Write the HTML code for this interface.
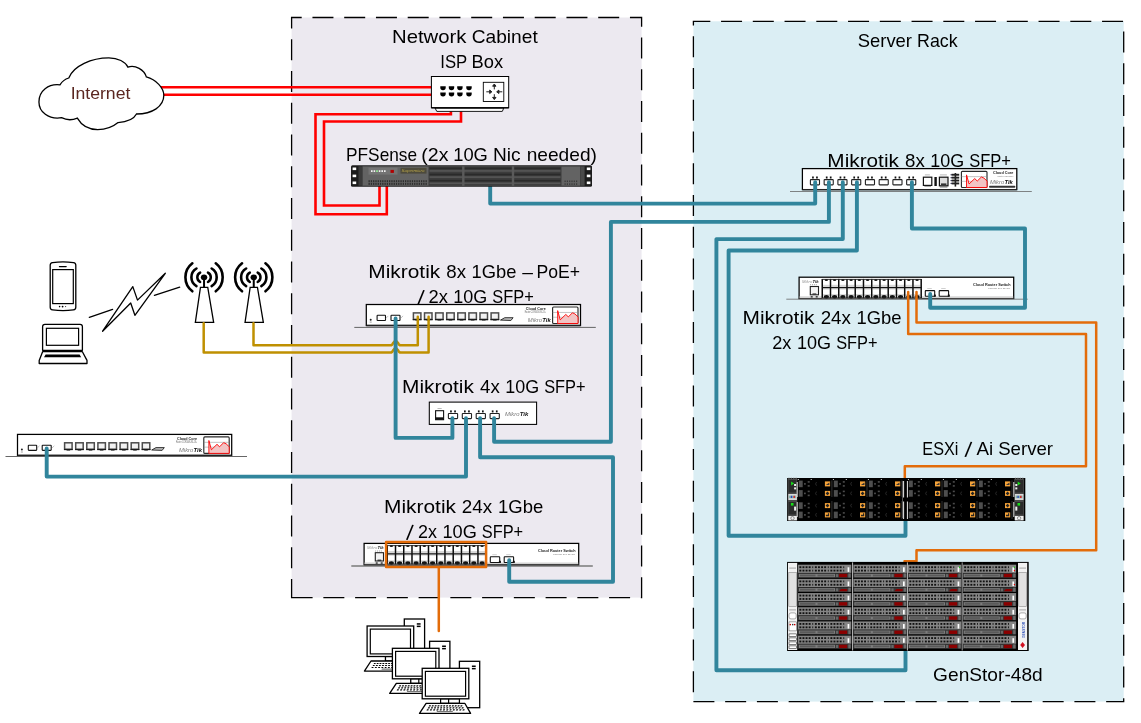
<!DOCTYPE html>
<html lang="en"><head><meta charset="utf-8"><title>Network diagram</title>
<style>html,body{margin:0;padding:0;background:#fff;}body{width:1141px;height:723px;overflow:hidden;}svg{display:block;will-change:transform;}</style>
</head><body>
<svg width="1141" height="723" viewBox="0 0 1141 723">
<rect x="0" y="0" width="1141" height="723" fill="#fff"/>
<rect x="291.6" y="17.5" width="350" height="580.1" fill="#ece9f0"/>
<path d="M291.6 597.6 H641.6 V17.5 H291.6 Z" fill="none" stroke="#000" stroke-width="1.3" stroke-dasharray="21 10.75"/>
<rect x="693.4" y="21.3" width="430.3" height="680.3" fill="#dbeef4"/>
<path d="M693.4 701.6 H1123.7 V21.3 H693.4 Z" fill="none" stroke="#000" stroke-width="1.3" stroke-dasharray="21 10.75"/>
<text font-family="'Liberation Sans', sans-serif" font-size="18.4" fill="#000"><tspan x="392.03" y="42.7" textLength="74.37" lengthAdjust="spacingAndGlyphs">Network</tspan> <tspan x="471.74" y="42.7" textLength="65.99" lengthAdjust="spacingAndGlyphs">Cabinet</tspan></text>
<text font-family="'Liberation Sans', sans-serif" font-size="18.4" fill="#000"><tspan x="440.27" y="67.7" textLength="26.69" lengthAdjust="spacingAndGlyphs">ISP</tspan> <tspan x="471.59" y="67.7" textLength="31.55" lengthAdjust="spacingAndGlyphs">Box</tspan></text>
<text font-family="'Liberation Sans', sans-serif" font-size="18.4" fill="#000"><tspan x="346.08" y="160.7" textLength="70.97" lengthAdjust="spacingAndGlyphs">PFSense</tspan> <tspan x="421.28" y="160.7" textLength="27.15" lengthAdjust="spacingAndGlyphs">(2x</tspan> <tspan x="453.23" y="160.7" textLength="34.65" lengthAdjust="spacingAndGlyphs">10G</tspan> <tspan x="492.92" y="160.7" textLength="27.59" lengthAdjust="spacingAndGlyphs">Nic</tspan> <tspan x="526.71" y="160.7" textLength="70.19" lengthAdjust="spacingAndGlyphs">needed)</tspan></text>
<text font-family="'Liberation Sans', sans-serif" font-size="18.4" fill="#000"><tspan x="857.77" y="47" textLength="54.21" lengthAdjust="spacingAndGlyphs">Server</tspan> <tspan x="917.03" y="47" textLength="40.58" lengthAdjust="spacingAndGlyphs">Rack</tspan></text>
<text font-family="'Liberation Sans', sans-serif" font-size="18.4" fill="#000"><tspan x="827.39" y="166.6" textLength="71.5" lengthAdjust="spacingAndGlyphs">Mikrotik</tspan> <tspan x="905.11" y="166.6" textLength="19.75" lengthAdjust="spacingAndGlyphs">8x</tspan> <tspan x="930.36" y="166.6" textLength="33.89" lengthAdjust="spacingAndGlyphs">10G</tspan> <tspan x="969.16" y="166.6" textLength="41.85" lengthAdjust="spacingAndGlyphs">SFP+</tspan></text>
<text font-family="'Liberation Sans', sans-serif" font-size="18.4" fill="#000"><tspan x="368.38" y="277.8" textLength="71.81" lengthAdjust="spacingAndGlyphs">Mikrotik</tspan> <tspan x="446.31" y="277.8" textLength="19.75" lengthAdjust="spacingAndGlyphs">8x</tspan> <tspan x="471.52" y="277.8" textLength="44.88" lengthAdjust="spacingAndGlyphs">1Gbe</tspan> <tspan x="522.3" y="277.8" textLength="10.72" lengthAdjust="spacingAndGlyphs">–</tspan> <tspan x="536.55" y="277.8" textLength="43.62" lengthAdjust="spacingAndGlyphs">PoE+</tspan></text>
<text font-family="'Liberation Sans', sans-serif" font-size="18.4" fill="#000"><tspan x="416.9" y="304.8" font-size="21.34" rotate="7">/</tspan> <tspan x="428.58" y="302.9" textLength="19.37" lengthAdjust="spacingAndGlyphs">2x</tspan> <tspan x="453.35" y="302.9" textLength="34" lengthAdjust="spacingAndGlyphs">10G</tspan> <tspan x="492.26" y="302.9" textLength="41.54" lengthAdjust="spacingAndGlyphs">SFP+</tspan></text>
<text font-family="'Liberation Sans', sans-serif" font-size="18.4" fill="#000"><tspan x="402.08" y="392.6" textLength="71.81" lengthAdjust="spacingAndGlyphs">Mikrotik</tspan> <tspan x="480.08" y="392.6" textLength="19.78" lengthAdjust="spacingAndGlyphs">4x</tspan> <tspan x="505.36" y="392.6" textLength="33.89" lengthAdjust="spacingAndGlyphs">10G</tspan> <tspan x="544.16" y="392.6" textLength="41.44" lengthAdjust="spacingAndGlyphs">SFP+</tspan></text>
<text font-family="'Liberation Sans', sans-serif" font-size="18.4" fill="#000"><tspan x="384.08" y="512.8" textLength="71.91" lengthAdjust="spacingAndGlyphs">Mikrotik</tspan> <tspan x="461.86" y="512.8" textLength="30.37" lengthAdjust="spacingAndGlyphs">24x</tspan> <tspan x="498.01" y="512.8" textLength="45.2" lengthAdjust="spacingAndGlyphs">1Gbe</tspan></text>
<text font-family="'Liberation Sans', sans-serif" font-size="18.4" fill="#000"><tspan x="406.1" y="539.6" font-size="21.34" rotate="7">/</tspan> <tspan x="418" y="537.7" textLength="18.94" lengthAdjust="spacingAndGlyphs">2x</tspan> <tspan x="442.44" y="537.7" textLength="34.33" lengthAdjust="spacingAndGlyphs">10G</tspan> <tspan x="481.76" y="537.7" textLength="41.44" lengthAdjust="spacingAndGlyphs">SFP+</tspan></text>
<text font-family="'Liberation Sans', sans-serif" font-size="18.4" fill="#000"><tspan x="742.58" y="323.6" textLength="71.91" lengthAdjust="spacingAndGlyphs">Mikrotik</tspan> <tspan x="820.66" y="323.6" textLength="30.27" lengthAdjust="spacingAndGlyphs">24x</tspan> <tspan x="856.42" y="323.6" textLength="45.09" lengthAdjust="spacingAndGlyphs">1Gbe</tspan></text>
<text font-family="'Liberation Sans', sans-serif" font-size="18.4" fill="#000"><tspan x="772.19" y="348.6" textLength="19.15" lengthAdjust="spacingAndGlyphs">2x</tspan> <tspan x="797.05" y="348.6" textLength="34.11" lengthAdjust="spacingAndGlyphs">10G</tspan> <tspan x="836.16" y="348.6" textLength="41.44" lengthAdjust="spacingAndGlyphs">SFP+</tspan></text>
<text font-family="'Liberation Sans', sans-serif" font-size="18.4" fill="#000"><tspan x="922.36" y="454.7" textLength="36.04" lengthAdjust="spacingAndGlyphs">ESXi</tspan> <tspan x="964.5" y="456.6" font-size="21.34" rotate="7">/</tspan> <tspan x="976.55" y="454.7" textLength="16.7" lengthAdjust="spacingAndGlyphs">Ai</tspan> <tspan x="998.16" y="454.7" textLength="54.93" lengthAdjust="spacingAndGlyphs">Server</tspan></text>
<text font-family="'Liberation Sans', sans-serif" font-size="18.4" fill="#000"><tspan x="933.14" y="680.8" textLength="109.57" lengthAdjust="spacingAndGlyphs">GenStor-48d</tspan></text>
<path d="M160 87.3 L431 87.3" fill="none" stroke="#ff0000" stroke-width="2.6" stroke-linecap="butt" stroke-linejoin="round" />
<path d="M160 94.8 L431 94.8" fill="none" stroke="#ff0000" stroke-width="2.6" stroke-linecap="butt" stroke-linejoin="round" />
<path d="M59.97 84.84 C61.55 82.21 64.84 79.18 68.78 78 C73.38 65.77 91.79 57.89 108.87 57.89 C118.08 57.89 125.31 61.83 127.94 67.09 C135.17 64.46 144.37 69.72 146.34 76.95 C156.2 79.58 163.82 88.12 163.82 95.35 C163.82 106.53 152.26 114.02 136.48 114.02 C133.85 119.02 126.62 122.04 118.08 122.56 C112.16 127.56 104.93 129.53 97.7 129.53 C88.5 129.53 81.27 124.93 77.32 118.1 C72.07 120.33 65.49 119.67 61.55 117.7 C48.4 119.67 38.94 111.79 38.94 101.93 C38.94 90.75 48.4 83.52 59.97 84.84 Z" fill="#fff" stroke="#000" stroke-width="1.3"/>
<text font-family="'Liberation Sans', sans-serif" font-size="15.8" fill="#5a2620"><tspan x="70.67" y="99" textLength="59.68" lengthAdjust="spacingAndGlyphs">Internet</tspan></text>
<path d="M450.9 111 L450.9 114.3 L315.5 114.3 L315.5 214.2 L386.8 214.2 L386.8 184" fill="none" stroke="#ff0000" stroke-width="2.6" stroke-linecap="butt" stroke-linejoin="miter" />
<path d="M461 111 L461 121.5 L324 121.5 L324 205.5 L379.5 205.5 L379.5 184" fill="none" stroke="#ff0000" stroke-width="2.6" stroke-linecap="butt" stroke-linejoin="miter" />
<path d="M435 108 L503.8 108 L502.3 111.4 L436.8 111.4 Z" fill="#fff" stroke="#000" stroke-width="0.9" stroke-linejoin="round"/>
<rect x="431.4" y="76.5" width="77.3" height="31.2" fill="#fff" stroke="#000" stroke-width="1" />
<line x1="431.4" y1="107.9" x2="508.7" y2="107.9" stroke="#000" stroke-width="1.3" />
<path d="M440.3 86.3 h5.4 v1.3 q0 2.6 -2.7 2.6 q-2.7 0 -2.7 -2.6 Z" fill="#000"/>
<path d="M440.3 92.5 h5.4 v1.3 q0 2.6 -2.7 2.6 q-2.7 0 -2.7 -2.6 Z" fill="#000"/>
<path d="M448.8 86.3 h5.4 v1.3 q0 2.6 -2.7 2.6 q-2.7 0 -2.7 -2.6 Z" fill="#000"/>
<path d="M448.8 92.5 h5.4 v1.3 q0 2.6 -2.7 2.6 q-2.7 0 -2.7 -2.6 Z" fill="#000"/>
<path d="M457.2 86.3 h5.4 v1.3 q0 2.6 -2.7 2.6 q-2.7 0 -2.7 -2.6 Z" fill="#000"/>
<path d="M457.2 92.5 h5.4 v1.3 q0 2.6 -2.7 2.6 q-2.7 0 -2.7 -2.6 Z" fill="#000"/>
<path d="M466.3 86.3 h5.4 v1.3 q0 2.6 -2.7 2.6 q-2.7 0 -2.7 -2.6 Z" fill="#000"/>
<path d="M466.3 92.5 h5.4 v1.3 q0 2.6 -2.7 2.6 q-2.7 0 -2.7 -2.6 Z" fill="#000"/>
<rect x="483.3" y="82.3" width="20.5" height="19.2" fill="#fff" stroke="#000" stroke-width="0.9" />
<g stroke="#222" stroke-width="1" fill="#222" stroke-linejoin="round"><path d="M494.3 89.39999999999999 V85.8 M492.6 86.2 L494.3 84.0 L496.0 86.2 Z"/><path d="M494.3 94.2 V97.8 M492.6 97.39999999999999 L494.3 99.6 L496.0 97.39999999999999 Z"/><path d="M486.3 91.8 H489.7 M489.7 90.1 L491.90000000000003 91.8 L489.7 93.5 Z"/><path d="M502.3 91.8 H498.90000000000003 M498.90000000000003 90.1 L496.7 91.8 L498.90000000000003 93.5 Z"/></g>
<line x1="354.3" y1="327.4" x2="595.8" y2="327.4" stroke="#555" stroke-width="0.9" />
<rect x="366.3" y="304.5" width="214.2" height="21" fill="#fff" stroke="#000" stroke-width="1.25" />
<line x1="366.3" y1="325.5" x2="580.5" y2="325.5" stroke="#222" stroke-width="1.3" />
<circle cx="370.7" cy="319.7" r="1" fill="#222"/>
<line x1="369.7" y1="322.1" x2="371.7" y2="322.1" stroke="#444" stroke-width="0.5" />
<rect x="377.1" y="315.3" width="8.4" height="5.2" fill="#fff" stroke="#111" stroke-width="1.1" rx="0.6"/>
<rect x="391" y="315.3" width="9" height="5.2" fill="#fff" stroke="#111" stroke-width="1.1" rx="0.6"/>
<line x1="385.9" y1="318.3" x2="388.3" y2="315.9" stroke="#999" stroke-width="0.6" />
<line x1="400.6" y1="318.3" x2="403.1" y2="315.9" stroke="#999" stroke-width="0.6" />
<rect x="413.4" y="312.9" width="7.5" height="6.5" fill="#f2f2f2" stroke="#4c4c4c" stroke-width="1.5" />
<rect x="412.8" y="319" width="8.7" height="1.2" fill="#1a1a1a" stroke="none" stroke-width="1" />
<rect x="415.37" y="320.1" width="3.56" height="0.8" fill="#555" stroke="none" stroke-width="1" />
<rect x="424.5" y="312.9" width="7.5" height="6.5" fill="#f2f2f2" stroke="#4c4c4c" stroke-width="1.5" />
<rect x="423.9" y="319" width="8.7" height="1.2" fill="#1a1a1a" stroke="none" stroke-width="1" />
<rect x="426.47" y="320.1" width="3.56" height="0.8" fill="#555" stroke="none" stroke-width="1" />
<rect x="435.6" y="312.9" width="7.5" height="6.5" fill="#f2f2f2" stroke="#4c4c4c" stroke-width="1.5" />
<rect x="435" y="319" width="8.7" height="1.2" fill="#1a1a1a" stroke="none" stroke-width="1" />
<rect x="437.57" y="320.1" width="3.56" height="0.8" fill="#555" stroke="none" stroke-width="1" />
<rect x="446.7" y="312.9" width="7.5" height="6.5" fill="#f2f2f2" stroke="#4c4c4c" stroke-width="1.5" />
<rect x="446.1" y="319" width="8.7" height="1.2" fill="#1a1a1a" stroke="none" stroke-width="1" />
<rect x="448.67" y="320.1" width="3.56" height="0.8" fill="#555" stroke="none" stroke-width="1" />
<rect x="457.8" y="312.9" width="7.5" height="6.5" fill="#f2f2f2" stroke="#4c4c4c" stroke-width="1.5" />
<rect x="457.2" y="319" width="8.7" height="1.2" fill="#1a1a1a" stroke="none" stroke-width="1" />
<rect x="459.77" y="320.1" width="3.56" height="0.8" fill="#555" stroke="none" stroke-width="1" />
<rect x="468.9" y="312.9" width="7.5" height="6.5" fill="#f2f2f2" stroke="#4c4c4c" stroke-width="1.5" />
<rect x="468.3" y="319" width="8.7" height="1.2" fill="#1a1a1a" stroke="none" stroke-width="1" />
<rect x="470.87" y="320.1" width="3.56" height="0.8" fill="#555" stroke="none" stroke-width="1" />
<rect x="480" y="312.9" width="7.5" height="6.5" fill="#f2f2f2" stroke="#4c4c4c" stroke-width="1.5" />
<rect x="479.4" y="319" width="8.7" height="1.2" fill="#1a1a1a" stroke="none" stroke-width="1" />
<rect x="481.97" y="320.1" width="3.56" height="0.8" fill="#555" stroke="none" stroke-width="1" />
<rect x="491.1" y="312.9" width="7.5" height="6.5" fill="#f2f2f2" stroke="#4c4c4c" stroke-width="1.5" />
<rect x="490.5" y="319" width="8.7" height="1.2" fill="#1a1a1a" stroke="none" stroke-width="1" />
<rect x="493.07" y="320.1" width="3.56" height="0.8" fill="#555" stroke="none" stroke-width="1" />
<path d="M500.5 320.1 L504.8 317.7 L513.1 317.7 L510.9 320.5 Z" fill="#bbb" stroke="#222" stroke-width="0.9" stroke-linejoin="round"/>
<text transform="translate(525.8 310.3) scale(0.1)" font-family="'Liberation Sans', sans-serif" font-size="44" font-weight="bold" font-style="normal" fill="#222" textLength="200" lengthAdjust="spacingAndGlyphs">Cloud Core</text>
<text transform="translate(524.8 313.3) scale(0.1)" font-family="'Liberation Sans', sans-serif" font-size="26" font-weight="normal" font-style="normal" fill="#666" textLength="210" lengthAdjust="spacingAndGlyphs">Router CCR1009-8G-1S+</text>
<text transform="translate(527.8 321.7) scale(0.1)" font-family="'Liberation Sans', sans-serif" font-size="56" font-weight="normal" font-style="italic" fill="#777" textLength="142.6" lengthAdjust="spacingAndGlyphs">Mikro</text>
<text transform="translate(542.29 321.7) scale(0.1)" font-family="'Liberation Sans', sans-serif" font-size="56" font-weight="bold" font-style="italic" fill="#111" textLength="85.1" lengthAdjust="spacingAndGlyphs">Tik</text>
<rect x="552.6" y="307" width="25.4" height="16.5" fill="#fff" stroke="#2a2a2a" stroke-width="1.15" rx="1"/>
<line x1="552.6" y1="312.44" x2="578" y2="312.44" stroke="#888" stroke-width="0.5" />
<line x1="552.6" y1="317.23" x2="578" y2="317.23" stroke="#888" stroke-width="0.5" />
<path d="M557.68 323.5 L557.68 310.63 L560.22 319.87 L565.81 314.43 L568.35 316.9 L572.41 312.77 L574.95 313.93 L578 316.9 L578 323.5 Z" fill="#f2c4c4" stroke="#f00" stroke-width="0.9" stroke-linejoin="round"/>
<line x1="5.5" y1="456.5" x2="247" y2="456.5" stroke="#555" stroke-width="0.9" />
<rect x="17.5" y="434.4" width="214.2" height="21" fill="#fff" stroke="#000" stroke-width="1.25" />
<line x1="17.5" y1="455.4" x2="231.7" y2="455.4" stroke="#222" stroke-width="1.3" />
<circle cx="21.9" cy="449.6" r="1" fill="#222"/>
<line x1="20.9" y1="452" x2="22.9" y2="452" stroke="#444" stroke-width="0.5" />
<rect x="28.3" y="445.2" width="8.4" height="5.2" fill="#fff" stroke="#111" stroke-width="1.1" rx="0.6"/>
<rect x="42.2" y="445.2" width="9" height="5.2" fill="#fff" stroke="#111" stroke-width="1.1" rx="0.6"/>
<line x1="37.1" y1="448.2" x2="39.5" y2="445.8" stroke="#999" stroke-width="0.6" />
<line x1="51.8" y1="448.2" x2="54.3" y2="445.8" stroke="#999" stroke-width="0.6" />
<rect x="64.6" y="442.8" width="7.5" height="6.5" fill="#f2f2f2" stroke="#4c4c4c" stroke-width="1.5" />
<rect x="64" y="448.9" width="8.7" height="1.2" fill="#1a1a1a" stroke="none" stroke-width="1" />
<rect x="66.57" y="450" width="3.56" height="0.8" fill="#555" stroke="none" stroke-width="1" />
<rect x="75.7" y="442.8" width="7.5" height="6.5" fill="#f2f2f2" stroke="#4c4c4c" stroke-width="1.5" />
<rect x="75.1" y="448.9" width="8.7" height="1.2" fill="#1a1a1a" stroke="none" stroke-width="1" />
<rect x="77.67" y="450" width="3.56" height="0.8" fill="#555" stroke="none" stroke-width="1" />
<rect x="86.8" y="442.8" width="7.5" height="6.5" fill="#f2f2f2" stroke="#4c4c4c" stroke-width="1.5" />
<rect x="86.2" y="448.9" width="8.7" height="1.2" fill="#1a1a1a" stroke="none" stroke-width="1" />
<rect x="88.77" y="450" width="3.56" height="0.8" fill="#555" stroke="none" stroke-width="1" />
<rect x="97.9" y="442.8" width="7.5" height="6.5" fill="#f2f2f2" stroke="#4c4c4c" stroke-width="1.5" />
<rect x="97.3" y="448.9" width="8.7" height="1.2" fill="#1a1a1a" stroke="none" stroke-width="1" />
<rect x="99.87" y="450" width="3.56" height="0.8" fill="#555" stroke="none" stroke-width="1" />
<rect x="109" y="442.8" width="7.5" height="6.5" fill="#f2f2f2" stroke="#4c4c4c" stroke-width="1.5" />
<rect x="108.4" y="448.9" width="8.7" height="1.2" fill="#1a1a1a" stroke="none" stroke-width="1" />
<rect x="110.97" y="450" width="3.56" height="0.8" fill="#555" stroke="none" stroke-width="1" />
<rect x="120.1" y="442.8" width="7.5" height="6.5" fill="#f2f2f2" stroke="#4c4c4c" stroke-width="1.5" />
<rect x="119.5" y="448.9" width="8.7" height="1.2" fill="#1a1a1a" stroke="none" stroke-width="1" />
<rect x="122.07" y="450" width="3.56" height="0.8" fill="#555" stroke="none" stroke-width="1" />
<rect x="131.2" y="442.8" width="7.5" height="6.5" fill="#f2f2f2" stroke="#4c4c4c" stroke-width="1.5" />
<rect x="130.6" y="448.9" width="8.7" height="1.2" fill="#1a1a1a" stroke="none" stroke-width="1" />
<rect x="133.17" y="450" width="3.56" height="0.8" fill="#555" stroke="none" stroke-width="1" />
<rect x="142.3" y="442.8" width="7.5" height="6.5" fill="#f2f2f2" stroke="#4c4c4c" stroke-width="1.5" />
<rect x="141.7" y="448.9" width="8.7" height="1.2" fill="#1a1a1a" stroke="none" stroke-width="1" />
<rect x="144.27" y="450" width="3.56" height="0.8" fill="#555" stroke="none" stroke-width="1" />
<path d="M151.7 450 L156 447.6 L164.3 447.6 L162.1 450.4 Z" fill="#bbb" stroke="#222" stroke-width="0.9" stroke-linejoin="round"/>
<text transform="translate(177 440.2) scale(0.1)" font-family="'Liberation Sans', sans-serif" font-size="44" font-weight="bold" font-style="normal" fill="#222" textLength="200" lengthAdjust="spacingAndGlyphs">Cloud Core</text>
<text transform="translate(176 443.2) scale(0.1)" font-family="'Liberation Sans', sans-serif" font-size="26" font-weight="normal" font-style="normal" fill="#666" textLength="210" lengthAdjust="spacingAndGlyphs">Router CCR1009-8G-1S+</text>
<text transform="translate(179 451.6) scale(0.1)" font-family="'Liberation Sans', sans-serif" font-size="56" font-weight="normal" font-style="italic" fill="#777" textLength="142.6" lengthAdjust="spacingAndGlyphs">Mikro</text>
<text transform="translate(193.49 451.6) scale(0.1)" font-family="'Liberation Sans', sans-serif" font-size="56" font-weight="bold" font-style="italic" fill="#111" textLength="85.1" lengthAdjust="spacingAndGlyphs">Tik</text>
<rect x="203.8" y="436.9" width="25.4" height="16.5" fill="#fff" stroke="#2a2a2a" stroke-width="1.15" rx="1"/>
<line x1="203.8" y1="442.34" x2="229.2" y2="442.34" stroke="#888" stroke-width="0.5" />
<line x1="203.8" y1="447.13" x2="229.2" y2="447.13" stroke="#888" stroke-width="0.5" />
<path d="M208.88 453.4 L208.88 440.53 L211.42 449.77 L217.01 444.32 L219.55 446.8 L223.61 442.67 L226.15 443.83 L229.2 446.8 L229.2 453.4 Z" fill="#f2c4c4" stroke="#f00" stroke-width="0.9" stroke-linejoin="round"/>
<line x1="790" y1="191.5" x2="1031.8" y2="191.5" stroke="#666" stroke-width="0.8" />
<rect x="802.4" y="168.6" width="214.4" height="21" fill="#fff" stroke="#000" stroke-width="1.25" />
<line x1="802.4" y1="189.6" x2="1016.8" y2="189.6" stroke="#222" stroke-width="1.3" />
<rect x="810.4" y="179.6" width="9.1" height="5.3" fill="#fff" stroke="#222" stroke-width="1.1" rx="0.6"/>
<rect x="812.1" y="176.5" width="1.7" height="2" fill="#111" stroke="none" stroke-width="1" />
<rect x="816.1" y="176.5" width="1.7" height="2" fill="#111" stroke="none" stroke-width="1" />
<rect x="824.15" y="179.6" width="9.1" height="5.3" fill="#fff" stroke="#222" stroke-width="1.1" rx="0.6"/>
<rect x="825.85" y="176.5" width="1.7" height="2" fill="#111" stroke="none" stroke-width="1" />
<rect x="829.85" y="176.5" width="1.7" height="2" fill="#111" stroke="none" stroke-width="1" />
<rect x="837.9" y="179.6" width="9.1" height="5.3" fill="#fff" stroke="#222" stroke-width="1.1" rx="0.6"/>
<rect x="839.6" y="176.5" width="1.7" height="2" fill="#111" stroke="none" stroke-width="1" />
<rect x="843.6" y="176.5" width="1.7" height="2" fill="#111" stroke="none" stroke-width="1" />
<rect x="851.65" y="179.6" width="9.1" height="5.3" fill="#fff" stroke="#222" stroke-width="1.1" rx="0.6"/>
<rect x="853.35" y="176.5" width="1.7" height="2" fill="#111" stroke="none" stroke-width="1" />
<rect x="857.35" y="176.5" width="1.7" height="2" fill="#111" stroke="none" stroke-width="1" />
<rect x="865.4" y="179.6" width="9.1" height="5.3" fill="#fff" stroke="#222" stroke-width="1.1" rx="0.6"/>
<rect x="867.1" y="176.5" width="1.7" height="2" fill="#111" stroke="none" stroke-width="1" />
<rect x="871.1" y="176.5" width="1.7" height="2" fill="#111" stroke="none" stroke-width="1" />
<rect x="879.15" y="179.6" width="9.1" height="5.3" fill="#fff" stroke="#222" stroke-width="1.1" rx="0.6"/>
<rect x="880.85" y="176.5" width="1.7" height="2" fill="#111" stroke="none" stroke-width="1" />
<rect x="884.85" y="176.5" width="1.7" height="2" fill="#111" stroke="none" stroke-width="1" />
<rect x="892.9" y="179.6" width="9.1" height="5.3" fill="#fff" stroke="#222" stroke-width="1.1" rx="0.6"/>
<rect x="894.6" y="176.5" width="1.7" height="2" fill="#111" stroke="none" stroke-width="1" />
<rect x="898.6" y="176.5" width="1.7" height="2" fill="#111" stroke="none" stroke-width="1" />
<rect x="906.65" y="179.6" width="9.1" height="5.3" fill="#fff" stroke="#222" stroke-width="1.1" rx="0.6"/>
<rect x="908.35" y="176.5" width="1.7" height="2" fill="#111" stroke="none" stroke-width="1" />
<rect x="912.35" y="176.5" width="1.7" height="2" fill="#111" stroke="none" stroke-width="1" />
<rect x="923.4" y="177.2" width="8.4" height="8.2" fill="#fff" stroke="#111" stroke-width="1.2" />
<line x1="924.4" y1="186.2" x2="931" y2="186.2" stroke="#333" stroke-width="0.6" />
<line x1="924.9" y1="174.9" x2="929.9" y2="174.9" stroke="#777" stroke-width="0.5" />
<rect x="934.4" y="177" width="2.4" height="9" fill="#111" stroke="none" stroke-width="1" />
<rect x="939.4" y="177.2" width="8.6" height="8.6" fill="#ddd" stroke="#111" stroke-width="1.2" />
<rect x="941" y="183.4" width="5.4" height="1.6" fill="#333" stroke="none" stroke-width="1" />
<line x1="939.9" y1="187" x2="947.4" y2="187" stroke="#333" stroke-width="0.7" />
<line x1="939.9" y1="174.9" x2="946.9" y2="174.9" stroke="#777" stroke-width="0.5" />
<rect x="951.6" y="173.8" width="7.6" height="1.9" fill="#222" stroke="none" stroke-width="1" />
<rect x="950.6" y="174.2" width="1.2" height="1.1" fill="#224" stroke="none" stroke-width="1" />
<rect x="951.6" y="176.7" width="7.6" height="1.9" fill="#222" stroke="none" stroke-width="1" />
<rect x="950.6" y="177.1" width="1.2" height="1.1" fill="#224" stroke="none" stroke-width="1" />
<rect x="951.6" y="179.6" width="7.6" height="1.9" fill="#222" stroke="none" stroke-width="1" />
<rect x="950.6" y="180" width="1.2" height="1.1" fill="#224" stroke="none" stroke-width="1" />
<rect x="951.6" y="182.5" width="7.6" height="1.9" fill="#222" stroke="none" stroke-width="1" />
<rect x="950.6" y="182.9" width="1.2" height="1.1" fill="#224" stroke="none" stroke-width="1" />
<line x1="955.4" y1="173" x2="955.4" y2="186.6" stroke="#222" stroke-width="1.6" />
<rect x="961.4" y="171.3" width="25.6" height="16.2" fill="#fff" stroke="#2a2a2a" stroke-width="1.15" rx="1"/>
<line x1="961.4" y1="176.65" x2="987" y2="176.65" stroke="#888" stroke-width="0.5" />
<line x1="961.4" y1="181.34" x2="987" y2="181.34" stroke="#888" stroke-width="0.5" />
<path d="M966.52 187.5 L966.52 174.86 L969.08 183.94 L974.71 178.59 L977.27 181.02 L981.37 176.97 L983.93 178.1 L987 181.02 L987 187.5 Z" fill="#f2c4c4" stroke="#f00" stroke-width="0.9" stroke-linejoin="round"/>
<text transform="translate(993 174) scale(0.1)" font-family="'Liberation Sans', sans-serif" font-size="44" font-weight="bold" font-style="normal" fill="#222" textLength="204" lengthAdjust="spacingAndGlyphs">Cloud Core</text>
<text transform="translate(997.4 176.6) scale(0.1)" font-family="'Liberation Sans', sans-serif" font-size="24" font-weight="normal" font-style="normal" fill="#777" textLength="160" lengthAdjust="spacingAndGlyphs">Router CCR1016</text>
<text transform="translate(989.9 184) scale(0.1)" font-family="'Liberation Sans', sans-serif" font-size="56" font-weight="normal" font-style="italic" fill="#777" textLength="142.6" lengthAdjust="spacingAndGlyphs">Mikro</text>
<text transform="translate(1004.39 184) scale(0.1)" font-family="'Liberation Sans', sans-serif" font-size="56" font-weight="bold" font-style="italic" fill="#111" textLength="85.1" lengthAdjust="spacingAndGlyphs">Tik</text>
<rect x="989" y="185.8" width="26.4" height="1.9" fill="#333" stroke="none" stroke-width="1" rx="0.9"/>
<rect x="429.3" y="402.1" width="107.3" height="22.3" fill="#fff" stroke="#000" stroke-width="1.05" />
<rect x="435.6" y="410.7" width="8" height="9" fill="#fff" stroke="#111" stroke-width="1.1" />
<rect x="435.6" y="417.3" width="8" height="2.4" fill="#111" stroke="none" stroke-width="1" />
<line x1="437.5" y1="408.5" x2="441.7" y2="408.5" stroke="#777" stroke-width="0.5" />
<rect x="448.4" y="413.5" width="9.2" height="5.1" fill="#fff" stroke="#222" stroke-width="1.1" rx="0.6"/>
<rect x="450.1" y="410.4" width="1.7" height="2" fill="#111" stroke="none" stroke-width="1" />
<rect x="454.2" y="410.4" width="1.7" height="2" fill="#111" stroke="none" stroke-width="1" />
<rect x="462.3" y="413.5" width="9.2" height="5.1" fill="#fff" stroke="#222" stroke-width="1.1" rx="0.6"/>
<rect x="464" y="410.4" width="1.7" height="2" fill="#111" stroke="none" stroke-width="1" />
<rect x="468.1" y="410.4" width="1.7" height="2" fill="#111" stroke="none" stroke-width="1" />
<rect x="476.2" y="413.5" width="9.2" height="5.1" fill="#fff" stroke="#222" stroke-width="1.1" rx="0.6"/>
<rect x="477.9" y="410.4" width="1.7" height="2" fill="#111" stroke="none" stroke-width="1" />
<rect x="482" y="410.4" width="1.7" height="2" fill="#111" stroke="none" stroke-width="1" />
<rect x="490.1" y="413.5" width="9.2" height="5.1" fill="#fff" stroke="#222" stroke-width="1.1" rx="0.6"/>
<rect x="491.8" y="410.4" width="1.7" height="2" fill="#111" stroke="none" stroke-width="1" />
<rect x="495.9" y="410.4" width="1.7" height="2" fill="#111" stroke="none" stroke-width="1" />
<text transform="translate(505.1 416.2) scale(0.1)" font-family="'Liberation Sans', sans-serif" font-size="56" font-weight="normal" font-style="italic" fill="#777" textLength="143.84" lengthAdjust="spacingAndGlyphs">Mikro</text>
<text transform="translate(519.72 416.2) scale(0.1)" font-family="'Liberation Sans', sans-serif" font-size="56" font-weight="bold" font-style="italic" fill="#111" textLength="85.84" lengthAdjust="spacingAndGlyphs">Tik</text>
<line x1="351.3" y1="566" x2="592.8" y2="566" stroke="#7a7a7a" stroke-width="1.5" />
<rect x="364.1" y="543.4" width="214.6" height="21.3" fill="#fff" stroke="#000" stroke-width="1.25" />
<rect x="364.6" y="562.5" width="213.6" height="1.7" fill="#d4d4d4" stroke="none" stroke-width="1" />
<line x1="364.1" y1="564.7" x2="578.7" y2="564.7" stroke="#444" stroke-width="1" />
<text transform="translate(367.1 549.4) scale(0.1)" font-family="'Liberation Sans', sans-serif" font-size="40" font-weight="normal" font-style="italic" fill="#999" textLength="102" lengthAdjust="spacingAndGlyphs">Mikro</text>
<text transform="translate(377.5 549.4) scale(0.1)" font-family="'Liberation Sans', sans-serif" font-size="40" font-weight="bold" font-style="italic" fill="#222" textLength="62" lengthAdjust="spacingAndGlyphs">Tik</text>
<rect x="375.1" y="550.7" width="1" height="0.6" fill="#666" stroke="none" stroke-width="1" />
<rect x="377" y="550.7" width="1" height="0.6" fill="#666" stroke="none" stroke-width="1" />
<rect x="378.9" y="550.7" width="1" height="0.6" fill="#666" stroke="none" stroke-width="1" />
<rect x="380.8" y="550.7" width="1" height="0.6" fill="#666" stroke="none" stroke-width="1" />
<rect x="375.3" y="552.7" width="8.2" height="8.3" fill="#f4f4f4" stroke="#222" stroke-width="1.1" />
<rect x="377.5" y="559.6" width="3.8" height="1.4" fill="#333" stroke="none" stroke-width="1" />
<rect x="375.7" y="562.4" width="2" height="1.3" fill="#222" stroke="none" stroke-width="1" />
<rect x="380.7" y="562.4" width="2" height="1.3" fill="#222" stroke="none" stroke-width="1" />
<rect x="387.1" y="545.1" width="99.24" height="19.3" fill="#fff" stroke="none" stroke-width="1" />
<rect x="388" y="551" width="6.74" height="2.4" fill="#d8d8d8" stroke="none" stroke-width="1" />
<rect x="388" y="554.4" width="6.74" height="1.6" fill="#e2e2e2" stroke="none" stroke-width="1" />
<rect x="388" y="560.4" width="6.74" height="1.6" fill="#cfcfcf" stroke="none" stroke-width="1" />
<ellipse cx="391.37" cy="546.1" rx="1.7" ry="1.0" fill="#111"/>
<ellipse cx="391.37" cy="563" rx="2.7" ry="1.7" fill="#111"/>
<rect x="396.25" y="551" width="6.74" height="2.4" fill="#d8d8d8" stroke="none" stroke-width="1" />
<rect x="396.25" y="554.4" width="6.74" height="1.6" fill="#e2e2e2" stroke="none" stroke-width="1" />
<rect x="396.25" y="560.4" width="6.74" height="1.6" fill="#cfcfcf" stroke="none" stroke-width="1" />
<ellipse cx="399.62" cy="546.1" rx="1.7" ry="1.0" fill="#111"/>
<ellipse cx="399.62" cy="563" rx="2.7" ry="1.7" fill="#111"/>
<rect x="404.49" y="551" width="6.74" height="2.4" fill="#d8d8d8" stroke="none" stroke-width="1" />
<rect x="404.49" y="554.4" width="6.74" height="1.6" fill="#e2e2e2" stroke="none" stroke-width="1" />
<rect x="404.49" y="560.4" width="6.74" height="1.6" fill="#cfcfcf" stroke="none" stroke-width="1" />
<ellipse cx="407.86" cy="546.1" rx="1.7" ry="1.0" fill="#111"/>
<ellipse cx="407.86" cy="563" rx="2.7" ry="1.7" fill="#111"/>
<rect x="412.74" y="551" width="6.74" height="2.4" fill="#d8d8d8" stroke="none" stroke-width="1" />
<rect x="412.74" y="554.4" width="6.74" height="1.6" fill="#e2e2e2" stroke="none" stroke-width="1" />
<rect x="412.74" y="560.4" width="6.74" height="1.6" fill="#cfcfcf" stroke="none" stroke-width="1" />
<ellipse cx="416.11" cy="546.1" rx="1.7" ry="1.0" fill="#111"/>
<ellipse cx="416.11" cy="563" rx="2.7" ry="1.7" fill="#111"/>
<rect x="420.98" y="551" width="6.74" height="2.4" fill="#d8d8d8" stroke="none" stroke-width="1" />
<rect x="420.98" y="554.4" width="6.74" height="1.6" fill="#e2e2e2" stroke="none" stroke-width="1" />
<rect x="420.98" y="560.4" width="6.74" height="1.6" fill="#cfcfcf" stroke="none" stroke-width="1" />
<ellipse cx="424.35" cy="546.1" rx="1.7" ry="1.0" fill="#111"/>
<ellipse cx="424.35" cy="563" rx="2.7" ry="1.7" fill="#111"/>
<rect x="429.23" y="551" width="6.74" height="2.4" fill="#d8d8d8" stroke="none" stroke-width="1" />
<rect x="429.23" y="554.4" width="6.74" height="1.6" fill="#e2e2e2" stroke="none" stroke-width="1" />
<rect x="429.23" y="560.4" width="6.74" height="1.6" fill="#cfcfcf" stroke="none" stroke-width="1" />
<ellipse cx="432.6" cy="546.1" rx="1.7" ry="1.0" fill="#111"/>
<ellipse cx="432.6" cy="563" rx="2.7" ry="1.7" fill="#111"/>
<rect x="437.47" y="551" width="6.74" height="2.4" fill="#d8d8d8" stroke="none" stroke-width="1" />
<rect x="437.47" y="554.4" width="6.74" height="1.6" fill="#e2e2e2" stroke="none" stroke-width="1" />
<rect x="437.47" y="560.4" width="6.74" height="1.6" fill="#cfcfcf" stroke="none" stroke-width="1" />
<ellipse cx="440.84" cy="546.1" rx="1.7" ry="1.0" fill="#111"/>
<ellipse cx="440.84" cy="563" rx="2.7" ry="1.7" fill="#111"/>
<rect x="445.71" y="551" width="6.74" height="2.4" fill="#d8d8d8" stroke="none" stroke-width="1" />
<rect x="445.71" y="554.4" width="6.74" height="1.6" fill="#e2e2e2" stroke="none" stroke-width="1" />
<rect x="445.71" y="560.4" width="6.74" height="1.6" fill="#cfcfcf" stroke="none" stroke-width="1" />
<ellipse cx="449.09" cy="546.1" rx="1.7" ry="1.0" fill="#111"/>
<ellipse cx="449.09" cy="563" rx="2.7" ry="1.7" fill="#111"/>
<rect x="453.96" y="551" width="6.74" height="2.4" fill="#d8d8d8" stroke="none" stroke-width="1" />
<rect x="453.96" y="554.4" width="6.74" height="1.6" fill="#e2e2e2" stroke="none" stroke-width="1" />
<rect x="453.96" y="560.4" width="6.74" height="1.6" fill="#cfcfcf" stroke="none" stroke-width="1" />
<ellipse cx="457.33" cy="546.1" rx="1.7" ry="1.0" fill="#111"/>
<ellipse cx="457.33" cy="563" rx="2.7" ry="1.7" fill="#111"/>
<rect x="462.2" y="551" width="6.74" height="2.4" fill="#d8d8d8" stroke="none" stroke-width="1" />
<rect x="462.2" y="554.4" width="6.74" height="1.6" fill="#e2e2e2" stroke="none" stroke-width="1" />
<rect x="462.2" y="560.4" width="6.74" height="1.6" fill="#cfcfcf" stroke="none" stroke-width="1" />
<ellipse cx="465.58" cy="546.1" rx="1.7" ry="1.0" fill="#111"/>
<ellipse cx="465.58" cy="563" rx="2.7" ry="1.7" fill="#111"/>
<rect x="470.45" y="551" width="6.74" height="2.4" fill="#d8d8d8" stroke="none" stroke-width="1" />
<rect x="470.45" y="554.4" width="6.74" height="1.6" fill="#e2e2e2" stroke="none" stroke-width="1" />
<rect x="470.45" y="560.4" width="6.74" height="1.6" fill="#cfcfcf" stroke="none" stroke-width="1" />
<ellipse cx="473.82" cy="546.1" rx="1.7" ry="1.0" fill="#111"/>
<ellipse cx="473.82" cy="563" rx="2.7" ry="1.7" fill="#111"/>
<rect x="478.69" y="551" width="6.74" height="2.4" fill="#d8d8d8" stroke="none" stroke-width="1" />
<rect x="478.69" y="554.4" width="6.74" height="1.6" fill="#e2e2e2" stroke="none" stroke-width="1" />
<rect x="478.69" y="560.4" width="6.74" height="1.6" fill="#cfcfcf" stroke="none" stroke-width="1" />
<ellipse cx="482.07" cy="546.1" rx="1.7" ry="1.0" fill="#111"/>
<ellipse cx="482.07" cy="563" rx="2.7" ry="1.7" fill="#111"/>
<line x1="387.25" y1="545.1" x2="387.25" y2="564.3" stroke="#0a0a0a" stroke-width="1.5" />
<line x1="395.5" y1="545.1" x2="395.5" y2="564.3" stroke="#0a0a0a" stroke-width="1.5" />
<line x1="403.74" y1="545.1" x2="403.74" y2="564.3" stroke="#0a0a0a" stroke-width="1.5" />
<line x1="411.99" y1="545.1" x2="411.99" y2="564.3" stroke="#0a0a0a" stroke-width="1.5" />
<line x1="420.23" y1="545.1" x2="420.23" y2="564.3" stroke="#0a0a0a" stroke-width="1.5" />
<line x1="428.48" y1="545.1" x2="428.48" y2="564.3" stroke="#0a0a0a" stroke-width="1.5" />
<line x1="436.72" y1="545.1" x2="436.72" y2="564.3" stroke="#0a0a0a" stroke-width="1.5" />
<line x1="444.96" y1="545.1" x2="444.96" y2="564.3" stroke="#0a0a0a" stroke-width="1.5" />
<line x1="453.21" y1="545.1" x2="453.21" y2="564.3" stroke="#0a0a0a" stroke-width="1.5" />
<line x1="461.45" y1="545.1" x2="461.45" y2="564.3" stroke="#0a0a0a" stroke-width="1.5" />
<line x1="469.7" y1="545.1" x2="469.7" y2="564.3" stroke="#0a0a0a" stroke-width="1.5" />
<line x1="477.94" y1="545.1" x2="477.94" y2="564.3" stroke="#0a0a0a" stroke-width="1.5" />
<line x1="486.19" y1="545.1" x2="486.19" y2="564.3" stroke="#0a0a0a" stroke-width="1.5" />
<line x1="387.1" y1="553.85" x2="486.34" y2="553.85" stroke="#111" stroke-width="1.3" />
<line x1="387.1" y1="545.6" x2="486.34" y2="545.6" stroke="#222" stroke-width="0.9" />
<line x1="387.1" y1="564" x2="486.34" y2="564" stroke="#222" stroke-width="0.9" />
<rect x="490.3" y="556.8" width="9.4" height="5.7" fill="#fff" stroke="#111" stroke-width="1.1" rx="0.6"/>
<rect x="498.9" y="560.8" width="2" height="2.2" fill="#111" stroke="none" stroke-width="1" />
<line x1="492.3" y1="554.7" x2="496.8" y2="554.7" stroke="#888" stroke-width="0.4" />
<rect x="504.2" y="556.8" width="9.4" height="5.7" fill="#fff" stroke="#111" stroke-width="1.1" rx="0.6"/>
<rect x="512.8" y="560.8" width="2" height="2.2" fill="#111" stroke="none" stroke-width="1" />
<line x1="506.2" y1="554.7" x2="510.7" y2="554.7" stroke="#888" stroke-width="0.4" />
<text transform="translate(538.1 551.9) scale(0.1)" font-family="'Liberation Sans', sans-serif" font-size="44" font-weight="bold" font-style="normal" fill="#222" textLength="374" lengthAdjust="spacingAndGlyphs">Cloud Router Switch</text>
<text transform="translate(553.1 555.2) scale(0.1)" font-family="'Liberation Sans', sans-serif" font-size="24" font-weight="normal" font-style="normal" fill="#777" textLength="220" lengthAdjust="spacingAndGlyphs">CRS 326-24G-2S+RM</text>
<line x1="786.3" y1="299.2" x2="1027.7" y2="299.2" stroke="#666" stroke-width="0.8" />
<rect x="799.1" y="277.2" width="214.6" height="21.3" fill="#fff" stroke="#000" stroke-width="1.25" />
<rect x="799.6" y="296.3" width="213.6" height="1.7" fill="#d4d4d4" stroke="none" stroke-width="1" />
<line x1="799.1" y1="298.5" x2="1013.7" y2="298.5" stroke="#444" stroke-width="1" />
<text transform="translate(802.1 283.2) scale(0.1)" font-family="'Liberation Sans', sans-serif" font-size="40" font-weight="normal" font-style="italic" fill="#999" textLength="102" lengthAdjust="spacingAndGlyphs">Mikro</text>
<text transform="translate(812.5 283.2) scale(0.1)" font-family="'Liberation Sans', sans-serif" font-size="40" font-weight="bold" font-style="italic" fill="#222" textLength="62" lengthAdjust="spacingAndGlyphs">Tik</text>
<rect x="810.1" y="284.5" width="1" height="0.6" fill="#666" stroke="none" stroke-width="1" />
<rect x="812" y="284.5" width="1" height="0.6" fill="#666" stroke="none" stroke-width="1" />
<rect x="813.9" y="284.5" width="1" height="0.6" fill="#666" stroke="none" stroke-width="1" />
<rect x="815.8" y="284.5" width="1" height="0.6" fill="#666" stroke="none" stroke-width="1" />
<rect x="810.3" y="286.5" width="8.2" height="8.3" fill="#f4f4f4" stroke="#222" stroke-width="1.1" />
<rect x="812.5" y="293.4" width="3.8" height="1.4" fill="#333" stroke="none" stroke-width="1" />
<rect x="810.7" y="296.2" width="2" height="1.3" fill="#222" stroke="none" stroke-width="1" />
<rect x="815.7" y="296.2" width="2" height="1.3" fill="#222" stroke="none" stroke-width="1" />
<rect x="822.1" y="278.9" width="99.24" height="19.3" fill="#fff" stroke="none" stroke-width="1" />
<rect x="823" y="284.8" width="6.74" height="2.4" fill="#d8d8d8" stroke="none" stroke-width="1" />
<rect x="823" y="288.2" width="6.74" height="1.6" fill="#e2e2e2" stroke="none" stroke-width="1" />
<rect x="823" y="294.2" width="6.74" height="1.6" fill="#cfcfcf" stroke="none" stroke-width="1" />
<ellipse cx="826.37" cy="279.9" rx="1.7" ry="1.0" fill="#111"/>
<ellipse cx="826.37" cy="296.8" rx="2.7" ry="1.7" fill="#111"/>
<rect x="831.25" y="284.8" width="6.74" height="2.4" fill="#d8d8d8" stroke="none" stroke-width="1" />
<rect x="831.25" y="288.2" width="6.74" height="1.6" fill="#e2e2e2" stroke="none" stroke-width="1" />
<rect x="831.25" y="294.2" width="6.74" height="1.6" fill="#cfcfcf" stroke="none" stroke-width="1" />
<ellipse cx="834.62" cy="279.9" rx="1.7" ry="1.0" fill="#111"/>
<ellipse cx="834.62" cy="296.8" rx="2.7" ry="1.7" fill="#111"/>
<rect x="839.49" y="284.8" width="6.74" height="2.4" fill="#d8d8d8" stroke="none" stroke-width="1" />
<rect x="839.49" y="288.2" width="6.74" height="1.6" fill="#e2e2e2" stroke="none" stroke-width="1" />
<rect x="839.49" y="294.2" width="6.74" height="1.6" fill="#cfcfcf" stroke="none" stroke-width="1" />
<ellipse cx="842.86" cy="279.9" rx="1.7" ry="1.0" fill="#111"/>
<ellipse cx="842.86" cy="296.8" rx="2.7" ry="1.7" fill="#111"/>
<rect x="847.74" y="284.8" width="6.74" height="2.4" fill="#d8d8d8" stroke="none" stroke-width="1" />
<rect x="847.74" y="288.2" width="6.74" height="1.6" fill="#e2e2e2" stroke="none" stroke-width="1" />
<rect x="847.74" y="294.2" width="6.74" height="1.6" fill="#cfcfcf" stroke="none" stroke-width="1" />
<ellipse cx="851.11" cy="279.9" rx="1.7" ry="1.0" fill="#111"/>
<ellipse cx="851.11" cy="296.8" rx="2.7" ry="1.7" fill="#111"/>
<rect x="855.98" y="284.8" width="6.74" height="2.4" fill="#d8d8d8" stroke="none" stroke-width="1" />
<rect x="855.98" y="288.2" width="6.74" height="1.6" fill="#e2e2e2" stroke="none" stroke-width="1" />
<rect x="855.98" y="294.2" width="6.74" height="1.6" fill="#cfcfcf" stroke="none" stroke-width="1" />
<ellipse cx="859.35" cy="279.9" rx="1.7" ry="1.0" fill="#111"/>
<ellipse cx="859.35" cy="296.8" rx="2.7" ry="1.7" fill="#111"/>
<rect x="864.23" y="284.8" width="6.74" height="2.4" fill="#d8d8d8" stroke="none" stroke-width="1" />
<rect x="864.23" y="288.2" width="6.74" height="1.6" fill="#e2e2e2" stroke="none" stroke-width="1" />
<rect x="864.23" y="294.2" width="6.74" height="1.6" fill="#cfcfcf" stroke="none" stroke-width="1" />
<ellipse cx="867.6" cy="279.9" rx="1.7" ry="1.0" fill="#111"/>
<ellipse cx="867.6" cy="296.8" rx="2.7" ry="1.7" fill="#111"/>
<rect x="872.47" y="284.8" width="6.74" height="2.4" fill="#d8d8d8" stroke="none" stroke-width="1" />
<rect x="872.47" y="288.2" width="6.74" height="1.6" fill="#e2e2e2" stroke="none" stroke-width="1" />
<rect x="872.47" y="294.2" width="6.74" height="1.6" fill="#cfcfcf" stroke="none" stroke-width="1" />
<ellipse cx="875.84" cy="279.9" rx="1.7" ry="1.0" fill="#111"/>
<ellipse cx="875.84" cy="296.8" rx="2.7" ry="1.7" fill="#111"/>
<rect x="880.72" y="284.8" width="6.74" height="2.4" fill="#d8d8d8" stroke="none" stroke-width="1" />
<rect x="880.72" y="288.2" width="6.74" height="1.6" fill="#e2e2e2" stroke="none" stroke-width="1" />
<rect x="880.72" y="294.2" width="6.74" height="1.6" fill="#cfcfcf" stroke="none" stroke-width="1" />
<ellipse cx="884.09" cy="279.9" rx="1.7" ry="1.0" fill="#111"/>
<ellipse cx="884.09" cy="296.8" rx="2.7" ry="1.7" fill="#111"/>
<rect x="888.96" y="284.8" width="6.74" height="2.4" fill="#d8d8d8" stroke="none" stroke-width="1" />
<rect x="888.96" y="288.2" width="6.74" height="1.6" fill="#e2e2e2" stroke="none" stroke-width="1" />
<rect x="888.96" y="294.2" width="6.74" height="1.6" fill="#cfcfcf" stroke="none" stroke-width="1" />
<ellipse cx="892.33" cy="279.9" rx="1.7" ry="1.0" fill="#111"/>
<ellipse cx="892.33" cy="296.8" rx="2.7" ry="1.7" fill="#111"/>
<rect x="897.21" y="284.8" width="6.74" height="2.4" fill="#d8d8d8" stroke="none" stroke-width="1" />
<rect x="897.21" y="288.2" width="6.74" height="1.6" fill="#e2e2e2" stroke="none" stroke-width="1" />
<rect x="897.21" y="294.2" width="6.74" height="1.6" fill="#cfcfcf" stroke="none" stroke-width="1" />
<ellipse cx="900.58" cy="279.9" rx="1.7" ry="1.0" fill="#111"/>
<ellipse cx="900.58" cy="296.8" rx="2.7" ry="1.7" fill="#111"/>
<rect x="905.45" y="284.8" width="6.74" height="2.4" fill="#d8d8d8" stroke="none" stroke-width="1" />
<rect x="905.45" y="288.2" width="6.74" height="1.6" fill="#e2e2e2" stroke="none" stroke-width="1" />
<rect x="905.45" y="294.2" width="6.74" height="1.6" fill="#cfcfcf" stroke="none" stroke-width="1" />
<ellipse cx="908.82" cy="279.9" rx="1.7" ry="1.0" fill="#111"/>
<ellipse cx="908.82" cy="296.8" rx="2.7" ry="1.7" fill="#111"/>
<rect x="913.7" y="284.8" width="6.74" height="2.4" fill="#d8d8d8" stroke="none" stroke-width="1" />
<rect x="913.7" y="288.2" width="6.74" height="1.6" fill="#e2e2e2" stroke="none" stroke-width="1" />
<rect x="913.7" y="294.2" width="6.74" height="1.6" fill="#cfcfcf" stroke="none" stroke-width="1" />
<ellipse cx="917.07" cy="279.9" rx="1.7" ry="1.0" fill="#111"/>
<ellipse cx="917.07" cy="296.8" rx="2.7" ry="1.7" fill="#111"/>
<line x1="822.25" y1="278.9" x2="822.25" y2="298.1" stroke="#0a0a0a" stroke-width="1.5" />
<line x1="830.5" y1="278.9" x2="830.5" y2="298.1" stroke="#0a0a0a" stroke-width="1.5" />
<line x1="838.74" y1="278.9" x2="838.74" y2="298.1" stroke="#0a0a0a" stroke-width="1.5" />
<line x1="846.99" y1="278.9" x2="846.99" y2="298.1" stroke="#0a0a0a" stroke-width="1.5" />
<line x1="855.23" y1="278.9" x2="855.23" y2="298.1" stroke="#0a0a0a" stroke-width="1.5" />
<line x1="863.48" y1="278.9" x2="863.48" y2="298.1" stroke="#0a0a0a" stroke-width="1.5" />
<line x1="871.72" y1="278.9" x2="871.72" y2="298.1" stroke="#0a0a0a" stroke-width="1.5" />
<line x1="879.97" y1="278.9" x2="879.97" y2="298.1" stroke="#0a0a0a" stroke-width="1.5" />
<line x1="888.21" y1="278.9" x2="888.21" y2="298.1" stroke="#0a0a0a" stroke-width="1.5" />
<line x1="896.46" y1="278.9" x2="896.46" y2="298.1" stroke="#0a0a0a" stroke-width="1.5" />
<line x1="904.7" y1="278.9" x2="904.7" y2="298.1" stroke="#0a0a0a" stroke-width="1.5" />
<line x1="912.95" y1="278.9" x2="912.95" y2="298.1" stroke="#0a0a0a" stroke-width="1.5" />
<line x1="921.19" y1="278.9" x2="921.19" y2="298.1" stroke="#0a0a0a" stroke-width="1.5" />
<line x1="822.1" y1="287.65" x2="921.34" y2="287.65" stroke="#111" stroke-width="1.3" />
<line x1="822.1" y1="279.4" x2="921.34" y2="279.4" stroke="#222" stroke-width="0.9" />
<line x1="822.1" y1="297.8" x2="921.34" y2="297.8" stroke="#222" stroke-width="0.9" />
<rect x="925.3" y="290.6" width="9.4" height="5.7" fill="#fff" stroke="#111" stroke-width="1.1" rx="0.6"/>
<rect x="933.9" y="294.6" width="2" height="2.2" fill="#111" stroke="none" stroke-width="1" />
<line x1="927.3" y1="288.5" x2="931.8" y2="288.5" stroke="#888" stroke-width="0.4" />
<rect x="939.2" y="290.6" width="9.4" height="5.7" fill="#fff" stroke="#111" stroke-width="1.1" rx="0.6"/>
<rect x="947.8" y="294.6" width="2" height="2.2" fill="#111" stroke="none" stroke-width="1" />
<line x1="941.2" y1="288.5" x2="945.7" y2="288.5" stroke="#888" stroke-width="0.4" />
<text transform="translate(973.1 285.7) scale(0.1)" font-family="'Liberation Sans', sans-serif" font-size="44" font-weight="bold" font-style="normal" fill="#222" textLength="374" lengthAdjust="spacingAndGlyphs">Cloud Router Switch</text>
<text transform="translate(988.1 289) scale(0.1)" font-family="'Liberation Sans', sans-serif" font-size="24" font-weight="normal" font-style="normal" fill="#777" textLength="220" lengthAdjust="spacingAndGlyphs">CRS 326-24G-2S+RM</text>
<path d="M52.6 262.6 Q63 261.3 73.4 262.6 Q75.8 262.9 75.8 265.2 V307.2 Q75.8 309.6 73.4 309.9 Q63 311.2 52.6 309.9 Q50.2 309.6 50.2 307.2 V265.2 Q50.2 262.9 52.6 262.6 Z" fill="#fff" stroke="#000" stroke-width="1.3"/>
<rect x="52.7" y="269.6" width="20.6" height="34" fill="#fff" stroke="#000" stroke-width="1.2" />
<line x1="59.4" y1="266.6" x2="66.2" y2="266.6" stroke="#000" stroke-width="1.2" stroke-linecap="round"/>
<circle cx="59.6" cy="306.6" r="0.8" fill="#000"/><circle cx="62.6" cy="306.6" r="0.9" fill="#000"/><path d="M65.2 305.9 l1.2 0.7 l-1.2 0.7 Z" fill="#000"/>
<path d="M42.6 350.3 V326.6 Q42.6 324.3 44.9 324.3 H80.1 Q82.4 324.3 82.4 326.6 V350.3 Z" fill="#fff" stroke="#000" stroke-width="1.3" stroke-linejoin="round"/>
<rect x="46.4" y="328.3" width="32.2" height="17" fill="#fff" stroke="#000" stroke-width="1.2" />
<path d="M42.6 351.7 H82.4 L87 360.4 V363.5 H39.2 V360.4 Z" fill="#fff" stroke="#000" stroke-width="1.3" stroke-linejoin="round"/>
<path d="M45.6 354.6 H79.6 L81.2 357.3 H44 Z" fill="#000"/>
<line x1="89.3" y1="317.4" x2="112.6" y2="309.4" stroke="#000" stroke-width="1.3" stroke-linecap="round"/>
<line x1="154.4" y1="295.3" x2="179.7" y2="287.2" stroke="#000" stroke-width="1.3" stroke-linecap="round"/>
<path d="M102.6 331.2 L132.8 286.6 L137.5 300.1 L165.3 273.3 L134.9 315.3 L130.7 303 Z" fill="#fff" stroke="#000" stroke-width="1.3" stroke-linejoin="round"/>
<path d="M200.45 287.3 H207.75 L213.65 322.4 H195.35 Z" fill="#fff" stroke="#000" stroke-width="1.3" stroke-linejoin="miter"/>
<line x1="204.05" y1="277.3" x2="204.05" y2="287.2" stroke="#000" stroke-width="2.0" />
<ellipse cx="204.05" cy="277.3" rx="3.2" ry="2.9" fill="#000"/>
<path d="M207.95 272.6 A5.3 5.3 0 0 1 207.95 282" fill="none" stroke="#000" stroke-width="2.5" stroke-linecap="round"/>
<path d="M200.15 272.6 A5.3 5.3 0 0 0 200.15 282" fill="none" stroke="#000" stroke-width="2.5" stroke-linecap="round"/>
<path d="M211.65 268.5 A10.2 10.2 0 0 1 211.65 286.1" fill="none" stroke="#000" stroke-width="2.6" stroke-linecap="round"/>
<path d="M196.45 268.5 A10.2 10.2 0 0 0 196.45 286.1" fill="none" stroke="#000" stroke-width="2.6" stroke-linecap="round"/>
<path d="M215.75 263.3 A17.6 17.6 0 0 1 215.75 291.3" fill="none" stroke="#000" stroke-width="2.6" stroke-linecap="round"/>
<path d="M192.35 263.3 A17.6 17.6 0 0 0 192.35 291.3" fill="none" stroke="#000" stroke-width="2.6" stroke-linecap="round"/>
<path d="M250.15 287.3 H257.45 L263.35 322.4 H245.05 Z" fill="#fff" stroke="#000" stroke-width="1.3" stroke-linejoin="miter"/>
<line x1="253.75" y1="277.3" x2="253.75" y2="287.2" stroke="#000" stroke-width="2.0" />
<ellipse cx="253.75" cy="277.3" rx="3.2" ry="2.9" fill="#000"/>
<path d="M257.65 272.6 A5.3 5.3 0 0 1 257.65 282" fill="none" stroke="#000" stroke-width="2.5" stroke-linecap="round"/>
<path d="M249.85 272.6 A5.3 5.3 0 0 0 249.85 282" fill="none" stroke="#000" stroke-width="2.5" stroke-linecap="round"/>
<path d="M261.35 268.5 A10.2 10.2 0 0 1 261.35 286.1" fill="none" stroke="#000" stroke-width="2.6" stroke-linecap="round"/>
<path d="M246.15 268.5 A10.2 10.2 0 0 0 246.15 286.1" fill="none" stroke="#000" stroke-width="2.6" stroke-linecap="round"/>
<path d="M265.45 263.3 A17.6 17.6 0 0 1 265.45 291.3" fill="none" stroke="#000" stroke-width="2.6" stroke-linecap="round"/>
<path d="M242.05 263.3 A17.6 17.6 0 0 0 242.05 291.3" fill="none" stroke="#000" stroke-width="2.6" stroke-linecap="round"/>
<path d="M253.5 323.2 L253.5 345.3 L390.4 345.3 Q392.4 345.3 393 343.1 Q395.6 338.7 398.2 343.1 Q398.8 345.3 400.8 345.3 L417.8 345.3 L417.8 316.8" fill="none" stroke="#bf9000" stroke-width="2.5" stroke-linecap="round" stroke-linejoin="round"/>
<path d="M203.7 323.2 L203.7 352.6 L390.4 352.6 Q392.4 352.6 393 350.4 Q395.6 346 398.2 350.4 Q398.8 352.6 400.8 352.6 L428.6 352.6 L428.6 316.8" fill="none" stroke="#bf9000" stroke-width="2.5" stroke-linecap="round" stroke-linejoin="round"/>
<path d="M490.2 184 L490.2 203.6 L815.2 203.6 L815.2 182.3" fill="none" stroke="#31859c" stroke-width="3.9" stroke-linecap="round" stroke-linejoin="round" />
<path d="M494.1 418.3 L494.1 441.8 L610.9 441.8 L610.9 221.9 L828.9 221.9 L828.9 182.3" fill="none" stroke="#31859c" stroke-width="3.9" stroke-linecap="round" stroke-linejoin="round" />
<path d="M480.1 418.3 L480.1 457.2 L613 457.2 L613 581.7 L509.2 581.7 L509.2 560.2" fill="none" stroke="#31859c" stroke-width="3.9" stroke-linecap="round" stroke-linejoin="round" />
<path d="M466 418.3 L466 476.6 L46.7 476.6 L46.7 448.4" fill="none" stroke="#31859c" stroke-width="3.9" stroke-linecap="round" stroke-linejoin="round" />
<path d="M452.4 418.3 L452.4 437.9 L395.6 437.9 L395.6 318.4" fill="none" stroke="#31859c" stroke-width="3.9" stroke-linecap="round" stroke-linejoin="round" />
<path d="M842.8 182.3 L842.8 239.1 L716.4 239.1 L716.4 670.2 L905.5 670.2 L905.5 648" fill="none" stroke="#31859c" stroke-width="3.9" stroke-linecap="round" stroke-linejoin="round" />
<path d="M856.9 182.3 L856.9 250.5 L728.6 250.5 L728.6 535.8 L905.5 535.8 L905.5 518" fill="none" stroke="#31859c" stroke-width="3.9" stroke-linecap="round" stroke-linejoin="round" />
<path d="M911.9 182.3 L911.9 228.5 L1025 228.5 L1025 307.7 L930.2 307.7 L930.2 293.9" fill="none" stroke="#31859c" stroke-width="3.9" stroke-linecap="round" stroke-linejoin="round" />
<path d="M908.2 292 L908.2 334 L1086 334 L1086 466.3 L904.8 466.3 L904.8 480" fill="none" stroke="#e36c0a" stroke-width="2.5" stroke-linecap="round" stroke-linejoin="round" />
<path d="M916.5 292 L916.5 322.5 L1096.2 322.5 L1096.2 550.3 L916.5 550.3 L916.5 561.3 L904.5 561.3" fill="none" stroke="#e36c0a" stroke-width="2.5" stroke-linecap="round" stroke-linejoin="round" />
<rect x="386.1" y="542" width="100" height="25" fill="none" stroke="#e36c0a" stroke-width="2.5" stroke-linejoin="round"/>
<path d="M438.8 568 L438.8 631" fill="none" stroke="#e36c0a" stroke-width="2.5" stroke-linecap="round" stroke-linejoin="round" />
<rect x="351.0" y="165.3" width="241.0" height="21.5" rx="1.5" fill="#1c1c1c"/>
<rect x="362.3" y="166.3" width="218.1" height="19.5" fill="#636363" stroke="none" stroke-width="1" />
<rect x="352.6" y="167.5" width="3.6" height="2.6" fill="#fff" stroke="none" stroke-width="1" />
<rect x="352.6" y="174.6" width="3.6" height="2.6" fill="#fff" stroke="none" stroke-width="1" />
<rect x="352.6" y="181.5" width="3.6" height="2.6" fill="#fff" stroke="none" stroke-width="1" />
<rect x="586.8" y="167.5" width="3.6" height="2.6" fill="#fff" stroke="none" stroke-width="1" />
<rect x="586.8" y="174.6" width="3.6" height="2.6" fill="#fff" stroke="none" stroke-width="1" />
<rect x="586.8" y="181.5" width="3.6" height="2.6" fill="#fff" stroke="none" stroke-width="1" />
<rect x="358.5" y="166.3" width="3.8" height="19.5" fill="#3a3a3a" stroke="none" stroke-width="1" />
<rect x="580.4" y="166.3" width="4.2" height="19.5" fill="#4a4a4a" stroke="none" stroke-width="1" />
<rect x="428.5" y="166.3" width="133" height="19.5" fill="#3c3c3c" stroke="none" stroke-width="1" />
<rect x="429.5" y="167.5" width="131" height="1.6" fill="#2a2a2a" stroke="none" stroke-width="1" />
<rect x="429.5" y="170.1" width="131" height="1.6" fill="#565656" stroke="none" stroke-width="1" />
<rect x="429.5" y="173.7" width="131" height="1.6" fill="#2a2a2a" stroke="none" stroke-width="1" />
<rect x="429.5" y="176.3" width="131" height="1.6" fill="#565656" stroke="none" stroke-width="1" />
<rect x="429.5" y="179.9" width="131" height="1.6" fill="#2a2a2a" stroke="none" stroke-width="1" />
<rect x="429.5" y="182.5" width="131" height="1.6" fill="#565656" stroke="none" stroke-width="1" />
<rect x="462.1" y="166.3" width="2.4" height="19.5" fill="#5a5a5a" stroke="none" stroke-width="1" />
<rect x="511.8" y="166.3" width="2.4" height="19.5" fill="#5a5a5a" stroke="none" stroke-width="1" />
<rect x="368.5" y="167.6" width="29" height="7" fill="#747474" stroke="none" stroke-width="1" />
<rect x="371" y="170.3" width="1.6" height="1.6" fill="#fff" stroke="none" stroke-width="1" />
<rect x="373.6" y="170.3" width="1.6" height="1.6" fill="#fff" stroke="none" stroke-width="1" />
<rect x="376.2" y="170.3" width="1.6" height="1.6" fill="#9f9" stroke="none" stroke-width="1" />
<rect x="378.8" y="170.3" width="1.6" height="1.6" fill="#fff" stroke="none" stroke-width="1" />
<rect x="381.4" y="170.3" width="1.6" height="1.6" fill="#fff" stroke="none" stroke-width="1" />
<rect x="384" y="170.3" width="1.6" height="1.6" fill="#fff" stroke="none" stroke-width="1" />
<rect x="390.5" y="169.9" width="3.4" height="3" fill="#b00000" stroke="none" stroke-width="1" />
<rect x="400.5" y="167.8" width="26" height="5.8" fill="#4d4a3c" stroke="none" stroke-width="1" />
<text transform="translate(401.5 172.3) scale(0.1)" font-family="'Liberation Sans', sans-serif" font-size="44" font-weight="normal" font-style="italic" fill="#b9a54a" textLength="230" lengthAdjust="spacingAndGlyphs">Supermicro</text>
<rect x="368.5" y="180.2" width="1.3" height="2" fill="#2e2e2e" stroke="none" stroke-width="1" />
<rect x="368.5" y="182.9" width="1.3" height="2" fill="#2e2e2e" stroke="none" stroke-width="1" />
<rect x="370.78" y="180.2" width="1.3" height="2" fill="#2e2e2e" stroke="none" stroke-width="1" />
<rect x="370.78" y="182.9" width="1.3" height="2" fill="#2e2e2e" stroke="none" stroke-width="1" />
<rect x="373.06" y="180.2" width="1.3" height="2" fill="#2e2e2e" stroke="none" stroke-width="1" />
<rect x="373.06" y="182.9" width="1.3" height="2" fill="#2e2e2e" stroke="none" stroke-width="1" />
<rect x="375.34" y="180.2" width="1.3" height="2" fill="#2e2e2e" stroke="none" stroke-width="1" />
<rect x="375.34" y="182.9" width="1.3" height="2" fill="#2e2e2e" stroke="none" stroke-width="1" />
<rect x="377.62" y="180.2" width="1.3" height="2" fill="#2e2e2e" stroke="none" stroke-width="1" />
<rect x="377.62" y="182.9" width="1.3" height="2" fill="#2e2e2e" stroke="none" stroke-width="1" />
<rect x="379.9" y="180.2" width="1.3" height="2" fill="#2e2e2e" stroke="none" stroke-width="1" />
<rect x="379.9" y="182.9" width="1.3" height="2" fill="#2e2e2e" stroke="none" stroke-width="1" />
<rect x="382.18" y="180.2" width="1.3" height="2" fill="#2e2e2e" stroke="none" stroke-width="1" />
<rect x="382.18" y="182.9" width="1.3" height="2" fill="#2e2e2e" stroke="none" stroke-width="1" />
<rect x="384.46" y="180.2" width="1.3" height="2" fill="#2e2e2e" stroke="none" stroke-width="1" />
<rect x="384.46" y="182.9" width="1.3" height="2" fill="#2e2e2e" stroke="none" stroke-width="1" />
<rect x="386.74" y="180.2" width="1.3" height="2" fill="#2e2e2e" stroke="none" stroke-width="1" />
<rect x="386.74" y="182.9" width="1.3" height="2" fill="#2e2e2e" stroke="none" stroke-width="1" />
<rect x="389.02" y="180.2" width="1.3" height="2" fill="#2e2e2e" stroke="none" stroke-width="1" />
<rect x="389.02" y="182.9" width="1.3" height="2" fill="#2e2e2e" stroke="none" stroke-width="1" />
<rect x="391.3" y="180.2" width="1.3" height="2" fill="#2e2e2e" stroke="none" stroke-width="1" />
<rect x="391.3" y="182.9" width="1.3" height="2" fill="#2e2e2e" stroke="none" stroke-width="1" />
<rect x="393.58" y="180.2" width="1.3" height="2" fill="#2e2e2e" stroke="none" stroke-width="1" />
<rect x="393.58" y="182.9" width="1.3" height="2" fill="#2e2e2e" stroke="none" stroke-width="1" />
<rect x="395.86" y="180.2" width="1.3" height="2" fill="#2e2e2e" stroke="none" stroke-width="1" />
<rect x="395.86" y="182.9" width="1.3" height="2" fill="#2e2e2e" stroke="none" stroke-width="1" />
<rect x="398.14" y="180.2" width="1.3" height="2" fill="#2e2e2e" stroke="none" stroke-width="1" />
<rect x="398.14" y="182.9" width="1.3" height="2" fill="#2e2e2e" stroke="none" stroke-width="1" />
<rect x="400.42" y="180.2" width="1.3" height="2" fill="#2e2e2e" stroke="none" stroke-width="1" />
<rect x="400.42" y="182.9" width="1.3" height="2" fill="#2e2e2e" stroke="none" stroke-width="1" />
<rect x="402.7" y="180.2" width="1.3" height="2" fill="#2e2e2e" stroke="none" stroke-width="1" />
<rect x="402.7" y="182.9" width="1.3" height="2" fill="#2e2e2e" stroke="none" stroke-width="1" />
<rect x="404.98" y="180.2" width="1.3" height="2" fill="#2e2e2e" stroke="none" stroke-width="1" />
<rect x="404.98" y="182.9" width="1.3" height="2" fill="#2e2e2e" stroke="none" stroke-width="1" />
<rect x="407.26" y="180.2" width="1.3" height="2" fill="#2e2e2e" stroke="none" stroke-width="1" />
<rect x="407.26" y="182.9" width="1.3" height="2" fill="#2e2e2e" stroke="none" stroke-width="1" />
<rect x="409.54" y="180.2" width="1.3" height="2" fill="#2e2e2e" stroke="none" stroke-width="1" />
<rect x="409.54" y="182.9" width="1.3" height="2" fill="#2e2e2e" stroke="none" stroke-width="1" />
<rect x="411.82" y="180.2" width="1.3" height="2" fill="#2e2e2e" stroke="none" stroke-width="1" />
<rect x="411.82" y="182.9" width="1.3" height="2" fill="#2e2e2e" stroke="none" stroke-width="1" />
<rect x="414.1" y="180.2" width="1.3" height="2" fill="#2e2e2e" stroke="none" stroke-width="1" />
<rect x="414.1" y="182.9" width="1.3" height="2" fill="#2e2e2e" stroke="none" stroke-width="1" />
<rect x="416.38" y="180.2" width="1.3" height="2" fill="#2e2e2e" stroke="none" stroke-width="1" />
<rect x="416.38" y="182.9" width="1.3" height="2" fill="#2e2e2e" stroke="none" stroke-width="1" />
<rect x="418.66" y="180.2" width="1.3" height="2" fill="#2e2e2e" stroke="none" stroke-width="1" />
<rect x="418.66" y="182.9" width="1.3" height="2" fill="#2e2e2e" stroke="none" stroke-width="1" />
<rect x="420.94" y="180.2" width="1.3" height="2" fill="#2e2e2e" stroke="none" stroke-width="1" />
<rect x="420.94" y="182.9" width="1.3" height="2" fill="#2e2e2e" stroke="none" stroke-width="1" />
<rect x="423.22" y="180.2" width="1.3" height="2" fill="#2e2e2e" stroke="none" stroke-width="1" />
<rect x="423.22" y="182.9" width="1.3" height="2" fill="#2e2e2e" stroke="none" stroke-width="1" />
<rect x="425.5" y="180.2" width="1.3" height="2" fill="#2e2e2e" stroke="none" stroke-width="1" />
<rect x="425.5" y="182.9" width="1.3" height="2" fill="#2e2e2e" stroke="none" stroke-width="1" />
<rect x="564.5" y="180.5" width="1.2" height="1.6" fill="#3a3a3a" stroke="none" stroke-width="1" />
<rect x="564.5" y="183.3" width="1.2" height="1.6" fill="#3a3a3a" stroke="none" stroke-width="1" />
<rect x="566.8" y="180.5" width="1.2" height="1.6" fill="#3a3a3a" stroke="none" stroke-width="1" />
<rect x="566.8" y="183.3" width="1.2" height="1.6" fill="#3a3a3a" stroke="none" stroke-width="1" />
<rect x="569.1" y="180.5" width="1.2" height="1.6" fill="#3a3a3a" stroke="none" stroke-width="1" />
<rect x="569.1" y="183.3" width="1.2" height="1.6" fill="#3a3a3a" stroke="none" stroke-width="1" />
<rect x="571.4" y="180.5" width="1.2" height="1.6" fill="#3a3a3a" stroke="none" stroke-width="1" />
<rect x="571.4" y="183.3" width="1.2" height="1.6" fill="#3a3a3a" stroke="none" stroke-width="1" />
<rect x="573.7" y="180.5" width="1.2" height="1.6" fill="#3a3a3a" stroke="none" stroke-width="1" />
<rect x="573.7" y="183.3" width="1.2" height="1.6" fill="#3a3a3a" stroke="none" stroke-width="1" />
<rect x="576" y="180.5" width="1.2" height="1.6" fill="#3a3a3a" stroke="none" stroke-width="1" />
<rect x="576" y="183.3" width="1.2" height="1.6" fill="#3a3a3a" stroke="none" stroke-width="1" />
<rect x="787.1" y="478" width="238.2" height="43" fill="#000" stroke="none" stroke-width="1" />
<rect x="787.7" y="478.8" width="9.6" height="41.4" fill="#4a4a4a" stroke="none" stroke-width="1" />
<rect x="788.5" y="480" width="8" height="12.5" fill="#2b2b2b" stroke="none" stroke-width="1" />
<rect x="788.5" y="502" width="8" height="12.5" fill="#2b2b2b" stroke="none" stroke-width="1" />
<rect x="788.3" y="494" width="8.6" height="6" fill="#d8d8d8" stroke="none" stroke-width="1" />
<rect x="789.1" y="495.6" width="6.8" height="2.6" fill="#7fb0a8" stroke="none" stroke-width="1" />
<rect x="793.5" y="495.8" width="1.4" height="2.2" fill="#e02020" stroke="none" stroke-width="1" />
<rect x="790.9" y="495.8" width="1.2" height="2.2" fill="#3040c0" stroke="none" stroke-width="1" />
<rect x="788.3" y="516" width="8.6" height="4.4" fill="#efefef" stroke="none" stroke-width="1" />
<circle cx="792.5" cy="518.2" r="1.7" fill="none" stroke="#666" stroke-width="0.7"/>
<path d="M791.1 481.6 l3 2 l-3 2 Z" fill="#19e019"/>
<rect x="790.9" y="503" width="2.6" height="2.6" fill="#19e019" stroke="none" stroke-width="1" />
<rect x="794.1" y="484" width="2" height="2" fill="#eee" stroke="none" stroke-width="1" />
<rect x="794.1" y="487.4" width="2" height="2" fill="#eee" stroke="none" stroke-width="1" />
<rect x="794.1" y="506.6" width="2" height="4" fill="#eee" stroke="none" stroke-width="1" />
<rect x="796.7" y="482" width="1" height="15" fill="#ddd" stroke="none" stroke-width="1" />
<rect x="796.7" y="502" width="1" height="15" fill="#ddd" stroke="none" stroke-width="1" />
<rect x="1014.3" y="478.8" width="9.6" height="41.4" fill="#4a4a4a" stroke="none" stroke-width="1" />
<rect x="1015.1" y="480" width="8" height="12.5" fill="#2b2b2b" stroke="none" stroke-width="1" />
<rect x="1015.1" y="502" width="8" height="12.5" fill="#2b2b2b" stroke="none" stroke-width="1" />
<rect x="1014.9" y="494" width="8.6" height="6" fill="#d8d8d8" stroke="none" stroke-width="1" />
<rect x="1015.7" y="495.6" width="6.8" height="2.6" fill="#7fb0a8" stroke="none" stroke-width="1" />
<rect x="1020.1" y="495.8" width="1.4" height="2.2" fill="#e02020" stroke="none" stroke-width="1" />
<rect x="1017.5" y="495.8" width="1.2" height="2.2" fill="#3040c0" stroke="none" stroke-width="1" />
<rect x="1014.9" y="516" width="8.6" height="4.4" fill="#efefef" stroke="none" stroke-width="1" />
<circle cx="1019.1" cy="518.2" r="1.7" fill="none" stroke="#666" stroke-width="0.7"/>
<path d="M1017.7 481.6 l3 2 l-3 2 Z" fill="#19e019"/>
<rect x="1017.5" y="503" width="2.6" height="2.6" fill="#19e019" stroke="none" stroke-width="1" />
<rect x="1015.3" y="484" width="2" height="2" fill="#eee" stroke="none" stroke-width="1" />
<rect x="1015.3" y="487.4" width="2" height="2" fill="#eee" stroke="none" stroke-width="1" />
<rect x="1015.3" y="506.6" width="2" height="4" fill="#eee" stroke="none" stroke-width="1" />
<rect x="1013.3" y="482" width="1" height="15" fill="#ddd" stroke="none" stroke-width="1" />
<rect x="1013.3" y="502" width="1" height="15" fill="#ddd" stroke="none" stroke-width="1" />
<rect x="788.3" y="477.7" width="1.3" height="0.9" fill="#888" stroke="none" stroke-width="1" />
<rect x="790.7" y="477.7" width="1.3" height="0.9" fill="#888" stroke="none" stroke-width="1" />
<rect x="793.1" y="477.7" width="1.3" height="0.9" fill="#888" stroke="none" stroke-width="1" />
<rect x="795.5" y="477.7" width="1.3" height="0.9" fill="#888" stroke="none" stroke-width="1" />
<rect x="1014.9" y="477.7" width="1.3" height="0.9" fill="#888" stroke="none" stroke-width="1" />
<rect x="1017.3" y="477.7" width="1.3" height="0.9" fill="#888" stroke="none" stroke-width="1" />
<rect x="1019.7" y="477.7" width="1.3" height="0.9" fill="#888" stroke="none" stroke-width="1" />
<rect x="1022.1" y="477.7" width="1.3" height="0.9" fill="#888" stroke="none" stroke-width="1" />
<rect x="798.7" y="480.6" width="4" height="6.6" fill="#4e4e4e" stroke="none" stroke-width="1" />
<rect x="804.1" y="483.1" width="1.6" height="1.6" fill="#555" stroke="none" stroke-width="1" />
<rect x="807.7" y="481.1" width="2" height="1.6" fill="#4a4a4a" stroke="none" stroke-width="1" />
<rect x="807.7" y="485.1" width="2" height="1.6" fill="#4a4a4a" stroke="none" stroke-width="1" />
<path d="M816.5 482.1 q-1.8 1.8 0 3.6" fill="none" stroke="#444" stroke-width="0.6"/>
<rect x="824.9" y="481.4" width="5.2" height="5" fill="#f5a33a" stroke="none" stroke-width="1" />
<path d="M825.8 485.1 L829.4 482.5 L829.4 485.1 Z" fill="#333"/>
<rect x="798.7" y="490.1" width="4" height="6.6" fill="#4e4e4e" stroke="none" stroke-width="1" />
<rect x="804.1" y="492.6" width="1.6" height="1.6" fill="#555" stroke="none" stroke-width="1" />
<rect x="807.7" y="490.6" width="2" height="1.6" fill="#4a4a4a" stroke="none" stroke-width="1" />
<rect x="807.7" y="494.6" width="2" height="1.6" fill="#4a4a4a" stroke="none" stroke-width="1" />
<path d="M816.5 491.6 q-1.8 1.8 0 3.6" fill="none" stroke="#444" stroke-width="0.6"/>
<rect x="824.9" y="490.9" width="5.2" height="5" fill="#f5a33a" stroke="none" stroke-width="1" />
<path d="M827.5 491.5 L829.4 493.4 L827.5 495.3 L825.6 493.4 Z" fill="#222"/>
<rect x="798.7" y="502.3" width="4" height="6.6" fill="#4e4e4e" stroke="none" stroke-width="1" />
<rect x="804.1" y="504.8" width="1.6" height="1.6" fill="#555" stroke="none" stroke-width="1" />
<rect x="807.7" y="502.8" width="2" height="1.6" fill="#4a4a4a" stroke="none" stroke-width="1" />
<rect x="807.7" y="506.8" width="2" height="1.6" fill="#4a4a4a" stroke="none" stroke-width="1" />
<path d="M816.5 503.8 q-1.8 1.8 0 3.6" fill="none" stroke="#444" stroke-width="0.6"/>
<rect x="824.9" y="503.1" width="5.2" height="5" fill="#f5a33a" stroke="none" stroke-width="1" />
<path d="M827.5 503.7 L829.4 505.6 L827.5 507.5 L825.6 505.6 Z" fill="#222"/>
<rect x="798.7" y="511.6" width="4" height="6.6" fill="#4e4e4e" stroke="none" stroke-width="1" />
<rect x="804.1" y="514.1" width="1.6" height="1.6" fill="#555" stroke="none" stroke-width="1" />
<rect x="807.7" y="512.1" width="2" height="1.6" fill="#4a4a4a" stroke="none" stroke-width="1" />
<rect x="807.7" y="516.1" width="2" height="1.6" fill="#4a4a4a" stroke="none" stroke-width="1" />
<path d="M816.5 513.1 q-1.8 1.8 0 3.6" fill="none" stroke="#444" stroke-width="0.6"/>
<rect x="824.9" y="512.4" width="5.2" height="5" fill="#f5a33a" stroke="none" stroke-width="1" />
<path d="M825.9 514.7 v1.6 h3.2 v-3 h-1.2 v1.4 Z" fill="#222"/>
<rect x="797.8" y="479" width="1" height="1" fill="#ddd" stroke="none" stroke-width="1" />
<rect x="810.7" y="479" width="1" height="1" fill="#ddd" stroke="none" stroke-width="1" />
<line x1="831.9" y1="480.4" x2="831.9" y2="497" stroke="#555" stroke-width="0.6" />
<line x1="831.9" y1="501" x2="831.9" y2="519" stroke="#555" stroke-width="0.6" />
<rect x="833.8" y="480.6" width="4" height="6.6" fill="#4e4e4e" stroke="none" stroke-width="1" />
<rect x="839.2" y="483.1" width="1.6" height="1.6" fill="#555" stroke="none" stroke-width="1" />
<rect x="842.8" y="481.1" width="2" height="1.6" fill="#4a4a4a" stroke="none" stroke-width="1" />
<rect x="842.8" y="485.1" width="2" height="1.6" fill="#4a4a4a" stroke="none" stroke-width="1" />
<path d="M851.6 482.1 q-1.8 1.8 0 3.6" fill="none" stroke="#444" stroke-width="0.6"/>
<rect x="860" y="481.4" width="5.2" height="5" fill="#f5a33a" stroke="none" stroke-width="1" />
<path d="M860.9 485.1 L864.5 482.5 L864.5 485.1 Z" fill="#333"/>
<rect x="833.8" y="490.1" width="4" height="6.6" fill="#4e4e4e" stroke="none" stroke-width="1" />
<rect x="839.2" y="492.6" width="1.6" height="1.6" fill="#555" stroke="none" stroke-width="1" />
<rect x="842.8" y="490.6" width="2" height="1.6" fill="#4a4a4a" stroke="none" stroke-width="1" />
<rect x="842.8" y="494.6" width="2" height="1.6" fill="#4a4a4a" stroke="none" stroke-width="1" />
<path d="M851.6 491.6 q-1.8 1.8 0 3.6" fill="none" stroke="#444" stroke-width="0.6"/>
<rect x="860" y="490.9" width="5.2" height="5" fill="#f5a33a" stroke="none" stroke-width="1" />
<path d="M862.6 491.5 L864.5 493.4 L862.6 495.3 L860.7 493.4 Z" fill="#222"/>
<rect x="833.8" y="502.3" width="4" height="6.6" fill="#4e4e4e" stroke="none" stroke-width="1" />
<rect x="839.2" y="504.8" width="1.6" height="1.6" fill="#555" stroke="none" stroke-width="1" />
<rect x="842.8" y="502.8" width="2" height="1.6" fill="#4a4a4a" stroke="none" stroke-width="1" />
<rect x="842.8" y="506.8" width="2" height="1.6" fill="#4a4a4a" stroke="none" stroke-width="1" />
<path d="M851.6 503.8 q-1.8 1.8 0 3.6" fill="none" stroke="#444" stroke-width="0.6"/>
<rect x="860" y="503.1" width="5.2" height="5" fill="#f5a33a" stroke="none" stroke-width="1" />
<path d="M862.6 503.7 L864.5 505.6 L862.6 507.5 L860.7 505.6 Z" fill="#222"/>
<rect x="833.8" y="511.6" width="4" height="6.6" fill="#4e4e4e" stroke="none" stroke-width="1" />
<rect x="839.2" y="514.1" width="1.6" height="1.6" fill="#555" stroke="none" stroke-width="1" />
<rect x="842.8" y="512.1" width="2" height="1.6" fill="#4a4a4a" stroke="none" stroke-width="1" />
<rect x="842.8" y="516.1" width="2" height="1.6" fill="#4a4a4a" stroke="none" stroke-width="1" />
<path d="M851.6 513.1 q-1.8 1.8 0 3.6" fill="none" stroke="#444" stroke-width="0.6"/>
<rect x="860" y="512.4" width="5.2" height="5" fill="#f5a33a" stroke="none" stroke-width="1" />
<path d="M861 514.7 v1.6 h3.2 v-3 h-1.2 v1.4 Z" fill="#222"/>
<rect x="832.9" y="479" width="1" height="1" fill="#ddd" stroke="none" stroke-width="1" />
<rect x="845.8" y="479" width="1" height="1" fill="#ddd" stroke="none" stroke-width="1" />
<line x1="867" y1="480.4" x2="867" y2="497" stroke="#555" stroke-width="0.6" />
<line x1="867" y1="501" x2="867" y2="519" stroke="#555" stroke-width="0.6" />
<rect x="868.8" y="480.6" width="4" height="6.6" fill="#4e4e4e" stroke="none" stroke-width="1" />
<rect x="874.2" y="483.1" width="1.6" height="1.6" fill="#555" stroke="none" stroke-width="1" />
<rect x="877.8" y="481.1" width="2" height="1.6" fill="#4a4a4a" stroke="none" stroke-width="1" />
<rect x="877.8" y="485.1" width="2" height="1.6" fill="#4a4a4a" stroke="none" stroke-width="1" />
<path d="M886.6 482.1 q-1.8 1.8 0 3.6" fill="none" stroke="#444" stroke-width="0.6"/>
<rect x="895" y="481.4" width="5.2" height="5" fill="#f5a33a" stroke="none" stroke-width="1" />
<path d="M895.9 485.1 L899.5 482.5 L899.5 485.1 Z" fill="#333"/>
<rect x="868.8" y="490.1" width="4" height="6.6" fill="#4e4e4e" stroke="none" stroke-width="1" />
<rect x="874.2" y="492.6" width="1.6" height="1.6" fill="#555" stroke="none" stroke-width="1" />
<rect x="877.8" y="490.6" width="2" height="1.6" fill="#4a4a4a" stroke="none" stroke-width="1" />
<rect x="877.8" y="494.6" width="2" height="1.6" fill="#4a4a4a" stroke="none" stroke-width="1" />
<path d="M886.6 491.6 q-1.8 1.8 0 3.6" fill="none" stroke="#444" stroke-width="0.6"/>
<rect x="895" y="490.9" width="5.2" height="5" fill="#f5a33a" stroke="none" stroke-width="1" />
<path d="M897.6 491.5 L899.5 493.4 L897.6 495.3 L895.7 493.4 Z" fill="#222"/>
<rect x="868.8" y="502.3" width="4" height="6.6" fill="#4e4e4e" stroke="none" stroke-width="1" />
<rect x="874.2" y="504.8" width="1.6" height="1.6" fill="#555" stroke="none" stroke-width="1" />
<rect x="877.8" y="502.8" width="2" height="1.6" fill="#4a4a4a" stroke="none" stroke-width="1" />
<rect x="877.8" y="506.8" width="2" height="1.6" fill="#4a4a4a" stroke="none" stroke-width="1" />
<path d="M886.6 503.8 q-1.8 1.8 0 3.6" fill="none" stroke="#444" stroke-width="0.6"/>
<rect x="895" y="503.1" width="5.2" height="5" fill="#f5a33a" stroke="none" stroke-width="1" />
<path d="M897.6 503.7 L899.5 505.6 L897.6 507.5 L895.7 505.6 Z" fill="#222"/>
<rect x="868.8" y="511.6" width="4" height="6.6" fill="#4e4e4e" stroke="none" stroke-width="1" />
<rect x="874.2" y="514.1" width="1.6" height="1.6" fill="#555" stroke="none" stroke-width="1" />
<rect x="877.8" y="512.1" width="2" height="1.6" fill="#4a4a4a" stroke="none" stroke-width="1" />
<rect x="877.8" y="516.1" width="2" height="1.6" fill="#4a4a4a" stroke="none" stroke-width="1" />
<path d="M886.6 513.1 q-1.8 1.8 0 3.6" fill="none" stroke="#444" stroke-width="0.6"/>
<rect x="895" y="512.4" width="5.2" height="5" fill="#f5a33a" stroke="none" stroke-width="1" />
<path d="M896 514.7 v1.6 h3.2 v-3 h-1.2 v1.4 Z" fill="#222"/>
<rect x="867.9" y="479" width="1" height="1" fill="#ddd" stroke="none" stroke-width="1" />
<rect x="880.8" y="479" width="1" height="1" fill="#ddd" stroke="none" stroke-width="1" />
<line x1="902" y1="480.4" x2="902" y2="497" stroke="#555" stroke-width="0.6" />
<line x1="902" y1="501" x2="902" y2="519" stroke="#555" stroke-width="0.6" />
<rect x="908.8" y="480.6" width="4" height="6.6" fill="#4e4e4e" stroke="none" stroke-width="1" />
<rect x="914.2" y="483.1" width="1.6" height="1.6" fill="#555" stroke="none" stroke-width="1" />
<rect x="917.8" y="481.1" width="2" height="1.6" fill="#4a4a4a" stroke="none" stroke-width="1" />
<rect x="917.8" y="485.1" width="2" height="1.6" fill="#4a4a4a" stroke="none" stroke-width="1" />
<path d="M926.6 482.1 q-1.8 1.8 0 3.6" fill="none" stroke="#444" stroke-width="0.6"/>
<rect x="935" y="481.4" width="5.2" height="5" fill="#f5a33a" stroke="none" stroke-width="1" />
<path d="M935.9 485.1 L939.5 482.5 L939.5 485.1 Z" fill="#333"/>
<rect x="908.8" y="490.1" width="4" height="6.6" fill="#4e4e4e" stroke="none" stroke-width="1" />
<rect x="914.2" y="492.6" width="1.6" height="1.6" fill="#555" stroke="none" stroke-width="1" />
<rect x="917.8" y="490.6" width="2" height="1.6" fill="#4a4a4a" stroke="none" stroke-width="1" />
<rect x="917.8" y="494.6" width="2" height="1.6" fill="#4a4a4a" stroke="none" stroke-width="1" />
<path d="M926.6 491.6 q-1.8 1.8 0 3.6" fill="none" stroke="#444" stroke-width="0.6"/>
<rect x="935" y="490.9" width="5.2" height="5" fill="#f5a33a" stroke="none" stroke-width="1" />
<path d="M937.6 491.5 L939.5 493.4 L937.6 495.3 L935.7 493.4 Z" fill="#222"/>
<rect x="908.8" y="502.3" width="4" height="6.6" fill="#4e4e4e" stroke="none" stroke-width="1" />
<rect x="914.2" y="504.8" width="1.6" height="1.6" fill="#555" stroke="none" stroke-width="1" />
<rect x="917.8" y="502.8" width="2" height="1.6" fill="#4a4a4a" stroke="none" stroke-width="1" />
<rect x="917.8" y="506.8" width="2" height="1.6" fill="#4a4a4a" stroke="none" stroke-width="1" />
<path d="M926.6 503.8 q-1.8 1.8 0 3.6" fill="none" stroke="#444" stroke-width="0.6"/>
<rect x="935" y="503.1" width="5.2" height="5" fill="#f5a33a" stroke="none" stroke-width="1" />
<path d="M937.6 503.7 L939.5 505.6 L937.6 507.5 L935.7 505.6 Z" fill="#222"/>
<rect x="908.8" y="511.6" width="4" height="6.6" fill="#4e4e4e" stroke="none" stroke-width="1" />
<rect x="914.2" y="514.1" width="1.6" height="1.6" fill="#555" stroke="none" stroke-width="1" />
<rect x="917.8" y="512.1" width="2" height="1.6" fill="#4a4a4a" stroke="none" stroke-width="1" />
<rect x="917.8" y="516.1" width="2" height="1.6" fill="#4a4a4a" stroke="none" stroke-width="1" />
<path d="M926.6 513.1 q-1.8 1.8 0 3.6" fill="none" stroke="#444" stroke-width="0.6"/>
<rect x="935" y="512.4" width="5.2" height="5" fill="#f5a33a" stroke="none" stroke-width="1" />
<path d="M936 514.7 v1.6 h3.2 v-3 h-1.2 v1.4 Z" fill="#222"/>
<rect x="907.9" y="479" width="1" height="1" fill="#ddd" stroke="none" stroke-width="1" />
<rect x="920.8" y="479" width="1" height="1" fill="#ddd" stroke="none" stroke-width="1" />
<line x1="942" y1="480.4" x2="942" y2="497" stroke="#555" stroke-width="0.6" />
<line x1="942" y1="501" x2="942" y2="519" stroke="#555" stroke-width="0.6" />
<rect x="943.8" y="480.6" width="4" height="6.6" fill="#4e4e4e" stroke="none" stroke-width="1" />
<rect x="949.2" y="483.1" width="1.6" height="1.6" fill="#555" stroke="none" stroke-width="1" />
<rect x="952.8" y="481.1" width="2" height="1.6" fill="#4a4a4a" stroke="none" stroke-width="1" />
<rect x="952.8" y="485.1" width="2" height="1.6" fill="#4a4a4a" stroke="none" stroke-width="1" />
<path d="M961.6 482.1 q-1.8 1.8 0 3.6" fill="none" stroke="#444" stroke-width="0.6"/>
<rect x="970" y="481.4" width="5.2" height="5" fill="#f5a33a" stroke="none" stroke-width="1" />
<path d="M970.9 485.1 L974.5 482.5 L974.5 485.1 Z" fill="#333"/>
<rect x="943.8" y="490.1" width="4" height="6.6" fill="#4e4e4e" stroke="none" stroke-width="1" />
<rect x="949.2" y="492.6" width="1.6" height="1.6" fill="#555" stroke="none" stroke-width="1" />
<rect x="952.8" y="490.6" width="2" height="1.6" fill="#4a4a4a" stroke="none" stroke-width="1" />
<rect x="952.8" y="494.6" width="2" height="1.6" fill="#4a4a4a" stroke="none" stroke-width="1" />
<path d="M961.6 491.6 q-1.8 1.8 0 3.6" fill="none" stroke="#444" stroke-width="0.6"/>
<rect x="970" y="490.9" width="5.2" height="5" fill="#f5a33a" stroke="none" stroke-width="1" />
<path d="M972.6 491.5 L974.5 493.4 L972.6 495.3 L970.7 493.4 Z" fill="#222"/>
<rect x="943.8" y="502.3" width="4" height="6.6" fill="#4e4e4e" stroke="none" stroke-width="1" />
<rect x="949.2" y="504.8" width="1.6" height="1.6" fill="#555" stroke="none" stroke-width="1" />
<rect x="952.8" y="502.8" width="2" height="1.6" fill="#4a4a4a" stroke="none" stroke-width="1" />
<rect x="952.8" y="506.8" width="2" height="1.6" fill="#4a4a4a" stroke="none" stroke-width="1" />
<path d="M961.6 503.8 q-1.8 1.8 0 3.6" fill="none" stroke="#444" stroke-width="0.6"/>
<rect x="970" y="503.1" width="5.2" height="5" fill="#f5a33a" stroke="none" stroke-width="1" />
<path d="M972.6 503.7 L974.5 505.6 L972.6 507.5 L970.7 505.6 Z" fill="#222"/>
<rect x="943.8" y="511.6" width="4" height="6.6" fill="#4e4e4e" stroke="none" stroke-width="1" />
<rect x="949.2" y="514.1" width="1.6" height="1.6" fill="#555" stroke="none" stroke-width="1" />
<rect x="952.8" y="512.1" width="2" height="1.6" fill="#4a4a4a" stroke="none" stroke-width="1" />
<rect x="952.8" y="516.1" width="2" height="1.6" fill="#4a4a4a" stroke="none" stroke-width="1" />
<path d="M961.6 513.1 q-1.8 1.8 0 3.6" fill="none" stroke="#444" stroke-width="0.6"/>
<rect x="970" y="512.4" width="5.2" height="5" fill="#f5a33a" stroke="none" stroke-width="1" />
<path d="M971 514.7 v1.6 h3.2 v-3 h-1.2 v1.4 Z" fill="#222"/>
<rect x="942.9" y="479" width="1" height="1" fill="#ddd" stroke="none" stroke-width="1" />
<rect x="955.8" y="479" width="1" height="1" fill="#ddd" stroke="none" stroke-width="1" />
<line x1="977" y1="480.4" x2="977" y2="497" stroke="#555" stroke-width="0.6" />
<line x1="977" y1="501" x2="977" y2="519" stroke="#555" stroke-width="0.6" />
<rect x="978.8" y="480.6" width="4" height="6.6" fill="#4e4e4e" stroke="none" stroke-width="1" />
<rect x="984.2" y="483.1" width="1.6" height="1.6" fill="#555" stroke="none" stroke-width="1" />
<rect x="987.8" y="481.1" width="2" height="1.6" fill="#4a4a4a" stroke="none" stroke-width="1" />
<rect x="987.8" y="485.1" width="2" height="1.6" fill="#4a4a4a" stroke="none" stroke-width="1" />
<path d="M996.6 482.1 q-1.8 1.8 0 3.6" fill="none" stroke="#444" stroke-width="0.6"/>
<rect x="1005" y="481.4" width="5.2" height="5" fill="#f5a33a" stroke="none" stroke-width="1" />
<path d="M1005.9 485.1 L1009.5 482.5 L1009.5 485.1 Z" fill="#333"/>
<rect x="978.8" y="490.1" width="4" height="6.6" fill="#4e4e4e" stroke="none" stroke-width="1" />
<rect x="984.2" y="492.6" width="1.6" height="1.6" fill="#555" stroke="none" stroke-width="1" />
<rect x="987.8" y="490.6" width="2" height="1.6" fill="#4a4a4a" stroke="none" stroke-width="1" />
<rect x="987.8" y="494.6" width="2" height="1.6" fill="#4a4a4a" stroke="none" stroke-width="1" />
<path d="M996.6 491.6 q-1.8 1.8 0 3.6" fill="none" stroke="#444" stroke-width="0.6"/>
<rect x="1005" y="490.9" width="5.2" height="5" fill="#f5a33a" stroke="none" stroke-width="1" />
<path d="M1007.6 491.5 L1009.5 493.4 L1007.6 495.3 L1005.7 493.4 Z" fill="#222"/>
<rect x="978.8" y="502.3" width="4" height="6.6" fill="#4e4e4e" stroke="none" stroke-width="1" />
<rect x="984.2" y="504.8" width="1.6" height="1.6" fill="#555" stroke="none" stroke-width="1" />
<rect x="987.8" y="502.8" width="2" height="1.6" fill="#4a4a4a" stroke="none" stroke-width="1" />
<rect x="987.8" y="506.8" width="2" height="1.6" fill="#4a4a4a" stroke="none" stroke-width="1" />
<path d="M996.6 503.8 q-1.8 1.8 0 3.6" fill="none" stroke="#444" stroke-width="0.6"/>
<rect x="1005" y="503.1" width="5.2" height="5" fill="#f5a33a" stroke="none" stroke-width="1" />
<path d="M1007.6 503.7 L1009.5 505.6 L1007.6 507.5 L1005.7 505.6 Z" fill="#222"/>
<rect x="978.8" y="511.6" width="4" height="6.6" fill="#4e4e4e" stroke="none" stroke-width="1" />
<rect x="984.2" y="514.1" width="1.6" height="1.6" fill="#555" stroke="none" stroke-width="1" />
<rect x="987.8" y="512.1" width="2" height="1.6" fill="#4a4a4a" stroke="none" stroke-width="1" />
<rect x="987.8" y="516.1" width="2" height="1.6" fill="#4a4a4a" stroke="none" stroke-width="1" />
<path d="M996.6 513.1 q-1.8 1.8 0 3.6" fill="none" stroke="#444" stroke-width="0.6"/>
<rect x="1005" y="512.4" width="5.2" height="5" fill="#f5a33a" stroke="none" stroke-width="1" />
<path d="M1006 514.7 v1.6 h3.2 v-3 h-1.2 v1.4 Z" fill="#222"/>
<rect x="977.9" y="479" width="1" height="1" fill="#ddd" stroke="none" stroke-width="1" />
<rect x="990.8" y="479" width="1" height="1" fill="#ddd" stroke="none" stroke-width="1" />
<line x1="1012" y1="480.4" x2="1012" y2="497" stroke="#555" stroke-width="0.6" />
<line x1="1012" y1="501" x2="1012" y2="519" stroke="#555" stroke-width="0.6" />
<rect x="903.1" y="481" width="1" height="16.5" fill="#e8e8e8" stroke="none" stroke-width="1" />
<rect x="903.1" y="501.5" width="1" height="17.5" fill="#e8e8e8" stroke="none" stroke-width="1" />
<rect x="906.9" y="481" width="1" height="16.5" fill="#e8e8e8" stroke="none" stroke-width="1" />
<rect x="906.9" y="501.5" width="1" height="17.5" fill="#e8e8e8" stroke="none" stroke-width="1" />
<rect x="902" y="481" width="0.8" height="37" fill="#666" stroke="none" stroke-width="1" />
<rect x="787.1" y="561.9" width="241.6" height="89.1" fill="#000" stroke="none" stroke-width="1" />
<rect x="788" y="562.9" width="9.2" height="87.1" fill="#f2f2f2" stroke="none" stroke-width="1" />
<rect x="788.8" y="572.5" width="7.6" height="34" fill="#e2e2e2" stroke="#8a8a8a" stroke-width="0.6" />
<line x1="789.2" y1="568.1" x2="796" y2="568.1" stroke="#888" stroke-width="0.7" />
<line x1="789.2" y1="609.9" x2="796" y2="609.9" stroke="#888" stroke-width="0.7" />
<rect x="789" y="612.9" width="7.2" height="6" fill="#fff" stroke="#777" stroke-width="0.6" rx="2"/>
<rect x="1018" y="562.9" width="9.2" height="87.1" fill="#f2f2f2" stroke="none" stroke-width="1" />
<rect x="1018.8" y="572.5" width="7.6" height="34" fill="#e2e2e2" stroke="#8a8a8a" stroke-width="0.6" />
<line x1="1019.2" y1="568.1" x2="1026" y2="568.1" stroke="#888" stroke-width="0.7" />
<line x1="1019.2" y1="609.9" x2="1026" y2="609.9" stroke="#888" stroke-width="0.7" />
<rect x="1019" y="612.9" width="7.2" height="6" fill="#fff" stroke="#777" stroke-width="0.6" rx="2"/>
<rect x="789" y="621.9" width="7.4" height="9" fill="#fff" stroke="#555" stroke-width="0.5" />
<rect x="789.6" y="623.9" width="1.4" height="1.4" fill="#c00" stroke="none" stroke-width="1" />
<rect x="792" y="623.9" width="1.4" height="1.4" fill="#333" stroke="none" stroke-width="1" />
<rect x="794" y="623.9" width="1.4" height="1.4" fill="#c00" stroke="none" stroke-width="1" />
<rect x="789" y="633.9" width="7.4" height="2.6" fill="#fff" stroke="#333" stroke-width="0.6" />
<rect x="789" y="637.9" width="7.4" height="2.6" fill="#fff" stroke="#333" stroke-width="0.6" />
<rect x="789" y="641.9" width="7.4" height="2.6" fill="#fff" stroke="#333" stroke-width="0.6" />
<rect x="789" y="645.9" width="7.4" height="2.6" fill="#fff" stroke="#333" stroke-width="0.6" />
<text transform="translate(1025.2 637.9) rotate(-90) scale(0.1)" font-family="'Liberation Sans', sans-serif" font-size="42" font-weight="bold" font-style="normal" fill="#3355bb" textLength="160" lengthAdjust="spacingAndGlyphs">GENSTOR</text>
<path d="M1022.6 641.9 l2.4 3 l-2.4 3 l-2.4 -3 Z" fill="#d01020"/>
<rect x="798" y="564.7" width="53.3" height="8.2" fill="#858585" stroke="none" stroke-width="1" />
<rect x="799.4" y="566.3" width="1.9" height="1.8" fill="#111" stroke="none" stroke-width="1" />
<rect x="802.5" y="566.3" width="1.9" height="1.8" fill="#111" stroke="none" stroke-width="1" />
<rect x="805.6" y="566.3" width="1.9" height="1.8" fill="#111" stroke="none" stroke-width="1" />
<rect x="808.7" y="566.3" width="1.9" height="1.8" fill="#111" stroke="none" stroke-width="1" />
<rect x="812.3" y="566.3" width="0.9" height="1.8" fill="#111" stroke="none" stroke-width="1" />
<rect x="814.9" y="566.3" width="1.9" height="1.8" fill="#111" stroke="none" stroke-width="1" />
<rect x="818" y="566.3" width="1.9" height="1.8" fill="#111" stroke="none" stroke-width="1" />
<rect x="821.1" y="566.3" width="1.9" height="1.8" fill="#111" stroke="none" stroke-width="1" />
<rect x="824.2" y="566.3" width="1.9" height="1.8" fill="#111" stroke="none" stroke-width="1" />
<rect x="827.8" y="566.3" width="0.9" height="1.8" fill="#111" stroke="none" stroke-width="1" />
<rect x="830.4" y="566.3" width="1.9" height="1.8" fill="#111" stroke="none" stroke-width="1" />
<rect x="833.5" y="566.3" width="1.9" height="1.8" fill="#111" stroke="none" stroke-width="1" />
<rect x="836.6" y="566.3" width="1.9" height="1.8" fill="#111" stroke="none" stroke-width="1" />
<rect x="839.7" y="566.3" width="1.9" height="1.8" fill="#111" stroke="none" stroke-width="1" />
<rect x="843.3" y="566.3" width="0.9" height="1.8" fill="#111" stroke="none" stroke-width="1" />
<rect x="799.4" y="569.7" width="1.9" height="1.8" fill="#111" stroke="none" stroke-width="1" />
<rect x="802.5" y="569.7" width="1.9" height="1.8" fill="#111" stroke="none" stroke-width="1" />
<rect x="805.6" y="569.7" width="1.9" height="1.8" fill="#111" stroke="none" stroke-width="1" />
<rect x="808.7" y="569.7" width="1.9" height="1.8" fill="#111" stroke="none" stroke-width="1" />
<rect x="812.3" y="569.7" width="0.9" height="1.8" fill="#111" stroke="none" stroke-width="1" />
<rect x="814.9" y="569.7" width="1.9" height="1.8" fill="#111" stroke="none" stroke-width="1" />
<rect x="818" y="569.7" width="1.9" height="1.8" fill="#111" stroke="none" stroke-width="1" />
<rect x="821.1" y="569.7" width="1.9" height="1.8" fill="#111" stroke="none" stroke-width="1" />
<rect x="824.2" y="569.7" width="1.9" height="1.8" fill="#111" stroke="none" stroke-width="1" />
<rect x="827.8" y="569.7" width="0.9" height="1.8" fill="#111" stroke="none" stroke-width="1" />
<rect x="830.4" y="569.7" width="1.9" height="1.8" fill="#111" stroke="none" stroke-width="1" />
<rect x="833.5" y="569.7" width="1.9" height="1.8" fill="#111" stroke="none" stroke-width="1" />
<rect x="836.6" y="569.7" width="1.9" height="1.8" fill="#111" stroke="none" stroke-width="1" />
<rect x="839.7" y="569.7" width="1.9" height="1.8" fill="#111" stroke="none" stroke-width="1" />
<rect x="843.3" y="569.7" width="0.9" height="1.8" fill="#111" stroke="none" stroke-width="1" />
<rect x="847.6" y="567.3" width="1.7" height="4.6" fill="#fff" stroke="none" stroke-width="1" />
<rect x="798" y="573.2" width="53.3" height="4.6" fill="#3a3a3a" stroke="none" stroke-width="1" />
<rect x="799" y="573.9" width="36" height="3.2" fill="#7c7c7c" stroke="none" stroke-width="1" />
<rect x="800" y="574.6" width="15.5" height="1.8" fill="#5a5a5a" stroke="none" stroke-width="1" />
<rect x="817.5" y="574.6" width="16.5" height="1.8" fill="#5a5a5a" stroke="none" stroke-width="1" />
<rect x="836" y="574.1" width="2.2" height="3" fill="#686868" stroke="none" stroke-width="1" />
<rect x="839" y="573.8" width="8.2" height="3.4" fill="#8b0000" stroke="none" stroke-width="1" />
<rect x="848.3" y="573.5" width="2.4" height="4" fill="#6a6a6a" stroke="none" stroke-width="1" />
<rect x="798" y="578.88" width="53.3" height="8.2" fill="#858585" stroke="none" stroke-width="1" />
<rect x="799.4" y="580.48" width="1.9" height="1.8" fill="#111" stroke="none" stroke-width="1" />
<rect x="802.5" y="580.48" width="1.9" height="1.8" fill="#111" stroke="none" stroke-width="1" />
<rect x="805.6" y="580.48" width="1.9" height="1.8" fill="#111" stroke="none" stroke-width="1" />
<rect x="808.7" y="580.48" width="1.9" height="1.8" fill="#111" stroke="none" stroke-width="1" />
<rect x="812.3" y="580.48" width="0.9" height="1.8" fill="#111" stroke="none" stroke-width="1" />
<rect x="814.9" y="580.48" width="1.9" height="1.8" fill="#111" stroke="none" stroke-width="1" />
<rect x="818" y="580.48" width="1.9" height="1.8" fill="#111" stroke="none" stroke-width="1" />
<rect x="821.1" y="580.48" width="1.9" height="1.8" fill="#111" stroke="none" stroke-width="1" />
<rect x="824.2" y="580.48" width="1.9" height="1.8" fill="#111" stroke="none" stroke-width="1" />
<rect x="827.8" y="580.48" width="0.9" height="1.8" fill="#111" stroke="none" stroke-width="1" />
<rect x="830.4" y="580.48" width="1.9" height="1.8" fill="#111" stroke="none" stroke-width="1" />
<rect x="833.5" y="580.48" width="1.9" height="1.8" fill="#111" stroke="none" stroke-width="1" />
<rect x="836.6" y="580.48" width="1.9" height="1.8" fill="#111" stroke="none" stroke-width="1" />
<rect x="839.7" y="580.48" width="1.9" height="1.8" fill="#111" stroke="none" stroke-width="1" />
<rect x="843.3" y="580.48" width="0.9" height="1.8" fill="#111" stroke="none" stroke-width="1" />
<rect x="799.4" y="583.88" width="1.9" height="1.8" fill="#111" stroke="none" stroke-width="1" />
<rect x="802.5" y="583.88" width="1.9" height="1.8" fill="#111" stroke="none" stroke-width="1" />
<rect x="805.6" y="583.88" width="1.9" height="1.8" fill="#111" stroke="none" stroke-width="1" />
<rect x="808.7" y="583.88" width="1.9" height="1.8" fill="#111" stroke="none" stroke-width="1" />
<rect x="812.3" y="583.88" width="0.9" height="1.8" fill="#111" stroke="none" stroke-width="1" />
<rect x="814.9" y="583.88" width="1.9" height="1.8" fill="#111" stroke="none" stroke-width="1" />
<rect x="818" y="583.88" width="1.9" height="1.8" fill="#111" stroke="none" stroke-width="1" />
<rect x="821.1" y="583.88" width="1.9" height="1.8" fill="#111" stroke="none" stroke-width="1" />
<rect x="824.2" y="583.88" width="1.9" height="1.8" fill="#111" stroke="none" stroke-width="1" />
<rect x="827.8" y="583.88" width="0.9" height="1.8" fill="#111" stroke="none" stroke-width="1" />
<rect x="830.4" y="583.88" width="1.9" height="1.8" fill="#111" stroke="none" stroke-width="1" />
<rect x="833.5" y="583.88" width="1.9" height="1.8" fill="#111" stroke="none" stroke-width="1" />
<rect x="836.6" y="583.88" width="1.9" height="1.8" fill="#111" stroke="none" stroke-width="1" />
<rect x="839.7" y="583.88" width="1.9" height="1.8" fill="#111" stroke="none" stroke-width="1" />
<rect x="843.3" y="583.88" width="0.9" height="1.8" fill="#111" stroke="none" stroke-width="1" />
<rect x="847.6" y="581.48" width="1.7" height="4.6" fill="#fff" stroke="none" stroke-width="1" />
<rect x="798" y="587.38" width="53.3" height="4.6" fill="#3a3a3a" stroke="none" stroke-width="1" />
<rect x="799" y="588.08" width="36" height="3.2" fill="#7c7c7c" stroke="none" stroke-width="1" />
<rect x="800" y="588.78" width="15.5" height="1.8" fill="#5a5a5a" stroke="none" stroke-width="1" />
<rect x="817.5" y="588.78" width="16.5" height="1.8" fill="#5a5a5a" stroke="none" stroke-width="1" />
<rect x="836" y="588.28" width="2.2" height="3" fill="#686868" stroke="none" stroke-width="1" />
<path d="M839 591.28 L841 589.08 L847.2 589.08 L847.2 591.28 Z" fill="#8b0000"/>
<rect x="848.3" y="587.68" width="2.4" height="4" fill="#6a6a6a" stroke="none" stroke-width="1" />
<rect x="798" y="593.06" width="53.3" height="8.2" fill="#858585" stroke="none" stroke-width="1" />
<rect x="799.4" y="594.66" width="1.9" height="1.8" fill="#111" stroke="none" stroke-width="1" />
<rect x="802.5" y="594.66" width="1.9" height="1.8" fill="#111" stroke="none" stroke-width="1" />
<rect x="805.6" y="594.66" width="1.9" height="1.8" fill="#111" stroke="none" stroke-width="1" />
<rect x="808.7" y="594.66" width="1.9" height="1.8" fill="#111" stroke="none" stroke-width="1" />
<rect x="812.3" y="594.66" width="0.9" height="1.8" fill="#111" stroke="none" stroke-width="1" />
<rect x="814.9" y="594.66" width="1.9" height="1.8" fill="#111" stroke="none" stroke-width="1" />
<rect x="818" y="594.66" width="1.9" height="1.8" fill="#111" stroke="none" stroke-width="1" />
<rect x="821.1" y="594.66" width="1.9" height="1.8" fill="#111" stroke="none" stroke-width="1" />
<rect x="824.2" y="594.66" width="1.9" height="1.8" fill="#111" stroke="none" stroke-width="1" />
<rect x="827.8" y="594.66" width="0.9" height="1.8" fill="#111" stroke="none" stroke-width="1" />
<rect x="830.4" y="594.66" width="1.9" height="1.8" fill="#111" stroke="none" stroke-width="1" />
<rect x="833.5" y="594.66" width="1.9" height="1.8" fill="#111" stroke="none" stroke-width="1" />
<rect x="836.6" y="594.66" width="1.9" height="1.8" fill="#111" stroke="none" stroke-width="1" />
<rect x="839.7" y="594.66" width="1.9" height="1.8" fill="#111" stroke="none" stroke-width="1" />
<rect x="843.3" y="594.66" width="0.9" height="1.8" fill="#111" stroke="none" stroke-width="1" />
<rect x="799.4" y="598.06" width="1.9" height="1.8" fill="#111" stroke="none" stroke-width="1" />
<rect x="802.5" y="598.06" width="1.9" height="1.8" fill="#111" stroke="none" stroke-width="1" />
<rect x="805.6" y="598.06" width="1.9" height="1.8" fill="#111" stroke="none" stroke-width="1" />
<rect x="808.7" y="598.06" width="1.9" height="1.8" fill="#111" stroke="none" stroke-width="1" />
<rect x="812.3" y="598.06" width="0.9" height="1.8" fill="#111" stroke="none" stroke-width="1" />
<rect x="814.9" y="598.06" width="1.9" height="1.8" fill="#111" stroke="none" stroke-width="1" />
<rect x="818" y="598.06" width="1.9" height="1.8" fill="#111" stroke="none" stroke-width="1" />
<rect x="821.1" y="598.06" width="1.9" height="1.8" fill="#111" stroke="none" stroke-width="1" />
<rect x="824.2" y="598.06" width="1.9" height="1.8" fill="#111" stroke="none" stroke-width="1" />
<rect x="827.8" y="598.06" width="0.9" height="1.8" fill="#111" stroke="none" stroke-width="1" />
<rect x="830.4" y="598.06" width="1.9" height="1.8" fill="#111" stroke="none" stroke-width="1" />
<rect x="833.5" y="598.06" width="1.9" height="1.8" fill="#111" stroke="none" stroke-width="1" />
<rect x="836.6" y="598.06" width="1.9" height="1.8" fill="#111" stroke="none" stroke-width="1" />
<rect x="839.7" y="598.06" width="1.9" height="1.8" fill="#111" stroke="none" stroke-width="1" />
<rect x="843.3" y="598.06" width="0.9" height="1.8" fill="#111" stroke="none" stroke-width="1" />
<rect x="847.6" y="595.66" width="1.7" height="4.6" fill="#fff" stroke="none" stroke-width="1" />
<rect x="798" y="601.56" width="53.3" height="4.6" fill="#3a3a3a" stroke="none" stroke-width="1" />
<rect x="799" y="602.26" width="36" height="3.2" fill="#7c7c7c" stroke="none" stroke-width="1" />
<rect x="800" y="602.96" width="15.5" height="1.8" fill="#5a5a5a" stroke="none" stroke-width="1" />
<rect x="817.5" y="602.96" width="16.5" height="1.8" fill="#5a5a5a" stroke="none" stroke-width="1" />
<rect x="836" y="602.46" width="2.2" height="3" fill="#686868" stroke="none" stroke-width="1" />
<rect x="839" y="602.16" width="8.2" height="3.4" fill="#8b0000" stroke="none" stroke-width="1" />
<rect x="848.3" y="601.86" width="2.4" height="4" fill="#6a6a6a" stroke="none" stroke-width="1" />
<rect x="798" y="607.24" width="53.3" height="8.2" fill="#858585" stroke="none" stroke-width="1" />
<rect x="799.4" y="608.84" width="1.9" height="1.8" fill="#111" stroke="none" stroke-width="1" />
<rect x="802.5" y="608.84" width="1.9" height="1.8" fill="#111" stroke="none" stroke-width="1" />
<rect x="805.6" y="608.84" width="1.9" height="1.8" fill="#111" stroke="none" stroke-width="1" />
<rect x="808.7" y="608.84" width="1.9" height="1.8" fill="#111" stroke="none" stroke-width="1" />
<rect x="812.3" y="608.84" width="0.9" height="1.8" fill="#111" stroke="none" stroke-width="1" />
<rect x="814.9" y="608.84" width="1.9" height="1.8" fill="#111" stroke="none" stroke-width="1" />
<rect x="818" y="608.84" width="1.9" height="1.8" fill="#111" stroke="none" stroke-width="1" />
<rect x="821.1" y="608.84" width="1.9" height="1.8" fill="#111" stroke="none" stroke-width="1" />
<rect x="824.2" y="608.84" width="1.9" height="1.8" fill="#111" stroke="none" stroke-width="1" />
<rect x="827.8" y="608.84" width="0.9" height="1.8" fill="#111" stroke="none" stroke-width="1" />
<rect x="830.4" y="608.84" width="1.9" height="1.8" fill="#111" stroke="none" stroke-width="1" />
<rect x="833.5" y="608.84" width="1.9" height="1.8" fill="#111" stroke="none" stroke-width="1" />
<rect x="836.6" y="608.84" width="1.9" height="1.8" fill="#111" stroke="none" stroke-width="1" />
<rect x="839.7" y="608.84" width="1.9" height="1.8" fill="#111" stroke="none" stroke-width="1" />
<rect x="843.3" y="608.84" width="0.9" height="1.8" fill="#111" stroke="none" stroke-width="1" />
<rect x="799.4" y="612.24" width="1.9" height="1.8" fill="#111" stroke="none" stroke-width="1" />
<rect x="802.5" y="612.24" width="1.9" height="1.8" fill="#111" stroke="none" stroke-width="1" />
<rect x="805.6" y="612.24" width="1.9" height="1.8" fill="#111" stroke="none" stroke-width="1" />
<rect x="808.7" y="612.24" width="1.9" height="1.8" fill="#111" stroke="none" stroke-width="1" />
<rect x="812.3" y="612.24" width="0.9" height="1.8" fill="#111" stroke="none" stroke-width="1" />
<rect x="814.9" y="612.24" width="1.9" height="1.8" fill="#111" stroke="none" stroke-width="1" />
<rect x="818" y="612.24" width="1.9" height="1.8" fill="#111" stroke="none" stroke-width="1" />
<rect x="821.1" y="612.24" width="1.9" height="1.8" fill="#111" stroke="none" stroke-width="1" />
<rect x="824.2" y="612.24" width="1.9" height="1.8" fill="#111" stroke="none" stroke-width="1" />
<rect x="827.8" y="612.24" width="0.9" height="1.8" fill="#111" stroke="none" stroke-width="1" />
<rect x="830.4" y="612.24" width="1.9" height="1.8" fill="#111" stroke="none" stroke-width="1" />
<rect x="833.5" y="612.24" width="1.9" height="1.8" fill="#111" stroke="none" stroke-width="1" />
<rect x="836.6" y="612.24" width="1.9" height="1.8" fill="#111" stroke="none" stroke-width="1" />
<rect x="839.7" y="612.24" width="1.9" height="1.8" fill="#111" stroke="none" stroke-width="1" />
<rect x="843.3" y="612.24" width="0.9" height="1.8" fill="#111" stroke="none" stroke-width="1" />
<rect x="847.6" y="609.84" width="1.7" height="4.6" fill="#fff" stroke="none" stroke-width="1" />
<rect x="798" y="615.74" width="53.3" height="4.6" fill="#3a3a3a" stroke="none" stroke-width="1" />
<rect x="799" y="616.44" width="36" height="3.2" fill="#7c7c7c" stroke="none" stroke-width="1" />
<rect x="800" y="617.14" width="15.5" height="1.8" fill="#5a5a5a" stroke="none" stroke-width="1" />
<rect x="817.5" y="617.14" width="16.5" height="1.8" fill="#5a5a5a" stroke="none" stroke-width="1" />
<rect x="836" y="616.64" width="2.2" height="3" fill="#686868" stroke="none" stroke-width="1" />
<rect x="839" y="616.34" width="8.2" height="3.4" fill="#8b0000" stroke="none" stroke-width="1" />
<rect x="848.3" y="616.04" width="2.4" height="4" fill="#6a6a6a" stroke="none" stroke-width="1" />
<rect x="798" y="621.42" width="53.3" height="8.2" fill="#858585" stroke="none" stroke-width="1" />
<rect x="799.4" y="623.02" width="1.9" height="1.8" fill="#111" stroke="none" stroke-width="1" />
<rect x="802.5" y="623.02" width="1.9" height="1.8" fill="#111" stroke="none" stroke-width="1" />
<rect x="805.6" y="623.02" width="1.9" height="1.8" fill="#111" stroke="none" stroke-width="1" />
<rect x="808.7" y="623.02" width="1.9" height="1.8" fill="#111" stroke="none" stroke-width="1" />
<rect x="812.3" y="623.02" width="0.9" height="1.8" fill="#111" stroke="none" stroke-width="1" />
<rect x="814.9" y="623.02" width="1.9" height="1.8" fill="#111" stroke="none" stroke-width="1" />
<rect x="818" y="623.02" width="1.9" height="1.8" fill="#111" stroke="none" stroke-width="1" />
<rect x="821.1" y="623.02" width="1.9" height="1.8" fill="#111" stroke="none" stroke-width="1" />
<rect x="824.2" y="623.02" width="1.9" height="1.8" fill="#111" stroke="none" stroke-width="1" />
<rect x="827.8" y="623.02" width="0.9" height="1.8" fill="#111" stroke="none" stroke-width="1" />
<rect x="830.4" y="623.02" width="1.9" height="1.8" fill="#111" stroke="none" stroke-width="1" />
<rect x="833.5" y="623.02" width="1.9" height="1.8" fill="#111" stroke="none" stroke-width="1" />
<rect x="836.6" y="623.02" width="1.9" height="1.8" fill="#111" stroke="none" stroke-width="1" />
<rect x="839.7" y="623.02" width="1.9" height="1.8" fill="#111" stroke="none" stroke-width="1" />
<rect x="843.3" y="623.02" width="0.9" height="1.8" fill="#111" stroke="none" stroke-width="1" />
<rect x="799.4" y="626.42" width="1.9" height="1.8" fill="#111" stroke="none" stroke-width="1" />
<rect x="802.5" y="626.42" width="1.9" height="1.8" fill="#111" stroke="none" stroke-width="1" />
<rect x="805.6" y="626.42" width="1.9" height="1.8" fill="#111" stroke="none" stroke-width="1" />
<rect x="808.7" y="626.42" width="1.9" height="1.8" fill="#111" stroke="none" stroke-width="1" />
<rect x="812.3" y="626.42" width="0.9" height="1.8" fill="#111" stroke="none" stroke-width="1" />
<rect x="814.9" y="626.42" width="1.9" height="1.8" fill="#111" stroke="none" stroke-width="1" />
<rect x="818" y="626.42" width="1.9" height="1.8" fill="#111" stroke="none" stroke-width="1" />
<rect x="821.1" y="626.42" width="1.9" height="1.8" fill="#111" stroke="none" stroke-width="1" />
<rect x="824.2" y="626.42" width="1.9" height="1.8" fill="#111" stroke="none" stroke-width="1" />
<rect x="827.8" y="626.42" width="0.9" height="1.8" fill="#111" stroke="none" stroke-width="1" />
<rect x="830.4" y="626.42" width="1.9" height="1.8" fill="#111" stroke="none" stroke-width="1" />
<rect x="833.5" y="626.42" width="1.9" height="1.8" fill="#111" stroke="none" stroke-width="1" />
<rect x="836.6" y="626.42" width="1.9" height="1.8" fill="#111" stroke="none" stroke-width="1" />
<rect x="839.7" y="626.42" width="1.9" height="1.8" fill="#111" stroke="none" stroke-width="1" />
<rect x="843.3" y="626.42" width="0.9" height="1.8" fill="#111" stroke="none" stroke-width="1" />
<rect x="847.6" y="624.02" width="1.7" height="4.6" fill="#fff" stroke="none" stroke-width="1" />
<rect x="798" y="629.92" width="53.3" height="4.6" fill="#3a3a3a" stroke="none" stroke-width="1" />
<rect x="799" y="630.62" width="36" height="3.2" fill="#7c7c7c" stroke="none" stroke-width="1" />
<rect x="800" y="631.32" width="15.5" height="1.8" fill="#5a5a5a" stroke="none" stroke-width="1" />
<rect x="817.5" y="631.32" width="16.5" height="1.8" fill="#5a5a5a" stroke="none" stroke-width="1" />
<rect x="836" y="630.82" width="2.2" height="3" fill="#686868" stroke="none" stroke-width="1" />
<rect x="839" y="630.52" width="8.2" height="3.4" fill="#8b0000" stroke="none" stroke-width="1" />
<rect x="848.3" y="630.22" width="2.4" height="4" fill="#6a6a6a" stroke="none" stroke-width="1" />
<rect x="798" y="635.6" width="53.3" height="8.2" fill="#858585" stroke="none" stroke-width="1" />
<rect x="799.4" y="637.2" width="1.9" height="1.8" fill="#111" stroke="none" stroke-width="1" />
<rect x="802.5" y="637.2" width="1.9" height="1.8" fill="#111" stroke="none" stroke-width="1" />
<rect x="805.6" y="637.2" width="1.9" height="1.8" fill="#111" stroke="none" stroke-width="1" />
<rect x="808.7" y="637.2" width="1.9" height="1.8" fill="#111" stroke="none" stroke-width="1" />
<rect x="812.3" y="637.2" width="0.9" height="1.8" fill="#111" stroke="none" stroke-width="1" />
<rect x="814.9" y="637.2" width="1.9" height="1.8" fill="#111" stroke="none" stroke-width="1" />
<rect x="818" y="637.2" width="1.9" height="1.8" fill="#111" stroke="none" stroke-width="1" />
<rect x="821.1" y="637.2" width="1.9" height="1.8" fill="#111" stroke="none" stroke-width="1" />
<rect x="824.2" y="637.2" width="1.9" height="1.8" fill="#111" stroke="none" stroke-width="1" />
<rect x="827.8" y="637.2" width="0.9" height="1.8" fill="#111" stroke="none" stroke-width="1" />
<rect x="830.4" y="637.2" width="1.9" height="1.8" fill="#111" stroke="none" stroke-width="1" />
<rect x="833.5" y="637.2" width="1.9" height="1.8" fill="#111" stroke="none" stroke-width="1" />
<rect x="836.6" y="637.2" width="1.9" height="1.8" fill="#111" stroke="none" stroke-width="1" />
<rect x="839.7" y="637.2" width="1.9" height="1.8" fill="#111" stroke="none" stroke-width="1" />
<rect x="843.3" y="637.2" width="0.9" height="1.8" fill="#111" stroke="none" stroke-width="1" />
<rect x="799.4" y="640.6" width="1.9" height="1.8" fill="#111" stroke="none" stroke-width="1" />
<rect x="802.5" y="640.6" width="1.9" height="1.8" fill="#111" stroke="none" stroke-width="1" />
<rect x="805.6" y="640.6" width="1.9" height="1.8" fill="#111" stroke="none" stroke-width="1" />
<rect x="808.7" y="640.6" width="1.9" height="1.8" fill="#111" stroke="none" stroke-width="1" />
<rect x="812.3" y="640.6" width="0.9" height="1.8" fill="#111" stroke="none" stroke-width="1" />
<rect x="814.9" y="640.6" width="1.9" height="1.8" fill="#111" stroke="none" stroke-width="1" />
<rect x="818" y="640.6" width="1.9" height="1.8" fill="#111" stroke="none" stroke-width="1" />
<rect x="821.1" y="640.6" width="1.9" height="1.8" fill="#111" stroke="none" stroke-width="1" />
<rect x="824.2" y="640.6" width="1.9" height="1.8" fill="#111" stroke="none" stroke-width="1" />
<rect x="827.8" y="640.6" width="0.9" height="1.8" fill="#111" stroke="none" stroke-width="1" />
<rect x="830.4" y="640.6" width="1.9" height="1.8" fill="#111" stroke="none" stroke-width="1" />
<rect x="833.5" y="640.6" width="1.9" height="1.8" fill="#111" stroke="none" stroke-width="1" />
<rect x="836.6" y="640.6" width="1.9" height="1.8" fill="#111" stroke="none" stroke-width="1" />
<rect x="839.7" y="640.6" width="1.9" height="1.8" fill="#111" stroke="none" stroke-width="1" />
<rect x="843.3" y="640.6" width="0.9" height="1.8" fill="#111" stroke="none" stroke-width="1" />
<rect x="847.6" y="638.2" width="1.7" height="4.6" fill="#fff" stroke="none" stroke-width="1" />
<rect x="798" y="644.1" width="53.3" height="4.6" fill="#3a3a3a" stroke="none" stroke-width="1" />
<rect x="799" y="644.8" width="36" height="3.2" fill="#7c7c7c" stroke="none" stroke-width="1" />
<rect x="800" y="645.5" width="15.5" height="1.8" fill="#5a5a5a" stroke="none" stroke-width="1" />
<rect x="817.5" y="645.5" width="16.5" height="1.8" fill="#5a5a5a" stroke="none" stroke-width="1" />
<rect x="836" y="645" width="2.2" height="3" fill="#686868" stroke="none" stroke-width="1" />
<rect x="839" y="644.7" width="8.2" height="3.4" fill="#8b0000" stroke="none" stroke-width="1" />
<rect x="848.3" y="644.4" width="2.4" height="4" fill="#6a6a6a" stroke="none" stroke-width="1" />
<rect x="853.4" y="564.7" width="53.3" height="8.2" fill="#858585" stroke="none" stroke-width="1" />
<rect x="854.8" y="566.3" width="1.9" height="1.8" fill="#111" stroke="none" stroke-width="1" />
<rect x="857.9" y="566.3" width="1.9" height="1.8" fill="#111" stroke="none" stroke-width="1" />
<rect x="861" y="566.3" width="1.9" height="1.8" fill="#111" stroke="none" stroke-width="1" />
<rect x="864.1" y="566.3" width="1.9" height="1.8" fill="#111" stroke="none" stroke-width="1" />
<rect x="867.7" y="566.3" width="0.9" height="1.8" fill="#111" stroke="none" stroke-width="1" />
<rect x="870.3" y="566.3" width="1.9" height="1.8" fill="#111" stroke="none" stroke-width="1" />
<rect x="873.4" y="566.3" width="1.9" height="1.8" fill="#111" stroke="none" stroke-width="1" />
<rect x="876.5" y="566.3" width="1.9" height="1.8" fill="#111" stroke="none" stroke-width="1" />
<rect x="879.6" y="566.3" width="1.9" height="1.8" fill="#111" stroke="none" stroke-width="1" />
<rect x="883.2" y="566.3" width="0.9" height="1.8" fill="#111" stroke="none" stroke-width="1" />
<rect x="885.8" y="566.3" width="1.9" height="1.8" fill="#111" stroke="none" stroke-width="1" />
<rect x="888.9" y="566.3" width="1.9" height="1.8" fill="#111" stroke="none" stroke-width="1" />
<rect x="892" y="566.3" width="1.9" height="1.8" fill="#111" stroke="none" stroke-width="1" />
<rect x="895.1" y="566.3" width="1.9" height="1.8" fill="#111" stroke="none" stroke-width="1" />
<rect x="898.7" y="566.3" width="0.9" height="1.8" fill="#111" stroke="none" stroke-width="1" />
<rect x="854.8" y="569.7" width="1.9" height="1.8" fill="#111" stroke="none" stroke-width="1" />
<rect x="857.9" y="569.7" width="1.9" height="1.8" fill="#111" stroke="none" stroke-width="1" />
<rect x="861" y="569.7" width="1.9" height="1.8" fill="#111" stroke="none" stroke-width="1" />
<rect x="864.1" y="569.7" width="1.9" height="1.8" fill="#111" stroke="none" stroke-width="1" />
<rect x="867.7" y="569.7" width="0.9" height="1.8" fill="#111" stroke="none" stroke-width="1" />
<rect x="870.3" y="569.7" width="1.9" height="1.8" fill="#111" stroke="none" stroke-width="1" />
<rect x="873.4" y="569.7" width="1.9" height="1.8" fill="#111" stroke="none" stroke-width="1" />
<rect x="876.5" y="569.7" width="1.9" height="1.8" fill="#111" stroke="none" stroke-width="1" />
<rect x="879.6" y="569.7" width="1.9" height="1.8" fill="#111" stroke="none" stroke-width="1" />
<rect x="883.2" y="569.7" width="0.9" height="1.8" fill="#111" stroke="none" stroke-width="1" />
<rect x="885.8" y="569.7" width="1.9" height="1.8" fill="#111" stroke="none" stroke-width="1" />
<rect x="888.9" y="569.7" width="1.9" height="1.8" fill="#111" stroke="none" stroke-width="1" />
<rect x="892" y="569.7" width="1.9" height="1.8" fill="#111" stroke="none" stroke-width="1" />
<rect x="895.1" y="569.7" width="1.9" height="1.8" fill="#111" stroke="none" stroke-width="1" />
<rect x="898.7" y="569.7" width="0.9" height="1.8" fill="#111" stroke="none" stroke-width="1" />
<rect x="903" y="567.3" width="1.7" height="4.6" fill="#fff" stroke="none" stroke-width="1" />
<rect x="853.4" y="573.2" width="53.3" height="4.6" fill="#3a3a3a" stroke="none" stroke-width="1" />
<rect x="854.4" y="573.9" width="36" height="3.2" fill="#7c7c7c" stroke="none" stroke-width="1" />
<rect x="855.4" y="574.6" width="15.5" height="1.8" fill="#5a5a5a" stroke="none" stroke-width="1" />
<rect x="872.9" y="574.6" width="16.5" height="1.8" fill="#5a5a5a" stroke="none" stroke-width="1" />
<rect x="891.4" y="574.1" width="2.2" height="3" fill="#686868" stroke="none" stroke-width="1" />
<rect x="894.4" y="573.8" width="8.2" height="3.4" fill="#8b0000" stroke="none" stroke-width="1" />
<rect x="903.7" y="573.5" width="2.4" height="4" fill="#6a6a6a" stroke="none" stroke-width="1" />
<rect x="853.4" y="578.88" width="53.3" height="8.2" fill="#858585" stroke="none" stroke-width="1" />
<rect x="854.8" y="580.48" width="1.9" height="1.8" fill="#111" stroke="none" stroke-width="1" />
<rect x="857.9" y="580.48" width="1.9" height="1.8" fill="#111" stroke="none" stroke-width="1" />
<rect x="861" y="580.48" width="1.9" height="1.8" fill="#111" stroke="none" stroke-width="1" />
<rect x="864.1" y="580.48" width="1.9" height="1.8" fill="#111" stroke="none" stroke-width="1" />
<rect x="867.7" y="580.48" width="0.9" height="1.8" fill="#111" stroke="none" stroke-width="1" />
<rect x="870.3" y="580.48" width="1.9" height="1.8" fill="#111" stroke="none" stroke-width="1" />
<rect x="873.4" y="580.48" width="1.9" height="1.8" fill="#111" stroke="none" stroke-width="1" />
<rect x="876.5" y="580.48" width="1.9" height="1.8" fill="#111" stroke="none" stroke-width="1" />
<rect x="879.6" y="580.48" width="1.9" height="1.8" fill="#111" stroke="none" stroke-width="1" />
<rect x="883.2" y="580.48" width="0.9" height="1.8" fill="#111" stroke="none" stroke-width="1" />
<rect x="885.8" y="580.48" width="1.9" height="1.8" fill="#111" stroke="none" stroke-width="1" />
<rect x="888.9" y="580.48" width="1.9" height="1.8" fill="#111" stroke="none" stroke-width="1" />
<rect x="892" y="580.48" width="1.9" height="1.8" fill="#111" stroke="none" stroke-width="1" />
<rect x="895.1" y="580.48" width="1.9" height="1.8" fill="#111" stroke="none" stroke-width="1" />
<rect x="898.7" y="580.48" width="0.9" height="1.8" fill="#111" stroke="none" stroke-width="1" />
<rect x="854.8" y="583.88" width="1.9" height="1.8" fill="#111" stroke="none" stroke-width="1" />
<rect x="857.9" y="583.88" width="1.9" height="1.8" fill="#111" stroke="none" stroke-width="1" />
<rect x="861" y="583.88" width="1.9" height="1.8" fill="#111" stroke="none" stroke-width="1" />
<rect x="864.1" y="583.88" width="1.9" height="1.8" fill="#111" stroke="none" stroke-width="1" />
<rect x="867.7" y="583.88" width="0.9" height="1.8" fill="#111" stroke="none" stroke-width="1" />
<rect x="870.3" y="583.88" width="1.9" height="1.8" fill="#111" stroke="none" stroke-width="1" />
<rect x="873.4" y="583.88" width="1.9" height="1.8" fill="#111" stroke="none" stroke-width="1" />
<rect x="876.5" y="583.88" width="1.9" height="1.8" fill="#111" stroke="none" stroke-width="1" />
<rect x="879.6" y="583.88" width="1.9" height="1.8" fill="#111" stroke="none" stroke-width="1" />
<rect x="883.2" y="583.88" width="0.9" height="1.8" fill="#111" stroke="none" stroke-width="1" />
<rect x="885.8" y="583.88" width="1.9" height="1.8" fill="#111" stroke="none" stroke-width="1" />
<rect x="888.9" y="583.88" width="1.9" height="1.8" fill="#111" stroke="none" stroke-width="1" />
<rect x="892" y="583.88" width="1.9" height="1.8" fill="#111" stroke="none" stroke-width="1" />
<rect x="895.1" y="583.88" width="1.9" height="1.8" fill="#111" stroke="none" stroke-width="1" />
<rect x="898.7" y="583.88" width="0.9" height="1.8" fill="#111" stroke="none" stroke-width="1" />
<rect x="903" y="581.48" width="1.7" height="4.6" fill="#fff" stroke="none" stroke-width="1" />
<rect x="853.4" y="587.38" width="53.3" height="4.6" fill="#3a3a3a" stroke="none" stroke-width="1" />
<rect x="854.4" y="588.08" width="36" height="3.2" fill="#7c7c7c" stroke="none" stroke-width="1" />
<rect x="855.4" y="588.78" width="15.5" height="1.8" fill="#5a5a5a" stroke="none" stroke-width="1" />
<rect x="872.9" y="588.78" width="16.5" height="1.8" fill="#5a5a5a" stroke="none" stroke-width="1" />
<rect x="891.4" y="588.28" width="2.2" height="3" fill="#686868" stroke="none" stroke-width="1" />
<path d="M894.4 591.28 L896.4 589.08 L902.6 589.08 L902.6 591.28 Z" fill="#8b0000"/>
<rect x="903.7" y="587.68" width="2.4" height="4" fill="#6a6a6a" stroke="none" stroke-width="1" />
<rect x="853.4" y="593.06" width="53.3" height="8.2" fill="#858585" stroke="none" stroke-width="1" />
<rect x="854.8" y="594.66" width="1.9" height="1.8" fill="#111" stroke="none" stroke-width="1" />
<rect x="857.9" y="594.66" width="1.9" height="1.8" fill="#111" stroke="none" stroke-width="1" />
<rect x="861" y="594.66" width="1.9" height="1.8" fill="#111" stroke="none" stroke-width="1" />
<rect x="864.1" y="594.66" width="1.9" height="1.8" fill="#111" stroke="none" stroke-width="1" />
<rect x="867.7" y="594.66" width="0.9" height="1.8" fill="#111" stroke="none" stroke-width="1" />
<rect x="870.3" y="594.66" width="1.9" height="1.8" fill="#111" stroke="none" stroke-width="1" />
<rect x="873.4" y="594.66" width="1.9" height="1.8" fill="#111" stroke="none" stroke-width="1" />
<rect x="876.5" y="594.66" width="1.9" height="1.8" fill="#111" stroke="none" stroke-width="1" />
<rect x="879.6" y="594.66" width="1.9" height="1.8" fill="#111" stroke="none" stroke-width="1" />
<rect x="883.2" y="594.66" width="0.9" height="1.8" fill="#111" stroke="none" stroke-width="1" />
<rect x="885.8" y="594.66" width="1.9" height="1.8" fill="#111" stroke="none" stroke-width="1" />
<rect x="888.9" y="594.66" width="1.9" height="1.8" fill="#111" stroke="none" stroke-width="1" />
<rect x="892" y="594.66" width="1.9" height="1.8" fill="#111" stroke="none" stroke-width="1" />
<rect x="895.1" y="594.66" width="1.9" height="1.8" fill="#111" stroke="none" stroke-width="1" />
<rect x="898.7" y="594.66" width="0.9" height="1.8" fill="#111" stroke="none" stroke-width="1" />
<rect x="854.8" y="598.06" width="1.9" height="1.8" fill="#111" stroke="none" stroke-width="1" />
<rect x="857.9" y="598.06" width="1.9" height="1.8" fill="#111" stroke="none" stroke-width="1" />
<rect x="861" y="598.06" width="1.9" height="1.8" fill="#111" stroke="none" stroke-width="1" />
<rect x="864.1" y="598.06" width="1.9" height="1.8" fill="#111" stroke="none" stroke-width="1" />
<rect x="867.7" y="598.06" width="0.9" height="1.8" fill="#111" stroke="none" stroke-width="1" />
<rect x="870.3" y="598.06" width="1.9" height="1.8" fill="#111" stroke="none" stroke-width="1" />
<rect x="873.4" y="598.06" width="1.9" height="1.8" fill="#111" stroke="none" stroke-width="1" />
<rect x="876.5" y="598.06" width="1.9" height="1.8" fill="#111" stroke="none" stroke-width="1" />
<rect x="879.6" y="598.06" width="1.9" height="1.8" fill="#111" stroke="none" stroke-width="1" />
<rect x="883.2" y="598.06" width="0.9" height="1.8" fill="#111" stroke="none" stroke-width="1" />
<rect x="885.8" y="598.06" width="1.9" height="1.8" fill="#111" stroke="none" stroke-width="1" />
<rect x="888.9" y="598.06" width="1.9" height="1.8" fill="#111" stroke="none" stroke-width="1" />
<rect x="892" y="598.06" width="1.9" height="1.8" fill="#111" stroke="none" stroke-width="1" />
<rect x="895.1" y="598.06" width="1.9" height="1.8" fill="#111" stroke="none" stroke-width="1" />
<rect x="898.7" y="598.06" width="0.9" height="1.8" fill="#111" stroke="none" stroke-width="1" />
<rect x="903" y="595.66" width="1.7" height="4.6" fill="#fff" stroke="none" stroke-width="1" />
<rect x="853.4" y="601.56" width="53.3" height="4.6" fill="#3a3a3a" stroke="none" stroke-width="1" />
<rect x="854.4" y="602.26" width="36" height="3.2" fill="#7c7c7c" stroke="none" stroke-width="1" />
<rect x="855.4" y="602.96" width="15.5" height="1.8" fill="#5a5a5a" stroke="none" stroke-width="1" />
<rect x="872.9" y="602.96" width="16.5" height="1.8" fill="#5a5a5a" stroke="none" stroke-width="1" />
<rect x="891.4" y="602.46" width="2.2" height="3" fill="#686868" stroke="none" stroke-width="1" />
<rect x="894.4" y="602.16" width="8.2" height="3.4" fill="#8b0000" stroke="none" stroke-width="1" />
<rect x="903.7" y="601.86" width="2.4" height="4" fill="#6a6a6a" stroke="none" stroke-width="1" />
<rect x="853.4" y="607.24" width="53.3" height="8.2" fill="#858585" stroke="none" stroke-width="1" />
<rect x="854.8" y="608.84" width="1.9" height="1.8" fill="#111" stroke="none" stroke-width="1" />
<rect x="857.9" y="608.84" width="1.9" height="1.8" fill="#111" stroke="none" stroke-width="1" />
<rect x="861" y="608.84" width="1.9" height="1.8" fill="#111" stroke="none" stroke-width="1" />
<rect x="864.1" y="608.84" width="1.9" height="1.8" fill="#111" stroke="none" stroke-width="1" />
<rect x="867.7" y="608.84" width="0.9" height="1.8" fill="#111" stroke="none" stroke-width="1" />
<rect x="870.3" y="608.84" width="1.9" height="1.8" fill="#111" stroke="none" stroke-width="1" />
<rect x="873.4" y="608.84" width="1.9" height="1.8" fill="#111" stroke="none" stroke-width="1" />
<rect x="876.5" y="608.84" width="1.9" height="1.8" fill="#111" stroke="none" stroke-width="1" />
<rect x="879.6" y="608.84" width="1.9" height="1.8" fill="#111" stroke="none" stroke-width="1" />
<rect x="883.2" y="608.84" width="0.9" height="1.8" fill="#111" stroke="none" stroke-width="1" />
<rect x="885.8" y="608.84" width="1.9" height="1.8" fill="#111" stroke="none" stroke-width="1" />
<rect x="888.9" y="608.84" width="1.9" height="1.8" fill="#111" stroke="none" stroke-width="1" />
<rect x="892" y="608.84" width="1.9" height="1.8" fill="#111" stroke="none" stroke-width="1" />
<rect x="895.1" y="608.84" width="1.9" height="1.8" fill="#111" stroke="none" stroke-width="1" />
<rect x="898.7" y="608.84" width="0.9" height="1.8" fill="#111" stroke="none" stroke-width="1" />
<rect x="854.8" y="612.24" width="1.9" height="1.8" fill="#111" stroke="none" stroke-width="1" />
<rect x="857.9" y="612.24" width="1.9" height="1.8" fill="#111" stroke="none" stroke-width="1" />
<rect x="861" y="612.24" width="1.9" height="1.8" fill="#111" stroke="none" stroke-width="1" />
<rect x="864.1" y="612.24" width="1.9" height="1.8" fill="#111" stroke="none" stroke-width="1" />
<rect x="867.7" y="612.24" width="0.9" height="1.8" fill="#111" stroke="none" stroke-width="1" />
<rect x="870.3" y="612.24" width="1.9" height="1.8" fill="#111" stroke="none" stroke-width="1" />
<rect x="873.4" y="612.24" width="1.9" height="1.8" fill="#111" stroke="none" stroke-width="1" />
<rect x="876.5" y="612.24" width="1.9" height="1.8" fill="#111" stroke="none" stroke-width="1" />
<rect x="879.6" y="612.24" width="1.9" height="1.8" fill="#111" stroke="none" stroke-width="1" />
<rect x="883.2" y="612.24" width="0.9" height="1.8" fill="#111" stroke="none" stroke-width="1" />
<rect x="885.8" y="612.24" width="1.9" height="1.8" fill="#111" stroke="none" stroke-width="1" />
<rect x="888.9" y="612.24" width="1.9" height="1.8" fill="#111" stroke="none" stroke-width="1" />
<rect x="892" y="612.24" width="1.9" height="1.8" fill="#111" stroke="none" stroke-width="1" />
<rect x="895.1" y="612.24" width="1.9" height="1.8" fill="#111" stroke="none" stroke-width="1" />
<rect x="898.7" y="612.24" width="0.9" height="1.8" fill="#111" stroke="none" stroke-width="1" />
<rect x="903" y="609.84" width="1.7" height="4.6" fill="#fff" stroke="none" stroke-width="1" />
<rect x="853.4" y="615.74" width="53.3" height="4.6" fill="#3a3a3a" stroke="none" stroke-width="1" />
<rect x="854.4" y="616.44" width="36" height="3.2" fill="#7c7c7c" stroke="none" stroke-width="1" />
<rect x="855.4" y="617.14" width="15.5" height="1.8" fill="#5a5a5a" stroke="none" stroke-width="1" />
<rect x="872.9" y="617.14" width="16.5" height="1.8" fill="#5a5a5a" stroke="none" stroke-width="1" />
<rect x="891.4" y="616.64" width="2.2" height="3" fill="#686868" stroke="none" stroke-width="1" />
<rect x="894.4" y="616.34" width="8.2" height="3.4" fill="#8b0000" stroke="none" stroke-width="1" />
<rect x="903.7" y="616.04" width="2.4" height="4" fill="#6a6a6a" stroke="none" stroke-width="1" />
<rect x="853.4" y="621.42" width="53.3" height="8.2" fill="#858585" stroke="none" stroke-width="1" />
<rect x="854.8" y="623.02" width="1.9" height="1.8" fill="#111" stroke="none" stroke-width="1" />
<rect x="857.9" y="623.02" width="1.9" height="1.8" fill="#111" stroke="none" stroke-width="1" />
<rect x="861" y="623.02" width="1.9" height="1.8" fill="#111" stroke="none" stroke-width="1" />
<rect x="864.1" y="623.02" width="1.9" height="1.8" fill="#111" stroke="none" stroke-width="1" />
<rect x="867.7" y="623.02" width="0.9" height="1.8" fill="#111" stroke="none" stroke-width="1" />
<rect x="870.3" y="623.02" width="1.9" height="1.8" fill="#111" stroke="none" stroke-width="1" />
<rect x="873.4" y="623.02" width="1.9" height="1.8" fill="#111" stroke="none" stroke-width="1" />
<rect x="876.5" y="623.02" width="1.9" height="1.8" fill="#111" stroke="none" stroke-width="1" />
<rect x="879.6" y="623.02" width="1.9" height="1.8" fill="#111" stroke="none" stroke-width="1" />
<rect x="883.2" y="623.02" width="0.9" height="1.8" fill="#111" stroke="none" stroke-width="1" />
<rect x="885.8" y="623.02" width="1.9" height="1.8" fill="#111" stroke="none" stroke-width="1" />
<rect x="888.9" y="623.02" width="1.9" height="1.8" fill="#111" stroke="none" stroke-width="1" />
<rect x="892" y="623.02" width="1.9" height="1.8" fill="#111" stroke="none" stroke-width="1" />
<rect x="895.1" y="623.02" width="1.9" height="1.8" fill="#111" stroke="none" stroke-width="1" />
<rect x="898.7" y="623.02" width="0.9" height="1.8" fill="#111" stroke="none" stroke-width="1" />
<rect x="854.8" y="626.42" width="1.9" height="1.8" fill="#111" stroke="none" stroke-width="1" />
<rect x="857.9" y="626.42" width="1.9" height="1.8" fill="#111" stroke="none" stroke-width="1" />
<rect x="861" y="626.42" width="1.9" height="1.8" fill="#111" stroke="none" stroke-width="1" />
<rect x="864.1" y="626.42" width="1.9" height="1.8" fill="#111" stroke="none" stroke-width="1" />
<rect x="867.7" y="626.42" width="0.9" height="1.8" fill="#111" stroke="none" stroke-width="1" />
<rect x="870.3" y="626.42" width="1.9" height="1.8" fill="#111" stroke="none" stroke-width="1" />
<rect x="873.4" y="626.42" width="1.9" height="1.8" fill="#111" stroke="none" stroke-width="1" />
<rect x="876.5" y="626.42" width="1.9" height="1.8" fill="#111" stroke="none" stroke-width="1" />
<rect x="879.6" y="626.42" width="1.9" height="1.8" fill="#111" stroke="none" stroke-width="1" />
<rect x="883.2" y="626.42" width="0.9" height="1.8" fill="#111" stroke="none" stroke-width="1" />
<rect x="885.8" y="626.42" width="1.9" height="1.8" fill="#111" stroke="none" stroke-width="1" />
<rect x="888.9" y="626.42" width="1.9" height="1.8" fill="#111" stroke="none" stroke-width="1" />
<rect x="892" y="626.42" width="1.9" height="1.8" fill="#111" stroke="none" stroke-width="1" />
<rect x="895.1" y="626.42" width="1.9" height="1.8" fill="#111" stroke="none" stroke-width="1" />
<rect x="898.7" y="626.42" width="0.9" height="1.8" fill="#111" stroke="none" stroke-width="1" />
<rect x="903" y="624.02" width="1.7" height="4.6" fill="#fff" stroke="none" stroke-width="1" />
<rect x="853.4" y="629.92" width="53.3" height="4.6" fill="#3a3a3a" stroke="none" stroke-width="1" />
<rect x="854.4" y="630.62" width="36" height="3.2" fill="#7c7c7c" stroke="none" stroke-width="1" />
<rect x="855.4" y="631.32" width="15.5" height="1.8" fill="#5a5a5a" stroke="none" stroke-width="1" />
<rect x="872.9" y="631.32" width="16.5" height="1.8" fill="#5a5a5a" stroke="none" stroke-width="1" />
<rect x="891.4" y="630.82" width="2.2" height="3" fill="#686868" stroke="none" stroke-width="1" />
<rect x="894.4" y="630.52" width="8.2" height="3.4" fill="#8b0000" stroke="none" stroke-width="1" />
<rect x="903.7" y="630.22" width="2.4" height="4" fill="#6a6a6a" stroke="none" stroke-width="1" />
<rect x="853.4" y="635.6" width="53.3" height="8.2" fill="#858585" stroke="none" stroke-width="1" />
<rect x="854.8" y="637.2" width="1.9" height="1.8" fill="#111" stroke="none" stroke-width="1" />
<rect x="857.9" y="637.2" width="1.9" height="1.8" fill="#111" stroke="none" stroke-width="1" />
<rect x="861" y="637.2" width="1.9" height="1.8" fill="#111" stroke="none" stroke-width="1" />
<rect x="864.1" y="637.2" width="1.9" height="1.8" fill="#111" stroke="none" stroke-width="1" />
<rect x="867.7" y="637.2" width="0.9" height="1.8" fill="#111" stroke="none" stroke-width="1" />
<rect x="870.3" y="637.2" width="1.9" height="1.8" fill="#111" stroke="none" stroke-width="1" />
<rect x="873.4" y="637.2" width="1.9" height="1.8" fill="#111" stroke="none" stroke-width="1" />
<rect x="876.5" y="637.2" width="1.9" height="1.8" fill="#111" stroke="none" stroke-width="1" />
<rect x="879.6" y="637.2" width="1.9" height="1.8" fill="#111" stroke="none" stroke-width="1" />
<rect x="883.2" y="637.2" width="0.9" height="1.8" fill="#111" stroke="none" stroke-width="1" />
<rect x="885.8" y="637.2" width="1.9" height="1.8" fill="#111" stroke="none" stroke-width="1" />
<rect x="888.9" y="637.2" width="1.9" height="1.8" fill="#111" stroke="none" stroke-width="1" />
<rect x="892" y="637.2" width="1.9" height="1.8" fill="#111" stroke="none" stroke-width="1" />
<rect x="895.1" y="637.2" width="1.9" height="1.8" fill="#111" stroke="none" stroke-width="1" />
<rect x="898.7" y="637.2" width="0.9" height="1.8" fill="#111" stroke="none" stroke-width="1" />
<rect x="854.8" y="640.6" width="1.9" height="1.8" fill="#111" stroke="none" stroke-width="1" />
<rect x="857.9" y="640.6" width="1.9" height="1.8" fill="#111" stroke="none" stroke-width="1" />
<rect x="861" y="640.6" width="1.9" height="1.8" fill="#111" stroke="none" stroke-width="1" />
<rect x="864.1" y="640.6" width="1.9" height="1.8" fill="#111" stroke="none" stroke-width="1" />
<rect x="867.7" y="640.6" width="0.9" height="1.8" fill="#111" stroke="none" stroke-width="1" />
<rect x="870.3" y="640.6" width="1.9" height="1.8" fill="#111" stroke="none" stroke-width="1" />
<rect x="873.4" y="640.6" width="1.9" height="1.8" fill="#111" stroke="none" stroke-width="1" />
<rect x="876.5" y="640.6" width="1.9" height="1.8" fill="#111" stroke="none" stroke-width="1" />
<rect x="879.6" y="640.6" width="1.9" height="1.8" fill="#111" stroke="none" stroke-width="1" />
<rect x="883.2" y="640.6" width="0.9" height="1.8" fill="#111" stroke="none" stroke-width="1" />
<rect x="885.8" y="640.6" width="1.9" height="1.8" fill="#111" stroke="none" stroke-width="1" />
<rect x="888.9" y="640.6" width="1.9" height="1.8" fill="#111" stroke="none" stroke-width="1" />
<rect x="892" y="640.6" width="1.9" height="1.8" fill="#111" stroke="none" stroke-width="1" />
<rect x="895.1" y="640.6" width="1.9" height="1.8" fill="#111" stroke="none" stroke-width="1" />
<rect x="898.7" y="640.6" width="0.9" height="1.8" fill="#111" stroke="none" stroke-width="1" />
<rect x="903" y="638.2" width="1.7" height="4.6" fill="#fff" stroke="none" stroke-width="1" />
<rect x="853.4" y="644.1" width="53.3" height="4.6" fill="#3a3a3a" stroke="none" stroke-width="1" />
<rect x="854.4" y="644.8" width="36" height="3.2" fill="#7c7c7c" stroke="none" stroke-width="1" />
<rect x="855.4" y="645.5" width="15.5" height="1.8" fill="#5a5a5a" stroke="none" stroke-width="1" />
<rect x="872.9" y="645.5" width="16.5" height="1.8" fill="#5a5a5a" stroke="none" stroke-width="1" />
<rect x="891.4" y="645" width="2.2" height="3" fill="#686868" stroke="none" stroke-width="1" />
<rect x="894.4" y="644.7" width="8.2" height="3.4" fill="#8b0000" stroke="none" stroke-width="1" />
<rect x="903.7" y="644.4" width="2.4" height="4" fill="#6a6a6a" stroke="none" stroke-width="1" />
<rect x="908" y="564.7" width="53.3" height="8.2" fill="#858585" stroke="none" stroke-width="1" />
<rect x="909.4" y="566.3" width="1.9" height="1.8" fill="#111" stroke="none" stroke-width="1" />
<rect x="912.5" y="566.3" width="1.9" height="1.8" fill="#111" stroke="none" stroke-width="1" />
<rect x="915.6" y="566.3" width="1.9" height="1.8" fill="#111" stroke="none" stroke-width="1" />
<rect x="918.7" y="566.3" width="1.9" height="1.8" fill="#111" stroke="none" stroke-width="1" />
<rect x="922.3" y="566.3" width="0.9" height="1.8" fill="#111" stroke="none" stroke-width="1" />
<rect x="924.9" y="566.3" width="1.9" height="1.8" fill="#111" stroke="none" stroke-width="1" />
<rect x="928" y="566.3" width="1.9" height="1.8" fill="#111" stroke="none" stroke-width="1" />
<rect x="931.1" y="566.3" width="1.9" height="1.8" fill="#111" stroke="none" stroke-width="1" />
<rect x="934.2" y="566.3" width="1.9" height="1.8" fill="#111" stroke="none" stroke-width="1" />
<rect x="937.8" y="566.3" width="0.9" height="1.8" fill="#111" stroke="none" stroke-width="1" />
<rect x="940.4" y="566.3" width="1.9" height="1.8" fill="#111" stroke="none" stroke-width="1" />
<rect x="943.5" y="566.3" width="1.9" height="1.8" fill="#111" stroke="none" stroke-width="1" />
<rect x="946.6" y="566.3" width="1.9" height="1.8" fill="#111" stroke="none" stroke-width="1" />
<rect x="949.7" y="566.3" width="1.9" height="1.8" fill="#111" stroke="none" stroke-width="1" />
<rect x="953.3" y="566.3" width="0.9" height="1.8" fill="#111" stroke="none" stroke-width="1" />
<rect x="909.4" y="569.7" width="1.9" height="1.8" fill="#111" stroke="none" stroke-width="1" />
<rect x="912.5" y="569.7" width="1.9" height="1.8" fill="#111" stroke="none" stroke-width="1" />
<rect x="915.6" y="569.7" width="1.9" height="1.8" fill="#111" stroke="none" stroke-width="1" />
<rect x="918.7" y="569.7" width="1.9" height="1.8" fill="#111" stroke="none" stroke-width="1" />
<rect x="922.3" y="569.7" width="0.9" height="1.8" fill="#111" stroke="none" stroke-width="1" />
<rect x="924.9" y="569.7" width="1.9" height="1.8" fill="#111" stroke="none" stroke-width="1" />
<rect x="928" y="569.7" width="1.9" height="1.8" fill="#111" stroke="none" stroke-width="1" />
<rect x="931.1" y="569.7" width="1.9" height="1.8" fill="#111" stroke="none" stroke-width="1" />
<rect x="934.2" y="569.7" width="1.9" height="1.8" fill="#111" stroke="none" stroke-width="1" />
<rect x="937.8" y="569.7" width="0.9" height="1.8" fill="#111" stroke="none" stroke-width="1" />
<rect x="940.4" y="569.7" width="1.9" height="1.8" fill="#111" stroke="none" stroke-width="1" />
<rect x="943.5" y="569.7" width="1.9" height="1.8" fill="#111" stroke="none" stroke-width="1" />
<rect x="946.6" y="569.7" width="1.9" height="1.8" fill="#111" stroke="none" stroke-width="1" />
<rect x="949.7" y="569.7" width="1.9" height="1.8" fill="#111" stroke="none" stroke-width="1" />
<rect x="953.3" y="569.7" width="0.9" height="1.8" fill="#111" stroke="none" stroke-width="1" />
<rect x="957.6" y="567.3" width="1.7" height="4.6" fill="#fff" stroke="none" stroke-width="1" />
<rect x="908" y="573.2" width="53.3" height="4.6" fill="#3a3a3a" stroke="none" stroke-width="1" />
<rect x="909" y="573.9" width="36" height="3.2" fill="#7c7c7c" stroke="none" stroke-width="1" />
<rect x="910" y="574.6" width="15.5" height="1.8" fill="#5a5a5a" stroke="none" stroke-width="1" />
<rect x="927.5" y="574.6" width="16.5" height="1.8" fill="#5a5a5a" stroke="none" stroke-width="1" />
<rect x="946" y="574.1" width="2.2" height="3" fill="#686868" stroke="none" stroke-width="1" />
<rect x="949" y="573.8" width="8.2" height="3.4" fill="#8b0000" stroke="none" stroke-width="1" />
<rect x="958.3" y="573.5" width="2.4" height="4" fill="#6a6a6a" stroke="none" stroke-width="1" />
<rect x="908" y="578.88" width="53.3" height="8.2" fill="#858585" stroke="none" stroke-width="1" />
<rect x="909.4" y="580.48" width="1.9" height="1.8" fill="#111" stroke="none" stroke-width="1" />
<rect x="912.5" y="580.48" width="1.9" height="1.8" fill="#111" stroke="none" stroke-width="1" />
<rect x="915.6" y="580.48" width="1.9" height="1.8" fill="#111" stroke="none" stroke-width="1" />
<rect x="918.7" y="580.48" width="1.9" height="1.8" fill="#111" stroke="none" stroke-width="1" />
<rect x="922.3" y="580.48" width="0.9" height="1.8" fill="#111" stroke="none" stroke-width="1" />
<rect x="924.9" y="580.48" width="1.9" height="1.8" fill="#111" stroke="none" stroke-width="1" />
<rect x="928" y="580.48" width="1.9" height="1.8" fill="#111" stroke="none" stroke-width="1" />
<rect x="931.1" y="580.48" width="1.9" height="1.8" fill="#111" stroke="none" stroke-width="1" />
<rect x="934.2" y="580.48" width="1.9" height="1.8" fill="#111" stroke="none" stroke-width="1" />
<rect x="937.8" y="580.48" width="0.9" height="1.8" fill="#111" stroke="none" stroke-width="1" />
<rect x="940.4" y="580.48" width="1.9" height="1.8" fill="#111" stroke="none" stroke-width="1" />
<rect x="943.5" y="580.48" width="1.9" height="1.8" fill="#111" stroke="none" stroke-width="1" />
<rect x="946.6" y="580.48" width="1.9" height="1.8" fill="#111" stroke="none" stroke-width="1" />
<rect x="949.7" y="580.48" width="1.9" height="1.8" fill="#111" stroke="none" stroke-width="1" />
<rect x="953.3" y="580.48" width="0.9" height="1.8" fill="#111" stroke="none" stroke-width="1" />
<rect x="909.4" y="583.88" width="1.9" height="1.8" fill="#111" stroke="none" stroke-width="1" />
<rect x="912.5" y="583.88" width="1.9" height="1.8" fill="#111" stroke="none" stroke-width="1" />
<rect x="915.6" y="583.88" width="1.9" height="1.8" fill="#111" stroke="none" stroke-width="1" />
<rect x="918.7" y="583.88" width="1.9" height="1.8" fill="#111" stroke="none" stroke-width="1" />
<rect x="922.3" y="583.88" width="0.9" height="1.8" fill="#111" stroke="none" stroke-width="1" />
<rect x="924.9" y="583.88" width="1.9" height="1.8" fill="#111" stroke="none" stroke-width="1" />
<rect x="928" y="583.88" width="1.9" height="1.8" fill="#111" stroke="none" stroke-width="1" />
<rect x="931.1" y="583.88" width="1.9" height="1.8" fill="#111" stroke="none" stroke-width="1" />
<rect x="934.2" y="583.88" width="1.9" height="1.8" fill="#111" stroke="none" stroke-width="1" />
<rect x="937.8" y="583.88" width="0.9" height="1.8" fill="#111" stroke="none" stroke-width="1" />
<rect x="940.4" y="583.88" width="1.9" height="1.8" fill="#111" stroke="none" stroke-width="1" />
<rect x="943.5" y="583.88" width="1.9" height="1.8" fill="#111" stroke="none" stroke-width="1" />
<rect x="946.6" y="583.88" width="1.9" height="1.8" fill="#111" stroke="none" stroke-width="1" />
<rect x="949.7" y="583.88" width="1.9" height="1.8" fill="#111" stroke="none" stroke-width="1" />
<rect x="953.3" y="583.88" width="0.9" height="1.8" fill="#111" stroke="none" stroke-width="1" />
<rect x="957.6" y="581.48" width="1.7" height="4.6" fill="#fff" stroke="none" stroke-width="1" />
<rect x="908" y="587.38" width="53.3" height="4.6" fill="#3a3a3a" stroke="none" stroke-width="1" />
<rect x="909" y="588.08" width="36" height="3.2" fill="#7c7c7c" stroke="none" stroke-width="1" />
<rect x="910" y="588.78" width="15.5" height="1.8" fill="#5a5a5a" stroke="none" stroke-width="1" />
<rect x="927.5" y="588.78" width="16.5" height="1.8" fill="#5a5a5a" stroke="none" stroke-width="1" />
<rect x="946" y="588.28" width="2.2" height="3" fill="#686868" stroke="none" stroke-width="1" />
<path d="M949 591.28 L951 589.08 L957.2 589.08 L957.2 591.28 Z" fill="#8b0000"/>
<rect x="958.3" y="587.68" width="2.4" height="4" fill="#6a6a6a" stroke="none" stroke-width="1" />
<rect x="908" y="593.06" width="53.3" height="8.2" fill="#858585" stroke="none" stroke-width="1" />
<rect x="909.4" y="594.66" width="1.9" height="1.8" fill="#111" stroke="none" stroke-width="1" />
<rect x="912.5" y="594.66" width="1.9" height="1.8" fill="#111" stroke="none" stroke-width="1" />
<rect x="915.6" y="594.66" width="1.9" height="1.8" fill="#111" stroke="none" stroke-width="1" />
<rect x="918.7" y="594.66" width="1.9" height="1.8" fill="#111" stroke="none" stroke-width="1" />
<rect x="922.3" y="594.66" width="0.9" height="1.8" fill="#111" stroke="none" stroke-width="1" />
<rect x="924.9" y="594.66" width="1.9" height="1.8" fill="#111" stroke="none" stroke-width="1" />
<rect x="928" y="594.66" width="1.9" height="1.8" fill="#111" stroke="none" stroke-width="1" />
<rect x="931.1" y="594.66" width="1.9" height="1.8" fill="#111" stroke="none" stroke-width="1" />
<rect x="934.2" y="594.66" width="1.9" height="1.8" fill="#111" stroke="none" stroke-width="1" />
<rect x="937.8" y="594.66" width="0.9" height="1.8" fill="#111" stroke="none" stroke-width="1" />
<rect x="940.4" y="594.66" width="1.9" height="1.8" fill="#111" stroke="none" stroke-width="1" />
<rect x="943.5" y="594.66" width="1.9" height="1.8" fill="#111" stroke="none" stroke-width="1" />
<rect x="946.6" y="594.66" width="1.9" height="1.8" fill="#111" stroke="none" stroke-width="1" />
<rect x="949.7" y="594.66" width="1.9" height="1.8" fill="#111" stroke="none" stroke-width="1" />
<rect x="953.3" y="594.66" width="0.9" height="1.8" fill="#111" stroke="none" stroke-width="1" />
<rect x="909.4" y="598.06" width="1.9" height="1.8" fill="#111" stroke="none" stroke-width="1" />
<rect x="912.5" y="598.06" width="1.9" height="1.8" fill="#111" stroke="none" stroke-width="1" />
<rect x="915.6" y="598.06" width="1.9" height="1.8" fill="#111" stroke="none" stroke-width="1" />
<rect x="918.7" y="598.06" width="1.9" height="1.8" fill="#111" stroke="none" stroke-width="1" />
<rect x="922.3" y="598.06" width="0.9" height="1.8" fill="#111" stroke="none" stroke-width="1" />
<rect x="924.9" y="598.06" width="1.9" height="1.8" fill="#111" stroke="none" stroke-width="1" />
<rect x="928" y="598.06" width="1.9" height="1.8" fill="#111" stroke="none" stroke-width="1" />
<rect x="931.1" y="598.06" width="1.9" height="1.8" fill="#111" stroke="none" stroke-width="1" />
<rect x="934.2" y="598.06" width="1.9" height="1.8" fill="#111" stroke="none" stroke-width="1" />
<rect x="937.8" y="598.06" width="0.9" height="1.8" fill="#111" stroke="none" stroke-width="1" />
<rect x="940.4" y="598.06" width="1.9" height="1.8" fill="#111" stroke="none" stroke-width="1" />
<rect x="943.5" y="598.06" width="1.9" height="1.8" fill="#111" stroke="none" stroke-width="1" />
<rect x="946.6" y="598.06" width="1.9" height="1.8" fill="#111" stroke="none" stroke-width="1" />
<rect x="949.7" y="598.06" width="1.9" height="1.8" fill="#111" stroke="none" stroke-width="1" />
<rect x="953.3" y="598.06" width="0.9" height="1.8" fill="#111" stroke="none" stroke-width="1" />
<rect x="957.6" y="595.66" width="1.7" height="4.6" fill="#fff" stroke="none" stroke-width="1" />
<rect x="908" y="601.56" width="53.3" height="4.6" fill="#3a3a3a" stroke="none" stroke-width="1" />
<rect x="909" y="602.26" width="36" height="3.2" fill="#7c7c7c" stroke="none" stroke-width="1" />
<rect x="910" y="602.96" width="15.5" height="1.8" fill="#5a5a5a" stroke="none" stroke-width="1" />
<rect x="927.5" y="602.96" width="16.5" height="1.8" fill="#5a5a5a" stroke="none" stroke-width="1" />
<rect x="946" y="602.46" width="2.2" height="3" fill="#686868" stroke="none" stroke-width="1" />
<rect x="949" y="602.16" width="8.2" height="3.4" fill="#8b0000" stroke="none" stroke-width="1" />
<rect x="958.3" y="601.86" width="2.4" height="4" fill="#6a6a6a" stroke="none" stroke-width="1" />
<rect x="908" y="607.24" width="53.3" height="8.2" fill="#858585" stroke="none" stroke-width="1" />
<rect x="909.4" y="608.84" width="1.9" height="1.8" fill="#111" stroke="none" stroke-width="1" />
<rect x="912.5" y="608.84" width="1.9" height="1.8" fill="#111" stroke="none" stroke-width="1" />
<rect x="915.6" y="608.84" width="1.9" height="1.8" fill="#111" stroke="none" stroke-width="1" />
<rect x="918.7" y="608.84" width="1.9" height="1.8" fill="#111" stroke="none" stroke-width="1" />
<rect x="922.3" y="608.84" width="0.9" height="1.8" fill="#111" stroke="none" stroke-width="1" />
<rect x="924.9" y="608.84" width="1.9" height="1.8" fill="#111" stroke="none" stroke-width="1" />
<rect x="928" y="608.84" width="1.9" height="1.8" fill="#111" stroke="none" stroke-width="1" />
<rect x="931.1" y="608.84" width="1.9" height="1.8" fill="#111" stroke="none" stroke-width="1" />
<rect x="934.2" y="608.84" width="1.9" height="1.8" fill="#111" stroke="none" stroke-width="1" />
<rect x="937.8" y="608.84" width="0.9" height="1.8" fill="#111" stroke="none" stroke-width="1" />
<rect x="940.4" y="608.84" width="1.9" height="1.8" fill="#111" stroke="none" stroke-width="1" />
<rect x="943.5" y="608.84" width="1.9" height="1.8" fill="#111" stroke="none" stroke-width="1" />
<rect x="946.6" y="608.84" width="1.9" height="1.8" fill="#111" stroke="none" stroke-width="1" />
<rect x="949.7" y="608.84" width="1.9" height="1.8" fill="#111" stroke="none" stroke-width="1" />
<rect x="953.3" y="608.84" width="0.9" height="1.8" fill="#111" stroke="none" stroke-width="1" />
<rect x="909.4" y="612.24" width="1.9" height="1.8" fill="#111" stroke="none" stroke-width="1" />
<rect x="912.5" y="612.24" width="1.9" height="1.8" fill="#111" stroke="none" stroke-width="1" />
<rect x="915.6" y="612.24" width="1.9" height="1.8" fill="#111" stroke="none" stroke-width="1" />
<rect x="918.7" y="612.24" width="1.9" height="1.8" fill="#111" stroke="none" stroke-width="1" />
<rect x="922.3" y="612.24" width="0.9" height="1.8" fill="#111" stroke="none" stroke-width="1" />
<rect x="924.9" y="612.24" width="1.9" height="1.8" fill="#111" stroke="none" stroke-width="1" />
<rect x="928" y="612.24" width="1.9" height="1.8" fill="#111" stroke="none" stroke-width="1" />
<rect x="931.1" y="612.24" width="1.9" height="1.8" fill="#111" stroke="none" stroke-width="1" />
<rect x="934.2" y="612.24" width="1.9" height="1.8" fill="#111" stroke="none" stroke-width="1" />
<rect x="937.8" y="612.24" width="0.9" height="1.8" fill="#111" stroke="none" stroke-width="1" />
<rect x="940.4" y="612.24" width="1.9" height="1.8" fill="#111" stroke="none" stroke-width="1" />
<rect x="943.5" y="612.24" width="1.9" height="1.8" fill="#111" stroke="none" stroke-width="1" />
<rect x="946.6" y="612.24" width="1.9" height="1.8" fill="#111" stroke="none" stroke-width="1" />
<rect x="949.7" y="612.24" width="1.9" height="1.8" fill="#111" stroke="none" stroke-width="1" />
<rect x="953.3" y="612.24" width="0.9" height="1.8" fill="#111" stroke="none" stroke-width="1" />
<rect x="957.6" y="609.84" width="1.7" height="4.6" fill="#fff" stroke="none" stroke-width="1" />
<rect x="908" y="615.74" width="53.3" height="4.6" fill="#3a3a3a" stroke="none" stroke-width="1" />
<rect x="909" y="616.44" width="36" height="3.2" fill="#7c7c7c" stroke="none" stroke-width="1" />
<rect x="910" y="617.14" width="15.5" height="1.8" fill="#5a5a5a" stroke="none" stroke-width="1" />
<rect x="927.5" y="617.14" width="16.5" height="1.8" fill="#5a5a5a" stroke="none" stroke-width="1" />
<rect x="946" y="616.64" width="2.2" height="3" fill="#686868" stroke="none" stroke-width="1" />
<rect x="949" y="616.34" width="8.2" height="3.4" fill="#8b0000" stroke="none" stroke-width="1" />
<rect x="958.3" y="616.04" width="2.4" height="4" fill="#6a6a6a" stroke="none" stroke-width="1" />
<rect x="908" y="621.42" width="53.3" height="8.2" fill="#858585" stroke="none" stroke-width="1" />
<rect x="909.4" y="623.02" width="1.9" height="1.8" fill="#111" stroke="none" stroke-width="1" />
<rect x="912.5" y="623.02" width="1.9" height="1.8" fill="#111" stroke="none" stroke-width="1" />
<rect x="915.6" y="623.02" width="1.9" height="1.8" fill="#111" stroke="none" stroke-width="1" />
<rect x="918.7" y="623.02" width="1.9" height="1.8" fill="#111" stroke="none" stroke-width="1" />
<rect x="922.3" y="623.02" width="0.9" height="1.8" fill="#111" stroke="none" stroke-width="1" />
<rect x="924.9" y="623.02" width="1.9" height="1.8" fill="#111" stroke="none" stroke-width="1" />
<rect x="928" y="623.02" width="1.9" height="1.8" fill="#111" stroke="none" stroke-width="1" />
<rect x="931.1" y="623.02" width="1.9" height="1.8" fill="#111" stroke="none" stroke-width="1" />
<rect x="934.2" y="623.02" width="1.9" height="1.8" fill="#111" stroke="none" stroke-width="1" />
<rect x="937.8" y="623.02" width="0.9" height="1.8" fill="#111" stroke="none" stroke-width="1" />
<rect x="940.4" y="623.02" width="1.9" height="1.8" fill="#111" stroke="none" stroke-width="1" />
<rect x="943.5" y="623.02" width="1.9" height="1.8" fill="#111" stroke="none" stroke-width="1" />
<rect x="946.6" y="623.02" width="1.9" height="1.8" fill="#111" stroke="none" stroke-width="1" />
<rect x="949.7" y="623.02" width="1.9" height="1.8" fill="#111" stroke="none" stroke-width="1" />
<rect x="953.3" y="623.02" width="0.9" height="1.8" fill="#111" stroke="none" stroke-width="1" />
<rect x="909.4" y="626.42" width="1.9" height="1.8" fill="#111" stroke="none" stroke-width="1" />
<rect x="912.5" y="626.42" width="1.9" height="1.8" fill="#111" stroke="none" stroke-width="1" />
<rect x="915.6" y="626.42" width="1.9" height="1.8" fill="#111" stroke="none" stroke-width="1" />
<rect x="918.7" y="626.42" width="1.9" height="1.8" fill="#111" stroke="none" stroke-width="1" />
<rect x="922.3" y="626.42" width="0.9" height="1.8" fill="#111" stroke="none" stroke-width="1" />
<rect x="924.9" y="626.42" width="1.9" height="1.8" fill="#111" stroke="none" stroke-width="1" />
<rect x="928" y="626.42" width="1.9" height="1.8" fill="#111" stroke="none" stroke-width="1" />
<rect x="931.1" y="626.42" width="1.9" height="1.8" fill="#111" stroke="none" stroke-width="1" />
<rect x="934.2" y="626.42" width="1.9" height="1.8" fill="#111" stroke="none" stroke-width="1" />
<rect x="937.8" y="626.42" width="0.9" height="1.8" fill="#111" stroke="none" stroke-width="1" />
<rect x="940.4" y="626.42" width="1.9" height="1.8" fill="#111" stroke="none" stroke-width="1" />
<rect x="943.5" y="626.42" width="1.9" height="1.8" fill="#111" stroke="none" stroke-width="1" />
<rect x="946.6" y="626.42" width="1.9" height="1.8" fill="#111" stroke="none" stroke-width="1" />
<rect x="949.7" y="626.42" width="1.9" height="1.8" fill="#111" stroke="none" stroke-width="1" />
<rect x="953.3" y="626.42" width="0.9" height="1.8" fill="#111" stroke="none" stroke-width="1" />
<rect x="957.6" y="624.02" width="1.7" height="4.6" fill="#fff" stroke="none" stroke-width="1" />
<rect x="908" y="629.92" width="53.3" height="4.6" fill="#3a3a3a" stroke="none" stroke-width="1" />
<rect x="909" y="630.62" width="36" height="3.2" fill="#7c7c7c" stroke="none" stroke-width="1" />
<rect x="910" y="631.32" width="15.5" height="1.8" fill="#5a5a5a" stroke="none" stroke-width="1" />
<rect x="927.5" y="631.32" width="16.5" height="1.8" fill="#5a5a5a" stroke="none" stroke-width="1" />
<rect x="946" y="630.82" width="2.2" height="3" fill="#686868" stroke="none" stroke-width="1" />
<rect x="949" y="630.52" width="8.2" height="3.4" fill="#8b0000" stroke="none" stroke-width="1" />
<rect x="958.3" y="630.22" width="2.4" height="4" fill="#6a6a6a" stroke="none" stroke-width="1" />
<rect x="908" y="635.6" width="53.3" height="8.2" fill="#858585" stroke="none" stroke-width="1" />
<rect x="909.4" y="637.2" width="1.9" height="1.8" fill="#111" stroke="none" stroke-width="1" />
<rect x="912.5" y="637.2" width="1.9" height="1.8" fill="#111" stroke="none" stroke-width="1" />
<rect x="915.6" y="637.2" width="1.9" height="1.8" fill="#111" stroke="none" stroke-width="1" />
<rect x="918.7" y="637.2" width="1.9" height="1.8" fill="#111" stroke="none" stroke-width="1" />
<rect x="922.3" y="637.2" width="0.9" height="1.8" fill="#111" stroke="none" stroke-width="1" />
<rect x="924.9" y="637.2" width="1.9" height="1.8" fill="#111" stroke="none" stroke-width="1" />
<rect x="928" y="637.2" width="1.9" height="1.8" fill="#111" stroke="none" stroke-width="1" />
<rect x="931.1" y="637.2" width="1.9" height="1.8" fill="#111" stroke="none" stroke-width="1" />
<rect x="934.2" y="637.2" width="1.9" height="1.8" fill="#111" stroke="none" stroke-width="1" />
<rect x="937.8" y="637.2" width="0.9" height="1.8" fill="#111" stroke="none" stroke-width="1" />
<rect x="940.4" y="637.2" width="1.9" height="1.8" fill="#111" stroke="none" stroke-width="1" />
<rect x="943.5" y="637.2" width="1.9" height="1.8" fill="#111" stroke="none" stroke-width="1" />
<rect x="946.6" y="637.2" width="1.9" height="1.8" fill="#111" stroke="none" stroke-width="1" />
<rect x="949.7" y="637.2" width="1.9" height="1.8" fill="#111" stroke="none" stroke-width="1" />
<rect x="953.3" y="637.2" width="0.9" height="1.8" fill="#111" stroke="none" stroke-width="1" />
<rect x="909.4" y="640.6" width="1.9" height="1.8" fill="#111" stroke="none" stroke-width="1" />
<rect x="912.5" y="640.6" width="1.9" height="1.8" fill="#111" stroke="none" stroke-width="1" />
<rect x="915.6" y="640.6" width="1.9" height="1.8" fill="#111" stroke="none" stroke-width="1" />
<rect x="918.7" y="640.6" width="1.9" height="1.8" fill="#111" stroke="none" stroke-width="1" />
<rect x="922.3" y="640.6" width="0.9" height="1.8" fill="#111" stroke="none" stroke-width="1" />
<rect x="924.9" y="640.6" width="1.9" height="1.8" fill="#111" stroke="none" stroke-width="1" />
<rect x="928" y="640.6" width="1.9" height="1.8" fill="#111" stroke="none" stroke-width="1" />
<rect x="931.1" y="640.6" width="1.9" height="1.8" fill="#111" stroke="none" stroke-width="1" />
<rect x="934.2" y="640.6" width="1.9" height="1.8" fill="#111" stroke="none" stroke-width="1" />
<rect x="937.8" y="640.6" width="0.9" height="1.8" fill="#111" stroke="none" stroke-width="1" />
<rect x="940.4" y="640.6" width="1.9" height="1.8" fill="#111" stroke="none" stroke-width="1" />
<rect x="943.5" y="640.6" width="1.9" height="1.8" fill="#111" stroke="none" stroke-width="1" />
<rect x="946.6" y="640.6" width="1.9" height="1.8" fill="#111" stroke="none" stroke-width="1" />
<rect x="949.7" y="640.6" width="1.9" height="1.8" fill="#111" stroke="none" stroke-width="1" />
<rect x="953.3" y="640.6" width="0.9" height="1.8" fill="#111" stroke="none" stroke-width="1" />
<rect x="957.6" y="638.2" width="1.7" height="4.6" fill="#fff" stroke="none" stroke-width="1" />
<rect x="908" y="644.1" width="53.3" height="4.6" fill="#3a3a3a" stroke="none" stroke-width="1" />
<rect x="909" y="644.8" width="36" height="3.2" fill="#7c7c7c" stroke="none" stroke-width="1" />
<rect x="910" y="645.5" width="15.5" height="1.8" fill="#5a5a5a" stroke="none" stroke-width="1" />
<rect x="927.5" y="645.5" width="16.5" height="1.8" fill="#5a5a5a" stroke="none" stroke-width="1" />
<rect x="946" y="645" width="2.2" height="3" fill="#686868" stroke="none" stroke-width="1" />
<rect x="949" y="644.7" width="8.2" height="3.4" fill="#8b0000" stroke="none" stroke-width="1" />
<rect x="958.3" y="644.4" width="2.4" height="4" fill="#6a6a6a" stroke="none" stroke-width="1" />
<rect x="962.8" y="564.7" width="53.3" height="8.2" fill="#858585" stroke="none" stroke-width="1" />
<rect x="964.2" y="566.3" width="1.9" height="1.8" fill="#111" stroke="none" stroke-width="1" />
<rect x="967.3" y="566.3" width="1.9" height="1.8" fill="#111" stroke="none" stroke-width="1" />
<rect x="970.4" y="566.3" width="1.9" height="1.8" fill="#111" stroke="none" stroke-width="1" />
<rect x="973.5" y="566.3" width="1.9" height="1.8" fill="#111" stroke="none" stroke-width="1" />
<rect x="977.1" y="566.3" width="0.9" height="1.8" fill="#111" stroke="none" stroke-width="1" />
<rect x="979.7" y="566.3" width="1.9" height="1.8" fill="#111" stroke="none" stroke-width="1" />
<rect x="982.8" y="566.3" width="1.9" height="1.8" fill="#111" stroke="none" stroke-width="1" />
<rect x="985.9" y="566.3" width="1.9" height="1.8" fill="#111" stroke="none" stroke-width="1" />
<rect x="989" y="566.3" width="1.9" height="1.8" fill="#111" stroke="none" stroke-width="1" />
<rect x="992.6" y="566.3" width="0.9" height="1.8" fill="#111" stroke="none" stroke-width="1" />
<rect x="995.2" y="566.3" width="1.9" height="1.8" fill="#111" stroke="none" stroke-width="1" />
<rect x="998.3" y="566.3" width="1.9" height="1.8" fill="#111" stroke="none" stroke-width="1" />
<rect x="1001.4" y="566.3" width="1.9" height="1.8" fill="#111" stroke="none" stroke-width="1" />
<rect x="1004.5" y="566.3" width="1.9" height="1.8" fill="#111" stroke="none" stroke-width="1" />
<rect x="1008.1" y="566.3" width="0.9" height="1.8" fill="#111" stroke="none" stroke-width="1" />
<rect x="964.2" y="569.7" width="1.9" height="1.8" fill="#111" stroke="none" stroke-width="1" />
<rect x="967.3" y="569.7" width="1.9" height="1.8" fill="#111" stroke="none" stroke-width="1" />
<rect x="970.4" y="569.7" width="1.9" height="1.8" fill="#111" stroke="none" stroke-width="1" />
<rect x="973.5" y="569.7" width="1.9" height="1.8" fill="#111" stroke="none" stroke-width="1" />
<rect x="977.1" y="569.7" width="0.9" height="1.8" fill="#111" stroke="none" stroke-width="1" />
<rect x="979.7" y="569.7" width="1.9" height="1.8" fill="#111" stroke="none" stroke-width="1" />
<rect x="982.8" y="569.7" width="1.9" height="1.8" fill="#111" stroke="none" stroke-width="1" />
<rect x="985.9" y="569.7" width="1.9" height="1.8" fill="#111" stroke="none" stroke-width="1" />
<rect x="989" y="569.7" width="1.9" height="1.8" fill="#111" stroke="none" stroke-width="1" />
<rect x="992.6" y="569.7" width="0.9" height="1.8" fill="#111" stroke="none" stroke-width="1" />
<rect x="995.2" y="569.7" width="1.9" height="1.8" fill="#111" stroke="none" stroke-width="1" />
<rect x="998.3" y="569.7" width="1.9" height="1.8" fill="#111" stroke="none" stroke-width="1" />
<rect x="1001.4" y="569.7" width="1.9" height="1.8" fill="#111" stroke="none" stroke-width="1" />
<rect x="1004.5" y="569.7" width="1.9" height="1.8" fill="#111" stroke="none" stroke-width="1" />
<rect x="1008.1" y="569.7" width="0.9" height="1.8" fill="#111" stroke="none" stroke-width="1" />
<rect x="1012.4" y="567.3" width="1.7" height="4.6" fill="#fff" stroke="none" stroke-width="1" />
<rect x="962.8" y="573.2" width="53.3" height="4.6" fill="#3a3a3a" stroke="none" stroke-width="1" />
<rect x="963.8" y="573.9" width="36" height="3.2" fill="#7c7c7c" stroke="none" stroke-width="1" />
<rect x="964.8" y="574.6" width="15.5" height="1.8" fill="#5a5a5a" stroke="none" stroke-width="1" />
<rect x="982.3" y="574.6" width="16.5" height="1.8" fill="#5a5a5a" stroke="none" stroke-width="1" />
<rect x="1000.8" y="574.1" width="2.2" height="3" fill="#686868" stroke="none" stroke-width="1" />
<rect x="1003.8" y="573.8" width="8.2" height="3.4" fill="#8b0000" stroke="none" stroke-width="1" />
<rect x="1013.1" y="573.5" width="2.4" height="4" fill="#6a6a6a" stroke="none" stroke-width="1" />
<rect x="962.8" y="578.88" width="53.3" height="8.2" fill="#858585" stroke="none" stroke-width="1" />
<rect x="964.2" y="580.48" width="1.9" height="1.8" fill="#111" stroke="none" stroke-width="1" />
<rect x="967.3" y="580.48" width="1.9" height="1.8" fill="#111" stroke="none" stroke-width="1" />
<rect x="970.4" y="580.48" width="1.9" height="1.8" fill="#111" stroke="none" stroke-width="1" />
<rect x="973.5" y="580.48" width="1.9" height="1.8" fill="#111" stroke="none" stroke-width="1" />
<rect x="977.1" y="580.48" width="0.9" height="1.8" fill="#111" stroke="none" stroke-width="1" />
<rect x="979.7" y="580.48" width="1.9" height="1.8" fill="#111" stroke="none" stroke-width="1" />
<rect x="982.8" y="580.48" width="1.9" height="1.8" fill="#111" stroke="none" stroke-width="1" />
<rect x="985.9" y="580.48" width="1.9" height="1.8" fill="#111" stroke="none" stroke-width="1" />
<rect x="989" y="580.48" width="1.9" height="1.8" fill="#111" stroke="none" stroke-width="1" />
<rect x="992.6" y="580.48" width="0.9" height="1.8" fill="#111" stroke="none" stroke-width="1" />
<rect x="995.2" y="580.48" width="1.9" height="1.8" fill="#111" stroke="none" stroke-width="1" />
<rect x="998.3" y="580.48" width="1.9" height="1.8" fill="#111" stroke="none" stroke-width="1" />
<rect x="1001.4" y="580.48" width="1.9" height="1.8" fill="#111" stroke="none" stroke-width="1" />
<rect x="1004.5" y="580.48" width="1.9" height="1.8" fill="#111" stroke="none" stroke-width="1" />
<rect x="1008.1" y="580.48" width="0.9" height="1.8" fill="#111" stroke="none" stroke-width="1" />
<rect x="964.2" y="583.88" width="1.9" height="1.8" fill="#111" stroke="none" stroke-width="1" />
<rect x="967.3" y="583.88" width="1.9" height="1.8" fill="#111" stroke="none" stroke-width="1" />
<rect x="970.4" y="583.88" width="1.9" height="1.8" fill="#111" stroke="none" stroke-width="1" />
<rect x="973.5" y="583.88" width="1.9" height="1.8" fill="#111" stroke="none" stroke-width="1" />
<rect x="977.1" y="583.88" width="0.9" height="1.8" fill="#111" stroke="none" stroke-width="1" />
<rect x="979.7" y="583.88" width="1.9" height="1.8" fill="#111" stroke="none" stroke-width="1" />
<rect x="982.8" y="583.88" width="1.9" height="1.8" fill="#111" stroke="none" stroke-width="1" />
<rect x="985.9" y="583.88" width="1.9" height="1.8" fill="#111" stroke="none" stroke-width="1" />
<rect x="989" y="583.88" width="1.9" height="1.8" fill="#111" stroke="none" stroke-width="1" />
<rect x="992.6" y="583.88" width="0.9" height="1.8" fill="#111" stroke="none" stroke-width="1" />
<rect x="995.2" y="583.88" width="1.9" height="1.8" fill="#111" stroke="none" stroke-width="1" />
<rect x="998.3" y="583.88" width="1.9" height="1.8" fill="#111" stroke="none" stroke-width="1" />
<rect x="1001.4" y="583.88" width="1.9" height="1.8" fill="#111" stroke="none" stroke-width="1" />
<rect x="1004.5" y="583.88" width="1.9" height="1.8" fill="#111" stroke="none" stroke-width="1" />
<rect x="1008.1" y="583.88" width="0.9" height="1.8" fill="#111" stroke="none" stroke-width="1" />
<rect x="1012.4" y="581.48" width="1.7" height="4.6" fill="#fff" stroke="none" stroke-width="1" />
<rect x="962.8" y="587.38" width="53.3" height="4.6" fill="#3a3a3a" stroke="none" stroke-width="1" />
<rect x="963.8" y="588.08" width="36" height="3.2" fill="#7c7c7c" stroke="none" stroke-width="1" />
<rect x="964.8" y="588.78" width="15.5" height="1.8" fill="#5a5a5a" stroke="none" stroke-width="1" />
<rect x="982.3" y="588.78" width="16.5" height="1.8" fill="#5a5a5a" stroke="none" stroke-width="1" />
<rect x="1000.8" y="588.28" width="2.2" height="3" fill="#686868" stroke="none" stroke-width="1" />
<path d="M1003.8 591.28 L1005.8 589.08 L1012 589.08 L1012 591.28 Z" fill="#8b0000"/>
<rect x="1013.1" y="587.68" width="2.4" height="4" fill="#6a6a6a" stroke="none" stroke-width="1" />
<rect x="962.8" y="593.06" width="53.3" height="8.2" fill="#858585" stroke="none" stroke-width="1" />
<rect x="964.2" y="594.66" width="1.9" height="1.8" fill="#111" stroke="none" stroke-width="1" />
<rect x="967.3" y="594.66" width="1.9" height="1.8" fill="#111" stroke="none" stroke-width="1" />
<rect x="970.4" y="594.66" width="1.9" height="1.8" fill="#111" stroke="none" stroke-width="1" />
<rect x="973.5" y="594.66" width="1.9" height="1.8" fill="#111" stroke="none" stroke-width="1" />
<rect x="977.1" y="594.66" width="0.9" height="1.8" fill="#111" stroke="none" stroke-width="1" />
<rect x="979.7" y="594.66" width="1.9" height="1.8" fill="#111" stroke="none" stroke-width="1" />
<rect x="982.8" y="594.66" width="1.9" height="1.8" fill="#111" stroke="none" stroke-width="1" />
<rect x="985.9" y="594.66" width="1.9" height="1.8" fill="#111" stroke="none" stroke-width="1" />
<rect x="989" y="594.66" width="1.9" height="1.8" fill="#111" stroke="none" stroke-width="1" />
<rect x="992.6" y="594.66" width="0.9" height="1.8" fill="#111" stroke="none" stroke-width="1" />
<rect x="995.2" y="594.66" width="1.9" height="1.8" fill="#111" stroke="none" stroke-width="1" />
<rect x="998.3" y="594.66" width="1.9" height="1.8" fill="#111" stroke="none" stroke-width="1" />
<rect x="1001.4" y="594.66" width="1.9" height="1.8" fill="#111" stroke="none" stroke-width="1" />
<rect x="1004.5" y="594.66" width="1.9" height="1.8" fill="#111" stroke="none" stroke-width="1" />
<rect x="1008.1" y="594.66" width="0.9" height="1.8" fill="#111" stroke="none" stroke-width="1" />
<rect x="964.2" y="598.06" width="1.9" height="1.8" fill="#111" stroke="none" stroke-width="1" />
<rect x="967.3" y="598.06" width="1.9" height="1.8" fill="#111" stroke="none" stroke-width="1" />
<rect x="970.4" y="598.06" width="1.9" height="1.8" fill="#111" stroke="none" stroke-width="1" />
<rect x="973.5" y="598.06" width="1.9" height="1.8" fill="#111" stroke="none" stroke-width="1" />
<rect x="977.1" y="598.06" width="0.9" height="1.8" fill="#111" stroke="none" stroke-width="1" />
<rect x="979.7" y="598.06" width="1.9" height="1.8" fill="#111" stroke="none" stroke-width="1" />
<rect x="982.8" y="598.06" width="1.9" height="1.8" fill="#111" stroke="none" stroke-width="1" />
<rect x="985.9" y="598.06" width="1.9" height="1.8" fill="#111" stroke="none" stroke-width="1" />
<rect x="989" y="598.06" width="1.9" height="1.8" fill="#111" stroke="none" stroke-width="1" />
<rect x="992.6" y="598.06" width="0.9" height="1.8" fill="#111" stroke="none" stroke-width="1" />
<rect x="995.2" y="598.06" width="1.9" height="1.8" fill="#111" stroke="none" stroke-width="1" />
<rect x="998.3" y="598.06" width="1.9" height="1.8" fill="#111" stroke="none" stroke-width="1" />
<rect x="1001.4" y="598.06" width="1.9" height="1.8" fill="#111" stroke="none" stroke-width="1" />
<rect x="1004.5" y="598.06" width="1.9" height="1.8" fill="#111" stroke="none" stroke-width="1" />
<rect x="1008.1" y="598.06" width="0.9" height="1.8" fill="#111" stroke="none" stroke-width="1" />
<rect x="1012.4" y="595.66" width="1.7" height="4.6" fill="#fff" stroke="none" stroke-width="1" />
<rect x="962.8" y="601.56" width="53.3" height="4.6" fill="#3a3a3a" stroke="none" stroke-width="1" />
<rect x="963.8" y="602.26" width="36" height="3.2" fill="#7c7c7c" stroke="none" stroke-width="1" />
<rect x="964.8" y="602.96" width="15.5" height="1.8" fill="#5a5a5a" stroke="none" stroke-width="1" />
<rect x="982.3" y="602.96" width="16.5" height="1.8" fill="#5a5a5a" stroke="none" stroke-width="1" />
<rect x="1000.8" y="602.46" width="2.2" height="3" fill="#686868" stroke="none" stroke-width="1" />
<rect x="1003.8" y="602.16" width="8.2" height="3.4" fill="#8b0000" stroke="none" stroke-width="1" />
<rect x="1013.1" y="601.86" width="2.4" height="4" fill="#6a6a6a" stroke="none" stroke-width="1" />
<rect x="962.8" y="607.24" width="53.3" height="8.2" fill="#858585" stroke="none" stroke-width="1" />
<rect x="964.2" y="608.84" width="1.9" height="1.8" fill="#111" stroke="none" stroke-width="1" />
<rect x="967.3" y="608.84" width="1.9" height="1.8" fill="#111" stroke="none" stroke-width="1" />
<rect x="970.4" y="608.84" width="1.9" height="1.8" fill="#111" stroke="none" stroke-width="1" />
<rect x="973.5" y="608.84" width="1.9" height="1.8" fill="#111" stroke="none" stroke-width="1" />
<rect x="977.1" y="608.84" width="0.9" height="1.8" fill="#111" stroke="none" stroke-width="1" />
<rect x="979.7" y="608.84" width="1.9" height="1.8" fill="#111" stroke="none" stroke-width="1" />
<rect x="982.8" y="608.84" width="1.9" height="1.8" fill="#111" stroke="none" stroke-width="1" />
<rect x="985.9" y="608.84" width="1.9" height="1.8" fill="#111" stroke="none" stroke-width="1" />
<rect x="989" y="608.84" width="1.9" height="1.8" fill="#111" stroke="none" stroke-width="1" />
<rect x="992.6" y="608.84" width="0.9" height="1.8" fill="#111" stroke="none" stroke-width="1" />
<rect x="995.2" y="608.84" width="1.9" height="1.8" fill="#111" stroke="none" stroke-width="1" />
<rect x="998.3" y="608.84" width="1.9" height="1.8" fill="#111" stroke="none" stroke-width="1" />
<rect x="1001.4" y="608.84" width="1.9" height="1.8" fill="#111" stroke="none" stroke-width="1" />
<rect x="1004.5" y="608.84" width="1.9" height="1.8" fill="#111" stroke="none" stroke-width="1" />
<rect x="1008.1" y="608.84" width="0.9" height="1.8" fill="#111" stroke="none" stroke-width="1" />
<rect x="964.2" y="612.24" width="1.9" height="1.8" fill="#111" stroke="none" stroke-width="1" />
<rect x="967.3" y="612.24" width="1.9" height="1.8" fill="#111" stroke="none" stroke-width="1" />
<rect x="970.4" y="612.24" width="1.9" height="1.8" fill="#111" stroke="none" stroke-width="1" />
<rect x="973.5" y="612.24" width="1.9" height="1.8" fill="#111" stroke="none" stroke-width="1" />
<rect x="977.1" y="612.24" width="0.9" height="1.8" fill="#111" stroke="none" stroke-width="1" />
<rect x="979.7" y="612.24" width="1.9" height="1.8" fill="#111" stroke="none" stroke-width="1" />
<rect x="982.8" y="612.24" width="1.9" height="1.8" fill="#111" stroke="none" stroke-width="1" />
<rect x="985.9" y="612.24" width="1.9" height="1.8" fill="#111" stroke="none" stroke-width="1" />
<rect x="989" y="612.24" width="1.9" height="1.8" fill="#111" stroke="none" stroke-width="1" />
<rect x="992.6" y="612.24" width="0.9" height="1.8" fill="#111" stroke="none" stroke-width="1" />
<rect x="995.2" y="612.24" width="1.9" height="1.8" fill="#111" stroke="none" stroke-width="1" />
<rect x="998.3" y="612.24" width="1.9" height="1.8" fill="#111" stroke="none" stroke-width="1" />
<rect x="1001.4" y="612.24" width="1.9" height="1.8" fill="#111" stroke="none" stroke-width="1" />
<rect x="1004.5" y="612.24" width="1.9" height="1.8" fill="#111" stroke="none" stroke-width="1" />
<rect x="1008.1" y="612.24" width="0.9" height="1.8" fill="#111" stroke="none" stroke-width="1" />
<rect x="1012.4" y="609.84" width="1.7" height="4.6" fill="#fff" stroke="none" stroke-width="1" />
<rect x="962.8" y="615.74" width="53.3" height="4.6" fill="#3a3a3a" stroke="none" stroke-width="1" />
<rect x="963.8" y="616.44" width="36" height="3.2" fill="#7c7c7c" stroke="none" stroke-width="1" />
<rect x="964.8" y="617.14" width="15.5" height="1.8" fill="#5a5a5a" stroke="none" stroke-width="1" />
<rect x="982.3" y="617.14" width="16.5" height="1.8" fill="#5a5a5a" stroke="none" stroke-width="1" />
<rect x="1000.8" y="616.64" width="2.2" height="3" fill="#686868" stroke="none" stroke-width="1" />
<rect x="1003.8" y="616.34" width="8.2" height="3.4" fill="#8b0000" stroke="none" stroke-width="1" />
<rect x="1013.1" y="616.04" width="2.4" height="4" fill="#6a6a6a" stroke="none" stroke-width="1" />
<rect x="962.8" y="621.42" width="53.3" height="8.2" fill="#858585" stroke="none" stroke-width="1" />
<rect x="964.2" y="623.02" width="1.9" height="1.8" fill="#111" stroke="none" stroke-width="1" />
<rect x="967.3" y="623.02" width="1.9" height="1.8" fill="#111" stroke="none" stroke-width="1" />
<rect x="970.4" y="623.02" width="1.9" height="1.8" fill="#111" stroke="none" stroke-width="1" />
<rect x="973.5" y="623.02" width="1.9" height="1.8" fill="#111" stroke="none" stroke-width="1" />
<rect x="977.1" y="623.02" width="0.9" height="1.8" fill="#111" stroke="none" stroke-width="1" />
<rect x="979.7" y="623.02" width="1.9" height="1.8" fill="#111" stroke="none" stroke-width="1" />
<rect x="982.8" y="623.02" width="1.9" height="1.8" fill="#111" stroke="none" stroke-width="1" />
<rect x="985.9" y="623.02" width="1.9" height="1.8" fill="#111" stroke="none" stroke-width="1" />
<rect x="989" y="623.02" width="1.9" height="1.8" fill="#111" stroke="none" stroke-width="1" />
<rect x="992.6" y="623.02" width="0.9" height="1.8" fill="#111" stroke="none" stroke-width="1" />
<rect x="995.2" y="623.02" width="1.9" height="1.8" fill="#111" stroke="none" stroke-width="1" />
<rect x="998.3" y="623.02" width="1.9" height="1.8" fill="#111" stroke="none" stroke-width="1" />
<rect x="1001.4" y="623.02" width="1.9" height="1.8" fill="#111" stroke="none" stroke-width="1" />
<rect x="1004.5" y="623.02" width="1.9" height="1.8" fill="#111" stroke="none" stroke-width="1" />
<rect x="1008.1" y="623.02" width="0.9" height="1.8" fill="#111" stroke="none" stroke-width="1" />
<rect x="964.2" y="626.42" width="1.9" height="1.8" fill="#111" stroke="none" stroke-width="1" />
<rect x="967.3" y="626.42" width="1.9" height="1.8" fill="#111" stroke="none" stroke-width="1" />
<rect x="970.4" y="626.42" width="1.9" height="1.8" fill="#111" stroke="none" stroke-width="1" />
<rect x="973.5" y="626.42" width="1.9" height="1.8" fill="#111" stroke="none" stroke-width="1" />
<rect x="977.1" y="626.42" width="0.9" height="1.8" fill="#111" stroke="none" stroke-width="1" />
<rect x="979.7" y="626.42" width="1.9" height="1.8" fill="#111" stroke="none" stroke-width="1" />
<rect x="982.8" y="626.42" width="1.9" height="1.8" fill="#111" stroke="none" stroke-width="1" />
<rect x="985.9" y="626.42" width="1.9" height="1.8" fill="#111" stroke="none" stroke-width="1" />
<rect x="989" y="626.42" width="1.9" height="1.8" fill="#111" stroke="none" stroke-width="1" />
<rect x="992.6" y="626.42" width="0.9" height="1.8" fill="#111" stroke="none" stroke-width="1" />
<rect x="995.2" y="626.42" width="1.9" height="1.8" fill="#111" stroke="none" stroke-width="1" />
<rect x="998.3" y="626.42" width="1.9" height="1.8" fill="#111" stroke="none" stroke-width="1" />
<rect x="1001.4" y="626.42" width="1.9" height="1.8" fill="#111" stroke="none" stroke-width="1" />
<rect x="1004.5" y="626.42" width="1.9" height="1.8" fill="#111" stroke="none" stroke-width="1" />
<rect x="1008.1" y="626.42" width="0.9" height="1.8" fill="#111" stroke="none" stroke-width="1" />
<rect x="1012.4" y="624.02" width="1.7" height="4.6" fill="#fff" stroke="none" stroke-width="1" />
<rect x="962.8" y="629.92" width="53.3" height="4.6" fill="#3a3a3a" stroke="none" stroke-width="1" />
<rect x="963.8" y="630.62" width="36" height="3.2" fill="#7c7c7c" stroke="none" stroke-width="1" />
<rect x="964.8" y="631.32" width="15.5" height="1.8" fill="#5a5a5a" stroke="none" stroke-width="1" />
<rect x="982.3" y="631.32" width="16.5" height="1.8" fill="#5a5a5a" stroke="none" stroke-width="1" />
<rect x="1000.8" y="630.82" width="2.2" height="3" fill="#686868" stroke="none" stroke-width="1" />
<rect x="1003.8" y="630.52" width="8.2" height="3.4" fill="#8b0000" stroke="none" stroke-width="1" />
<rect x="1013.1" y="630.22" width="2.4" height="4" fill="#6a6a6a" stroke="none" stroke-width="1" />
<rect x="962.8" y="635.6" width="53.3" height="8.2" fill="#858585" stroke="none" stroke-width="1" />
<rect x="964.2" y="637.2" width="1.9" height="1.8" fill="#111" stroke="none" stroke-width="1" />
<rect x="967.3" y="637.2" width="1.9" height="1.8" fill="#111" stroke="none" stroke-width="1" />
<rect x="970.4" y="637.2" width="1.9" height="1.8" fill="#111" stroke="none" stroke-width="1" />
<rect x="973.5" y="637.2" width="1.9" height="1.8" fill="#111" stroke="none" stroke-width="1" />
<rect x="977.1" y="637.2" width="0.9" height="1.8" fill="#111" stroke="none" stroke-width="1" />
<rect x="979.7" y="637.2" width="1.9" height="1.8" fill="#111" stroke="none" stroke-width="1" />
<rect x="982.8" y="637.2" width="1.9" height="1.8" fill="#111" stroke="none" stroke-width="1" />
<rect x="985.9" y="637.2" width="1.9" height="1.8" fill="#111" stroke="none" stroke-width="1" />
<rect x="989" y="637.2" width="1.9" height="1.8" fill="#111" stroke="none" stroke-width="1" />
<rect x="992.6" y="637.2" width="0.9" height="1.8" fill="#111" stroke="none" stroke-width="1" />
<rect x="995.2" y="637.2" width="1.9" height="1.8" fill="#111" stroke="none" stroke-width="1" />
<rect x="998.3" y="637.2" width="1.9" height="1.8" fill="#111" stroke="none" stroke-width="1" />
<rect x="1001.4" y="637.2" width="1.9" height="1.8" fill="#111" stroke="none" stroke-width="1" />
<rect x="1004.5" y="637.2" width="1.9" height="1.8" fill="#111" stroke="none" stroke-width="1" />
<rect x="1008.1" y="637.2" width="0.9" height="1.8" fill="#111" stroke="none" stroke-width="1" />
<rect x="964.2" y="640.6" width="1.9" height="1.8" fill="#111" stroke="none" stroke-width="1" />
<rect x="967.3" y="640.6" width="1.9" height="1.8" fill="#111" stroke="none" stroke-width="1" />
<rect x="970.4" y="640.6" width="1.9" height="1.8" fill="#111" stroke="none" stroke-width="1" />
<rect x="973.5" y="640.6" width="1.9" height="1.8" fill="#111" stroke="none" stroke-width="1" />
<rect x="977.1" y="640.6" width="0.9" height="1.8" fill="#111" stroke="none" stroke-width="1" />
<rect x="979.7" y="640.6" width="1.9" height="1.8" fill="#111" stroke="none" stroke-width="1" />
<rect x="982.8" y="640.6" width="1.9" height="1.8" fill="#111" stroke="none" stroke-width="1" />
<rect x="985.9" y="640.6" width="1.9" height="1.8" fill="#111" stroke="none" stroke-width="1" />
<rect x="989" y="640.6" width="1.9" height="1.8" fill="#111" stroke="none" stroke-width="1" />
<rect x="992.6" y="640.6" width="0.9" height="1.8" fill="#111" stroke="none" stroke-width="1" />
<rect x="995.2" y="640.6" width="1.9" height="1.8" fill="#111" stroke="none" stroke-width="1" />
<rect x="998.3" y="640.6" width="1.9" height="1.8" fill="#111" stroke="none" stroke-width="1" />
<rect x="1001.4" y="640.6" width="1.9" height="1.8" fill="#111" stroke="none" stroke-width="1" />
<rect x="1004.5" y="640.6" width="1.9" height="1.8" fill="#111" stroke="none" stroke-width="1" />
<rect x="1008.1" y="640.6" width="0.9" height="1.8" fill="#111" stroke="none" stroke-width="1" />
<rect x="1012.4" y="638.2" width="1.7" height="4.6" fill="#fff" stroke="none" stroke-width="1" />
<rect x="962.8" y="644.1" width="53.3" height="4.6" fill="#3a3a3a" stroke="none" stroke-width="1" />
<rect x="963.8" y="644.8" width="36" height="3.2" fill="#7c7c7c" stroke="none" stroke-width="1" />
<rect x="964.8" y="645.5" width="15.5" height="1.8" fill="#5a5a5a" stroke="none" stroke-width="1" />
<rect x="982.3" y="645.5" width="16.5" height="1.8" fill="#5a5a5a" stroke="none" stroke-width="1" />
<rect x="1000.8" y="645" width="2.2" height="3" fill="#686868" stroke="none" stroke-width="1" />
<rect x="1003.8" y="644.7" width="8.2" height="3.4" fill="#8b0000" stroke="none" stroke-width="1" />
<rect x="1013.1" y="644.4" width="2.4" height="4" fill="#6a6a6a" stroke="none" stroke-width="1" />
<rect x="1013.8" y="566.6" width="1.2" height="1.2" fill="#0c0" stroke="none" stroke-width="1" />
<rect x="1013.8" y="570" width="1.2" height="1.2" fill="#e00" stroke="none" stroke-width="1" />
<rect x="959" y="566.6" width="1.2" height="1.2" fill="#0c0" stroke="none" stroke-width="1" />
<rect x="1013.8" y="584" width="1.2" height="1.2" fill="#e00" stroke="none" stroke-width="1" />
<line x1="852.6" y1="562.4" x2="852.6" y2="650.5" stroke="#f0f0f0" stroke-width="0.8" />
<line x1="907.4" y1="562.4" x2="907.4" y2="650.5" stroke="#f0f0f0" stroke-width="0.8" />
<line x1="962.2" y1="562.4" x2="962.2" y2="650.5" stroke="#ddd" stroke-width="0.7" />
<g transform="translate(-55.1 -42.3)">
<rect x="459.4" y="661.3" width="20.3" height="46.4" fill="#fff" stroke="#000" stroke-width="1.3" />
<rect x="471.9" y="665.5" width="3.8" height="1.5" fill="#000" stroke="none" stroke-width="1" />
<rect x="471.9" y="667.9" width="3.8" height="1.5" fill="#000" stroke="none" stroke-width="1" />
<path d="M440.6 698.8 V703.3 M448.6 698.8 V703.3 M459.4 698.8 V703.3" stroke="#000" stroke-width="1.2" fill="none"/>
<rect x="440.6" y="698.8" width="18.8" height="4.5" fill="#fff" stroke="#000" stroke-width="1.2" />
<line x1="448.6" y1="698.8" x2="448.6" y2="703.3" stroke="#000" stroke-width="1.2" />
<rect x="422.2" y="668.3" width="46.6" height="30.5" fill="#fff" stroke="#000" stroke-width="1.3" />
<rect x="425.4" y="671.4" width="40.2" height="24.8" fill="#fff" stroke="#000" stroke-width="1.2" />
<path d="M426.1 703.3 H464.8 L470.6 713.4 H419.5 Z" fill="#fff" stroke="#000" stroke-width="1.3" stroke-linejoin="round"/>
<path d="M429.2 705.2 h1.8 l-0.5 1.2 h-1.8 Z" fill="#000"/>
<path d="M432.07 705.2 h1.8 l-0.5 1.2 h-1.8 Z" fill="#000"/>
<path d="M434.93 705.2 h1.8 l-0.5 1.2 h-1.8 Z" fill="#000"/>
<path d="M437.8 705.2 h1.8 l-0.5 1.2 h-1.8 Z" fill="#000"/>
<path d="M440.67 705.2 h1.8 l-0.5 1.2 h-1.8 Z" fill="#000"/>
<path d="M443.53 705.2 h1.8 l-0.5 1.2 h-1.8 Z" fill="#000"/>
<path d="M446.4 705.2 h1.8 l-0.5 1.2 h-1.8 Z" fill="#000"/>
<path d="M449.27 705.2 h1.8 l-0.5 1.2 h-1.8 Z" fill="#000"/>
<path d="M452.13 705.2 h1.8 l-0.5 1.2 h-1.8 Z" fill="#000"/>
<path d="M455 705.2 h1.8 l-0.5 1.2 h-1.8 Z" fill="#000"/>
<path d="M457.87 705.2 h1.8 l-0.5 1.2 h-1.8 Z" fill="#000"/>
<path d="M460.73 705.2 h1.8 l-0.5 1.2 h-1.8 Z" fill="#000"/>
<path d="M428.2 707.2 h1.8 l-0.5 1.2 h-1.8 Z" fill="#000"/>
<path d="M431.27 707.2 h1.8 l-0.5 1.2 h-1.8 Z" fill="#000"/>
<path d="M434.33 707.2 h1.8 l-0.5 1.2 h-1.8 Z" fill="#000"/>
<path d="M437.4 707.2 h1.8 l-0.5 1.2 h-1.8 Z" fill="#000"/>
<path d="M440.47 707.2 h1.8 l-0.5 1.2 h-1.8 Z" fill="#000"/>
<path d="M443.53 707.2 h1.8 l-0.5 1.2 h-1.8 Z" fill="#000"/>
<path d="M446.6 707.2 h1.8 l-0.5 1.2 h-1.8 Z" fill="#000"/>
<path d="M449.67 707.2 h1.8 l-0.5 1.2 h-1.8 Z" fill="#000"/>
<path d="M452.73 707.2 h1.8 l-0.5 1.2 h-1.8 Z" fill="#000"/>
<path d="M455.8 707.2 h1.8 l-0.5 1.2 h-1.8 Z" fill="#000"/>
<path d="M458.87 707.2 h1.8 l-0.5 1.2 h-1.8 Z" fill="#000"/>
<path d="M461.93 707.2 h1.8 l-0.5 1.2 h-1.8 Z" fill="#000"/>
<path d="M427 709.2 h1.8 l-0.5 1.2 h-1.8 Z" fill="#000"/>
<path d="M430.27 709.2 h1.8 l-0.5 1.2 h-1.8 Z" fill="#000"/>
<path d="M433.53 709.2 h1.8 l-0.5 1.2 h-1.8 Z" fill="#000"/>
<path d="M436.8 709.2 h1.8 l-0.5 1.2 h-1.8 Z" fill="#000"/>
<path d="M440.07 709.2 h1.8 l-0.5 1.2 h-1.8 Z" fill="#000"/>
<path d="M443.33 709.2 h1.8 l-0.5 1.2 h-1.8 Z" fill="#000"/>
<path d="M446.6 709.2 h1.8 l-0.5 1.2 h-1.8 Z" fill="#000"/>
<path d="M449.87 709.2 h1.8 l-0.5 1.2 h-1.8 Z" fill="#000"/>
<path d="M453.13 709.2 h1.8 l-0.5 1.2 h-1.8 Z" fill="#000"/>
<path d="M456.4 709.2 h1.8 l-0.5 1.2 h-1.8 Z" fill="#000"/>
<path d="M459.67 709.2 h1.8 l-0.5 1.2 h-1.8 Z" fill="#000"/>
<path d="M462.93 709.2 h1.8 l-0.5 1.2 h-1.8 Z" fill="#000"/>
<path d="M437 710.9 H453 L452.6 712.1 H436.6 Z" fill="#777"/>
</g>
<g transform="translate(-29.8 -20)">
<rect x="459.4" y="661.3" width="20.3" height="46.4" fill="#fff" stroke="#000" stroke-width="1.3" />
<rect x="471.9" y="665.5" width="3.8" height="1.5" fill="#000" stroke="none" stroke-width="1" />
<rect x="471.9" y="667.9" width="3.8" height="1.5" fill="#000" stroke="none" stroke-width="1" />
<path d="M440.6 698.8 V703.3 M448.6 698.8 V703.3 M459.4 698.8 V703.3" stroke="#000" stroke-width="1.2" fill="none"/>
<rect x="440.6" y="698.8" width="18.8" height="4.5" fill="#fff" stroke="#000" stroke-width="1.2" />
<line x1="448.6" y1="698.8" x2="448.6" y2="703.3" stroke="#000" stroke-width="1.2" />
<rect x="422.2" y="668.3" width="46.6" height="30.5" fill="#fff" stroke="#000" stroke-width="1.3" />
<rect x="425.4" y="671.4" width="40.2" height="24.8" fill="#fff" stroke="#000" stroke-width="1.2" />
<path d="M426.1 703.3 H464.8 L470.6 713.4 H419.5 Z" fill="#fff" stroke="#000" stroke-width="1.3" stroke-linejoin="round"/>
<path d="M429.2 705.2 h1.8 l-0.5 1.2 h-1.8 Z" fill="#000"/>
<path d="M432.07 705.2 h1.8 l-0.5 1.2 h-1.8 Z" fill="#000"/>
<path d="M434.93 705.2 h1.8 l-0.5 1.2 h-1.8 Z" fill="#000"/>
<path d="M437.8 705.2 h1.8 l-0.5 1.2 h-1.8 Z" fill="#000"/>
<path d="M440.67 705.2 h1.8 l-0.5 1.2 h-1.8 Z" fill="#000"/>
<path d="M443.53 705.2 h1.8 l-0.5 1.2 h-1.8 Z" fill="#000"/>
<path d="M446.4 705.2 h1.8 l-0.5 1.2 h-1.8 Z" fill="#000"/>
<path d="M449.27 705.2 h1.8 l-0.5 1.2 h-1.8 Z" fill="#000"/>
<path d="M452.13 705.2 h1.8 l-0.5 1.2 h-1.8 Z" fill="#000"/>
<path d="M455 705.2 h1.8 l-0.5 1.2 h-1.8 Z" fill="#000"/>
<path d="M457.87 705.2 h1.8 l-0.5 1.2 h-1.8 Z" fill="#000"/>
<path d="M460.73 705.2 h1.8 l-0.5 1.2 h-1.8 Z" fill="#000"/>
<path d="M428.2 707.2 h1.8 l-0.5 1.2 h-1.8 Z" fill="#000"/>
<path d="M431.27 707.2 h1.8 l-0.5 1.2 h-1.8 Z" fill="#000"/>
<path d="M434.33 707.2 h1.8 l-0.5 1.2 h-1.8 Z" fill="#000"/>
<path d="M437.4 707.2 h1.8 l-0.5 1.2 h-1.8 Z" fill="#000"/>
<path d="M440.47 707.2 h1.8 l-0.5 1.2 h-1.8 Z" fill="#000"/>
<path d="M443.53 707.2 h1.8 l-0.5 1.2 h-1.8 Z" fill="#000"/>
<path d="M446.6 707.2 h1.8 l-0.5 1.2 h-1.8 Z" fill="#000"/>
<path d="M449.67 707.2 h1.8 l-0.5 1.2 h-1.8 Z" fill="#000"/>
<path d="M452.73 707.2 h1.8 l-0.5 1.2 h-1.8 Z" fill="#000"/>
<path d="M455.8 707.2 h1.8 l-0.5 1.2 h-1.8 Z" fill="#000"/>
<path d="M458.87 707.2 h1.8 l-0.5 1.2 h-1.8 Z" fill="#000"/>
<path d="M461.93 707.2 h1.8 l-0.5 1.2 h-1.8 Z" fill="#000"/>
<path d="M427 709.2 h1.8 l-0.5 1.2 h-1.8 Z" fill="#000"/>
<path d="M430.27 709.2 h1.8 l-0.5 1.2 h-1.8 Z" fill="#000"/>
<path d="M433.53 709.2 h1.8 l-0.5 1.2 h-1.8 Z" fill="#000"/>
<path d="M436.8 709.2 h1.8 l-0.5 1.2 h-1.8 Z" fill="#000"/>
<path d="M440.07 709.2 h1.8 l-0.5 1.2 h-1.8 Z" fill="#000"/>
<path d="M443.33 709.2 h1.8 l-0.5 1.2 h-1.8 Z" fill="#000"/>
<path d="M446.6 709.2 h1.8 l-0.5 1.2 h-1.8 Z" fill="#000"/>
<path d="M449.87 709.2 h1.8 l-0.5 1.2 h-1.8 Z" fill="#000"/>
<path d="M453.13 709.2 h1.8 l-0.5 1.2 h-1.8 Z" fill="#000"/>
<path d="M456.4 709.2 h1.8 l-0.5 1.2 h-1.8 Z" fill="#000"/>
<path d="M459.67 709.2 h1.8 l-0.5 1.2 h-1.8 Z" fill="#000"/>
<path d="M462.93 709.2 h1.8 l-0.5 1.2 h-1.8 Z" fill="#000"/>
<path d="M437 710.9 H453 L452.6 712.1 H436.6 Z" fill="#777"/>
</g>
<g transform="translate(0 0)">
<rect x="459.4" y="661.3" width="20.3" height="46.4" fill="#fff" stroke="#000" stroke-width="1.3" />
<rect x="471.9" y="665.5" width="3.8" height="1.5" fill="#000" stroke="none" stroke-width="1" />
<rect x="471.9" y="667.9" width="3.8" height="1.5" fill="#000" stroke="none" stroke-width="1" />
<path d="M440.6 698.8 V703.3 M448.6 698.8 V703.3 M459.4 698.8 V703.3" stroke="#000" stroke-width="1.2" fill="none"/>
<rect x="440.6" y="698.8" width="18.8" height="4.5" fill="#fff" stroke="#000" stroke-width="1.2" />
<line x1="448.6" y1="698.8" x2="448.6" y2="703.3" stroke="#000" stroke-width="1.2" />
<rect x="422.2" y="668.3" width="46.6" height="30.5" fill="#fff" stroke="#000" stroke-width="1.3" />
<rect x="425.4" y="671.4" width="40.2" height="24.8" fill="#fff" stroke="#000" stroke-width="1.2" />
<path d="M426.1 703.3 H464.8 L470.6 713.4 H419.5 Z" fill="#fff" stroke="#000" stroke-width="1.3" stroke-linejoin="round"/>
<path d="M429.2 705.2 h1.8 l-0.5 1.2 h-1.8 Z" fill="#000"/>
<path d="M432.07 705.2 h1.8 l-0.5 1.2 h-1.8 Z" fill="#000"/>
<path d="M434.93 705.2 h1.8 l-0.5 1.2 h-1.8 Z" fill="#000"/>
<path d="M437.8 705.2 h1.8 l-0.5 1.2 h-1.8 Z" fill="#000"/>
<path d="M440.67 705.2 h1.8 l-0.5 1.2 h-1.8 Z" fill="#000"/>
<path d="M443.53 705.2 h1.8 l-0.5 1.2 h-1.8 Z" fill="#000"/>
<path d="M446.4 705.2 h1.8 l-0.5 1.2 h-1.8 Z" fill="#000"/>
<path d="M449.27 705.2 h1.8 l-0.5 1.2 h-1.8 Z" fill="#000"/>
<path d="M452.13 705.2 h1.8 l-0.5 1.2 h-1.8 Z" fill="#000"/>
<path d="M455 705.2 h1.8 l-0.5 1.2 h-1.8 Z" fill="#000"/>
<path d="M457.87 705.2 h1.8 l-0.5 1.2 h-1.8 Z" fill="#000"/>
<path d="M460.73 705.2 h1.8 l-0.5 1.2 h-1.8 Z" fill="#000"/>
<path d="M428.2 707.2 h1.8 l-0.5 1.2 h-1.8 Z" fill="#000"/>
<path d="M431.27 707.2 h1.8 l-0.5 1.2 h-1.8 Z" fill="#000"/>
<path d="M434.33 707.2 h1.8 l-0.5 1.2 h-1.8 Z" fill="#000"/>
<path d="M437.4 707.2 h1.8 l-0.5 1.2 h-1.8 Z" fill="#000"/>
<path d="M440.47 707.2 h1.8 l-0.5 1.2 h-1.8 Z" fill="#000"/>
<path d="M443.53 707.2 h1.8 l-0.5 1.2 h-1.8 Z" fill="#000"/>
<path d="M446.6 707.2 h1.8 l-0.5 1.2 h-1.8 Z" fill="#000"/>
<path d="M449.67 707.2 h1.8 l-0.5 1.2 h-1.8 Z" fill="#000"/>
<path d="M452.73 707.2 h1.8 l-0.5 1.2 h-1.8 Z" fill="#000"/>
<path d="M455.8 707.2 h1.8 l-0.5 1.2 h-1.8 Z" fill="#000"/>
<path d="M458.87 707.2 h1.8 l-0.5 1.2 h-1.8 Z" fill="#000"/>
<path d="M461.93 707.2 h1.8 l-0.5 1.2 h-1.8 Z" fill="#000"/>
<path d="M427 709.2 h1.8 l-0.5 1.2 h-1.8 Z" fill="#000"/>
<path d="M430.27 709.2 h1.8 l-0.5 1.2 h-1.8 Z" fill="#000"/>
<path d="M433.53 709.2 h1.8 l-0.5 1.2 h-1.8 Z" fill="#000"/>
<path d="M436.8 709.2 h1.8 l-0.5 1.2 h-1.8 Z" fill="#000"/>
<path d="M440.07 709.2 h1.8 l-0.5 1.2 h-1.8 Z" fill="#000"/>
<path d="M443.33 709.2 h1.8 l-0.5 1.2 h-1.8 Z" fill="#000"/>
<path d="M446.6 709.2 h1.8 l-0.5 1.2 h-1.8 Z" fill="#000"/>
<path d="M449.87 709.2 h1.8 l-0.5 1.2 h-1.8 Z" fill="#000"/>
<path d="M453.13 709.2 h1.8 l-0.5 1.2 h-1.8 Z" fill="#000"/>
<path d="M456.4 709.2 h1.8 l-0.5 1.2 h-1.8 Z" fill="#000"/>
<path d="M459.67 709.2 h1.8 l-0.5 1.2 h-1.8 Z" fill="#000"/>
<path d="M462.93 709.2 h1.8 l-0.5 1.2 h-1.8 Z" fill="#000"/>
<path d="M437 710.9 H453 L452.6 712.1 H436.6 Z" fill="#777"/>
</g>
</svg>
</body></html>
